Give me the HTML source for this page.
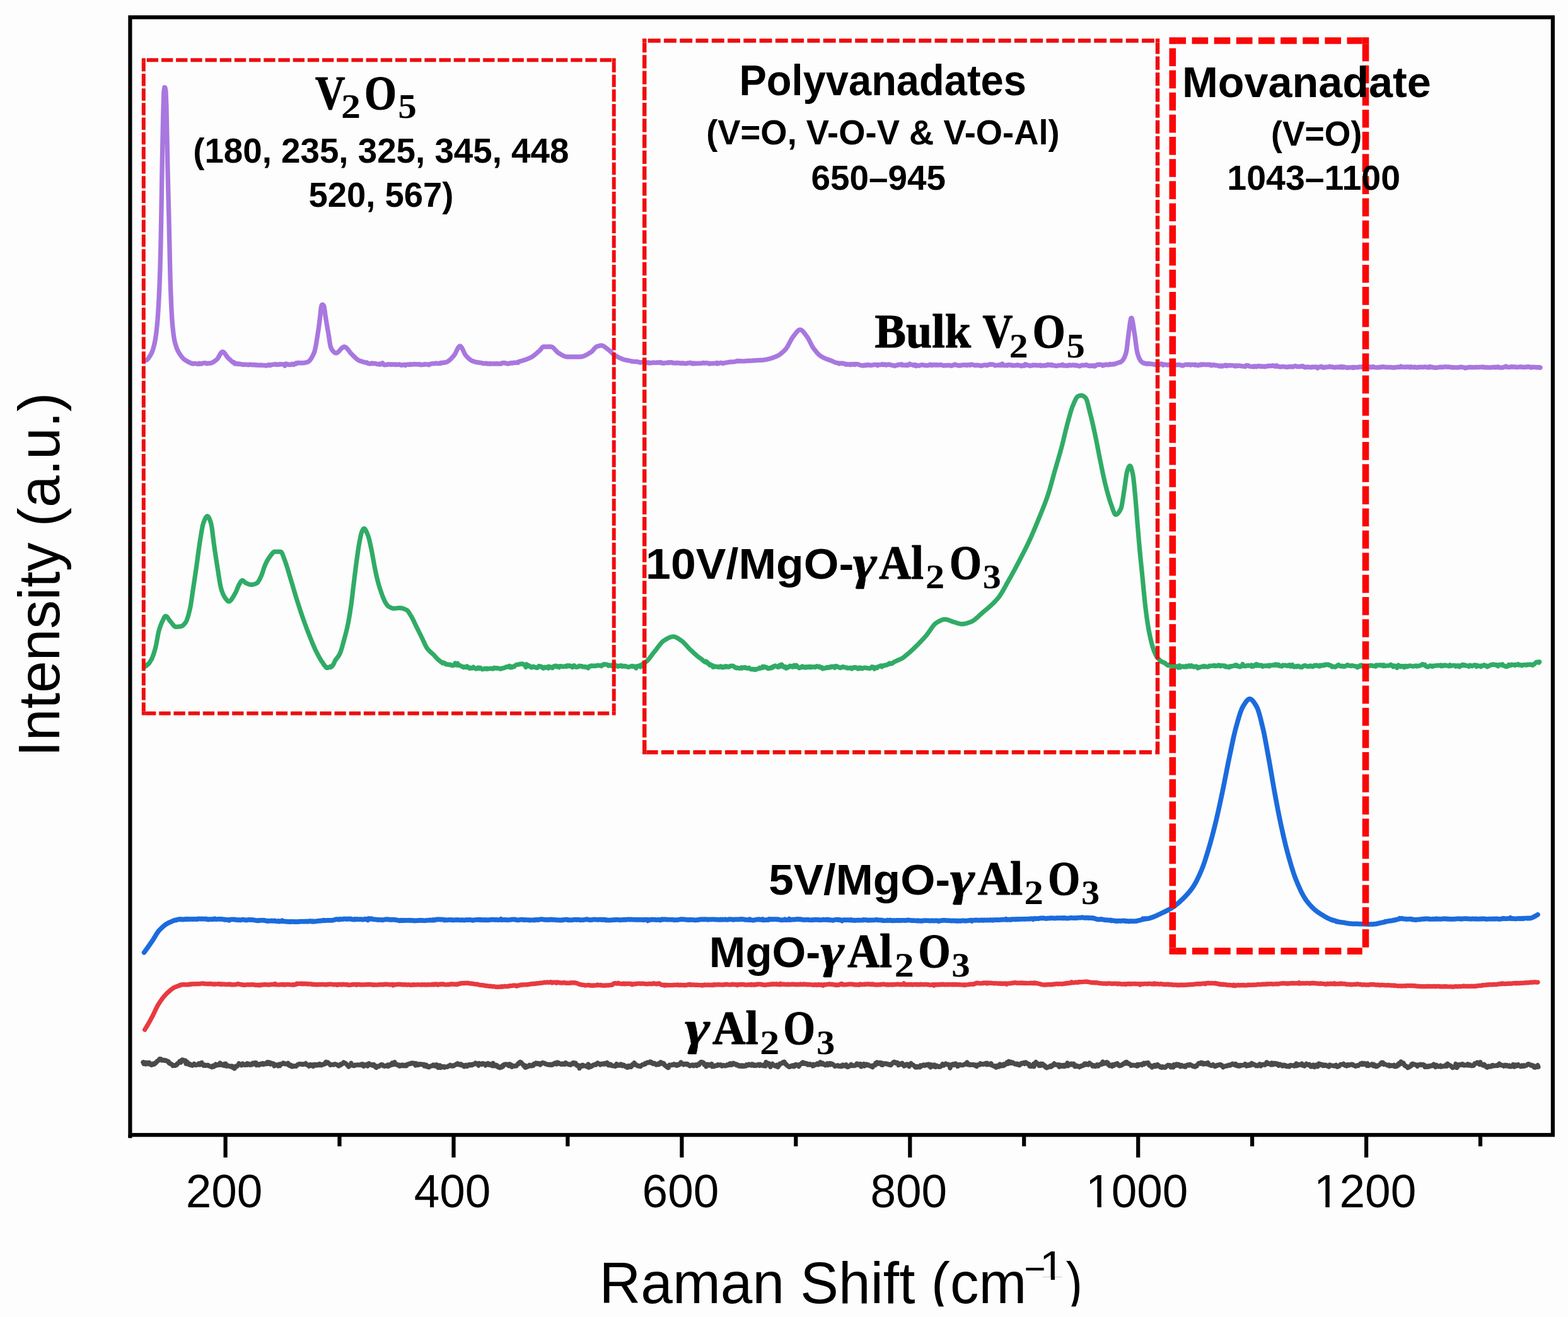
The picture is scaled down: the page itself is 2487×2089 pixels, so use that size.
<!DOCTYPE html>
<html lang="en"><head><meta charset="utf-8"><title>Raman spectra</title>
<style>
html,body{margin:0;padding:0;background:#fdfdfd;}
body{width:2487px;height:2089px;overflow:hidden;}
svg{display:block;position:absolute;left:0;top:0;}
text{fill:#000;white-space:pre;}
.a{font-family:"Liberation Sans",Arial,sans-serif;}
.b{font-family:"Liberation Sans",Arial,sans-serif;font-weight:bold;}
.c{font-family:"Liberation Serif","Times New Roman",serif;font-weight:bold;stroke:#000;stroke-width:1.2px;stroke-linejoin:round;}
.s{font-family:"Liberation Serif","Times New Roman",serif;font-weight:bold;}
.g{font-family:"Liberation Serif","Times New Roman",serif;font-weight:bold;font-style:italic;stroke:#000;stroke-width:0.5px;stroke-linejoin:round;}
.d{font-family:"DejaVu Serif","Liberation Serif",serif;font-weight:bold;}
.crv{fill:none;stroke-linejoin:round;stroke-linecap:round;}
.bx{fill:none;stroke-linecap:butt;stroke-linejoin:miter;}
</style></head><body>
<svg width="2487" height="2089" viewBox="0 0 2487 2089">
<rect x="0" y="0" width="2487" height="2089" fill="#fdfdfd"/>
<g id="curves">
<path class="crv" stroke="#a877df" stroke-width="7.3" d="M230.9,571.5 231.9,571.4 232.9,570.8 233.9,570.0 234.9,569.0 235.9,567.6 236.9,566.1 237.9,564.5 238.9,562.8 239.9,561.0 240.9,559.0 241.9,556.4 242.9,553.3 243.9,549.8 244.9,545.7 245.9,541.1 246.9,535.2 247.9,527.7 248.9,518.7 249.9,508.0 250.9,493.8 251.9,476.2 252.9,455.2 253.9,427.4 254.9,389.0 255.9,337.0 256.9,276.2 257.9,221.3 258.9,175.0 259.9,145.3 260.9,138.6 261.9,138.9 262.9,144.5 263.9,167.6 264.9,214.3 265.9,265.4 266.9,306.3 267.9,344.8 268.9,390.2 269.9,435.3 270.9,465.9 271.9,489.1 272.9,507.4 273.9,519.0 274.9,528.1 275.9,535.4 276.9,540.8 277.9,544.8 278.9,548.2 279.9,551.2 280.9,553.7 281.9,556.0 282.9,557.9 283.9,559.6 284.9,561.2 285.9,562.8 286.9,564.2 287.9,565.5 288.9,566.8 289.9,567.9 290.9,569.0 291.9,569.9 292.9,570.6 293.9,571.3 294.9,571.8 295.9,572.4 296.9,572.9 297.9,573.5 298.9,574.3 299.9,574.7 300.9,574.9 301.9,575.8 302.9,576.2 303.9,576.1 304.9,576.8 305.9,576.5 306.9,577.1 307.9,576.7 308.9,576.5 309.9,576.7 310.9,576.7 311.9,577.1 312.9,577.3 313.9,577.3 314.9,577.2 315.9,576.3 316.9,577.3 317.9,576.6 318.9,577.0 319.9,577.0 320.9,576.5 321.9,576.0 322.9,575.8 323.9,575.8 324.9,575.8 325.9,575.7 326.9,576.2 327.9,576.8 328.9,576.5 329.9,576.6 330.9,576.2 331.9,576.2 332.9,576.1 333.9,576.2 334.9,576.0 335.9,575.6 336.9,574.9 337.9,574.3 338.9,574.1 339.9,573.1 340.9,572.4 341.9,571.8 342.9,571.0 343.9,570.1 344.9,569.0 345.9,567.6 346.9,565.9 347.9,564.1 348.9,562.4 349.9,560.7 350.9,559.3 351.9,558.4 352.9,558.0 353.9,558.2 354.9,558.9 355.9,559.9 356.9,561.1 357.9,562.6 358.9,564.1 359.9,565.5 360.9,566.8 361.9,567.9 362.9,568.8 363.9,569.7 364.9,570.6 365.9,571.6 366.9,572.5 367.9,573.5 368.9,574.2 369.9,575.1 370.9,574.5 371.9,576.6 372.9,577.2 373.9,576.7 374.9,576.9 375.9,576.6 376.9,577.5 377.9,577.5 378.9,577.4 379.9,577.0 380.9,577.5 381.9,577.6 382.9,577.9 383.9,578.0 384.9,578.4 385.9,578.2 386.9,578.6 387.9,578.3 388.9,578.1 389.9,578.1 390.9,578.1 391.9,578.7 392.9,578.5 393.9,578.8 394.9,578.6 395.9,578.2 396.9,577.9 397.9,578.2 398.9,578.7 399.9,578.8 400.9,578.3 401.9,578.6 402.9,578.8 403.9,578.7 404.9,578.5 405.9,579.1 406.9,578.9 407.9,579.1 408.9,579.0 409.9,579.4 410.9,579.1 411.9,579.3 412.9,579.3 413.9,579.0 414.9,578.9 415.9,579.5 416.9,579.3 417.9,579.5 418.9,579.4 419.9,579.3 420.9,579.7 421.9,580.2 422.9,579.3 423.9,579.4 424.9,579.4 425.9,578.6 426.9,579.6 427.9,579.4 428.9,578.6 429.9,579.2 430.9,578.6 431.9,578.4 432.9,578.4 433.9,578.1 434.9,578.2 435.9,577.9 436.9,577.4 437.9,578.1 438.9,578.5 439.9,578.3 440.9,578.1 441.9,578.3 442.9,577.6 443.9,578.1 444.9,577.9 445.9,577.6 446.9,577.8 447.9,577.9 448.9,578.0 449.9,578.0 450.9,577.5 451.9,580.2 452.9,577.3 453.9,577.0 454.9,577.8 455.9,578.0 456.9,577.7 457.9,578.6 458.9,578.6 459.9,578.3 460.9,578.6 461.9,578.4 462.9,577.3 463.9,577.8 464.9,577.7 465.9,578.4 466.9,577.0 467.9,577.4 468.9,577.3 469.9,575.9 470.9,576.5 471.9,576.2 472.9,575.4 473.9,575.3 474.9,575.7 475.9,575.7 476.9,576.0 477.9,575.5 478.9,575.8 479.9,575.7 480.9,575.8 481.9,575.7 482.9,575.7 483.9,575.2 484.9,575.0 485.9,574.8 486.9,574.6 487.9,574.0 488.9,573.8 489.9,573.0 490.9,572.1 491.9,570.9 492.9,569.6 493.9,568.1 494.9,566.4 495.9,564.5 496.9,562.4 497.9,560.2 498.9,557.4 499.9,553.3 500.9,548.4 501.9,542.8 502.9,536.7 503.9,530.6 504.9,524.1 505.9,516.9 506.9,509.0 507.9,500.8 508.9,490.5 509.9,484.9 510.9,483.3 511.9,483.1 512.9,484.0 513.9,485.7 514.9,491.5 515.9,499.3 516.9,505.6 517.9,511.8 518.9,517.8 519.9,523.6 520.9,529.4 521.9,535.6 522.9,542.3 523.9,548.1 524.9,551.8 525.9,553.6 526.9,555.2 527.9,556.6 528.9,557.7 529.9,558.7 530.9,559.4 531.9,559.8 532.9,560.0 533.9,559.9 534.9,559.4 535.9,558.7 536.9,557.8 537.9,556.8 538.9,555.7 539.9,554.5 540.9,553.4 541.9,552.4 542.9,551.4 543.9,550.7 544.9,550.2 545.9,550.0 546.9,550.1 547.9,550.6 548.9,551.3 549.9,552.2 550.9,553.3 551.9,554.5 552.9,555.8 553.9,557.1 554.9,558.5 555.9,559.7 556.9,560.9 557.9,561.9 558.9,562.8 559.9,563.8 560.9,564.8 561.9,565.8 562.9,566.8 563.9,567.7 564.9,568.6 565.9,569.5 566.9,570.3 567.9,571.0 568.9,571.6 569.9,571.9 570.9,572.5 571.9,572.7 572.9,573.1 573.9,573.4 574.9,573.6 575.9,574.2 576.9,574.2 577.9,574.3 578.9,575.0 579.9,575.0 580.9,575.3 581.9,575.0 582.9,576.1 583.9,576.4 584.9,576.7 585.9,576.9 586.9,577.1 587.9,576.5 588.9,576.6 589.9,576.0 590.9,576.2 591.9,576.7 592.9,576.8 593.9,576.5 594.9,576.4 595.9,576.9 596.9,576.9 597.9,577.6 598.9,577.7 599.9,577.5 600.9,577.5 601.9,578.2 602.9,577.0 603.9,577.5 604.9,577.6 605.9,577.7 606.9,575.9 607.9,578.0 608.9,578.5 609.9,578.9 610.9,578.5 611.9,578.3 612.9,578.7 613.9,578.5 614.9,578.1 615.9,577.6 616.9,577.9 617.9,577.9 618.9,578.3 619.9,577.9 620.9,578.3 621.9,578.2 622.9,577.8 623.9,578.2 624.9,578.2 625.9,578.2 626.9,578.6 627.9,578.0 628.9,578.3 629.9,578.3 630.9,578.2 631.9,578.5 632.9,578.0 633.9,578.0 634.9,578.7 635.9,578.9 636.9,579.4 637.9,578.9 638.9,578.4 639.9,578.9 640.9,578.6 641.9,578.4 642.9,579.5 643.9,578.5 644.9,578.4 645.9,578.2 646.9,578.2 647.9,578.2 648.9,578.6 649.9,577.9 650.9,577.7 651.9,578.4 652.9,578.3 653.9,577.9 654.9,577.8 655.9,577.7 656.9,577.4 657.9,578.0 658.9,577.7 659.9,577.7 660.9,577.8 661.9,578.0 662.9,577.9 663.9,578.0 664.9,577.4 665.9,578.1 666.9,578.7 667.9,578.1 668.9,578.7 669.9,578.5 670.9,578.4 671.9,578.2 672.9,577.6 673.9,578.2 674.9,577.7 675.9,577.8 676.9,578.1 677.9,577.8 678.9,578.1 679.9,578.8 680.9,578.0 681.9,577.9 682.9,577.2 683.9,577.1 684.9,576.8 685.9,576.9 686.9,576.7 687.9,576.8 688.9,576.9 689.9,576.5 690.9,576.2 691.9,576.1 692.9,576.6 693.9,576.5 694.9,576.7 695.9,576.7 696.9,576.2 697.9,576.3 698.9,575.5 699.9,576.2 700.9,575.7 701.9,575.4 702.9,575.2 703.9,575.4 704.9,574.8 705.9,574.9 706.9,574.9 707.9,574.5 708.9,574.0 709.9,573.6 710.9,572.7 711.9,572.2 712.9,571.4 713.9,570.5 714.9,569.6 715.9,568.6 716.9,567.5 717.9,566.4 718.9,565.2 719.9,564.1 720.9,562.8 721.9,561.1 722.9,559.1 723.9,557.0 724.9,554.9 725.9,553.0 726.9,551.3 727.9,550.0 728.9,549.2 729.9,549.0 730.9,549.6 731.9,550.8 732.9,552.4 733.9,554.4 734.9,556.5 735.9,558.7 736.9,560.7 737.9,562.5 738.9,563.9 739.9,565.0 740.9,566.0 741.9,567.1 742.9,568.1 743.9,569.0 744.9,569.8 745.9,570.7 746.9,571.3 747.9,571.9 748.9,572.4 749.9,572.7 750.9,573.1 751.9,573.4 752.9,573.7 753.9,574.0 754.9,574.4 755.9,574.6 756.9,574.9 757.9,574.8 758.9,574.7 759.9,575.2 760.9,575.4 761.9,575.4 762.9,575.6 763.9,575.6 764.9,575.9 765.9,576.4 766.9,576.6 767.9,576.4 768.9,576.7 769.9,576.4 770.9,576.2 771.9,576.6 772.9,577.1 773.9,576.5 774.9,577.1 775.9,577.2 776.9,577.2 777.9,576.5 778.9,577.3 779.9,576.8 780.9,576.8 781.9,576.8 782.9,577.1 783.9,576.9 784.9,576.8 785.9,577.2 786.9,576.7 787.9,576.6 788.9,577.0 789.9,577.0 790.9,577.2 791.9,576.7 792.9,577.2 793.9,576.9 794.9,577.0 795.9,575.9 796.9,576.0 797.9,575.7 798.9,575.3 799.9,575.5 800.9,576.1 801.9,575.9 802.9,576.1 803.9,576.8 804.9,577.0 805.9,577.0 806.9,576.4 807.9,576.3 808.9,576.3 809.9,575.7 810.9,575.6 811.9,576.0 812.9,576.2 813.9,575.6 814.9,575.2 815.9,575.3 816.9,575.2 817.9,575.3 818.9,575.3 819.9,574.9 820.9,574.5 821.9,575.2 822.9,573.7 823.9,573.5 824.9,573.1 825.9,572.8 826.9,572.7 827.9,572.3 828.9,571.9 829.9,571.6 830.9,571.2 831.9,570.9 832.9,570.8 833.9,570.4 834.9,570.0 835.9,569.6 836.9,569.2 837.9,568.8 838.9,568.4 839.9,568.0 840.9,567.6 841.9,567.1 842.9,566.5 843.9,565.9 844.9,565.3 845.9,564.5 846.9,563.8 847.9,563.0 848.9,562.2 849.9,561.4 850.9,560.5 851.9,559.6 852.9,558.7 853.9,557.9 854.9,557.0 855.9,556.1 856.9,555.1 857.9,553.8 858.9,552.5 859.9,551.3 860.9,550.4 861.9,550.0 862.9,550.0 863.9,550.0 864.9,550.0 865.9,550.0 866.9,550.0 867.9,550.0 868.9,550.0 869.9,550.0 870.9,550.0 871.9,550.0 872.9,550.0 873.9,550.0 874.9,550.1 875.9,550.5 876.9,551.2 877.9,552.0 878.9,553.0 879.9,554.0 880.9,555.2 881.9,556.3 882.9,557.4 883.9,558.4 884.9,559.2 885.9,559.9 886.9,560.5 887.9,561.1 888.9,561.7 889.9,562.3 890.9,562.9 891.9,563.4 892.9,563.9 893.9,564.4 894.9,564.9 895.9,565.2 896.9,565.5 897.9,565.8 898.9,565.9 899.9,566.0 900.9,566.0 901.9,566.0 902.9,566.0 903.9,566.0 904.9,566.0 905.9,566.0 906.9,566.0 907.9,566.0 908.9,566.0 909.9,566.0 910.9,566.0 911.9,566.0 912.9,566.0 913.9,566.0 914.9,566.0 915.9,566.0 916.9,566.0 917.9,566.0 918.9,566.0 919.9,566.0 920.9,566.0 921.9,565.9 922.9,565.7 923.9,565.5 924.9,565.2 925.9,564.8 926.9,564.4 927.9,564.0 928.9,563.5 929.9,563.0 930.9,562.4 931.9,561.9 932.9,561.3 933.9,560.6 934.9,560.0 935.9,559.4 936.9,558.7 937.9,558.1 938.9,557.3 939.9,556.3 940.9,555.1 941.9,553.9 942.9,552.7 943.9,551.6 944.9,550.7 945.9,550.0 946.9,549.6 947.9,549.3 948.9,548.9 949.9,548.6 950.9,548.4 951.9,548.2 952.9,548.1 953.9,548.0 954.9,548.1 955.9,548.4 956.9,548.8 957.9,549.4 958.9,550.1 959.9,550.8 960.9,551.6 961.9,552.4 962.9,553.2 963.9,553.9 964.9,554.7 965.9,555.5 966.9,556.3 967.9,557.2 968.9,558.1 969.9,559.1 970.9,560.0 971.9,560.9 972.9,561.8 973.9,562.6 974.9,563.3 975.9,563.9 976.9,564.5 977.9,565.1 978.9,565.6 979.9,566.2 980.9,566.7 981.9,567.2 982.9,567.7 983.9,568.2 984.9,568.6 985.9,569.0 986.9,569.4 987.9,569.8 988.9,570.2 989.9,570.5 990.9,570.8 991.9,571.1 992.9,571.1 993.9,571.4 994.9,571.6 995.9,571.7 996.9,571.9 997.9,572.1 998.9,572.3 999.9,572.5 1000.9,572.8 1001.9,573.3 1002.9,573.2 1003.9,573.2 1004.9,573.5 1005.9,573.6 1006.9,573.7 1007.9,573.5 1008.9,573.8 1009.9,573.6 1010.9,573.6 1011.9,573.9 1012.9,574.3 1013.9,574.7 1014.9,574.9 1015.9,575.2 1016.9,574.9 1017.9,574.6 1018.9,574.6 1019.9,574.2 1020.9,573.5 1021.9,574.4 1022.9,574.4 1023.9,575.6 1024.9,574.9 1025.9,575.0 1026.9,575.2 1027.9,575.7 1028.9,575.0 1029.9,575.8 1030.9,576.1 1031.9,575.6 1032.9,575.5 1033.9,575.4 1034.9,575.6 1035.9,574.9 1036.9,575.2 1037.9,575.2 1038.9,575.4 1039.9,575.3 1040.9,575.4 1041.9,575.0 1042.9,575.0 1043.9,574.9 1044.9,575.0 1045.9,575.2 1046.9,575.3 1047.9,574.6 1048.9,575.9 1049.9,575.7 1050.9,575.6 1051.9,576.3 1052.9,575.8 1053.9,576.0 1054.9,575.7 1055.9,575.6 1056.9,575.5 1057.9,575.2 1058.9,575.3 1059.9,575.7 1060.9,574.6 1061.9,575.0 1062.9,575.0 1063.9,574.7 1064.9,574.7 1065.9,575.6 1066.9,575.2 1067.9,575.8 1068.9,575.6 1069.9,575.6 1070.9,575.9 1071.9,576.0 1072.9,576.1 1073.9,575.4 1074.9,575.5 1075.9,575.7 1076.9,576.0 1077.9,576.1 1078.9,575.8 1079.9,576.1 1080.9,576.4 1081.9,576.1 1082.9,575.8 1083.9,576.1 1084.9,576.4 1085.9,576.6 1086.9,576.7 1087.9,576.3 1088.9,576.7 1089.9,576.1 1090.9,575.8 1091.9,576.1 1092.9,575.6 1093.9,575.7 1094.9,575.3 1095.9,576.1 1096.9,576.4 1097.9,576.8 1098.9,576.1 1099.9,576.9 1100.9,576.5 1101.9,576.8 1102.9,576.1 1103.9,576.6 1104.9,576.4 1105.9,576.5 1106.9,576.3 1107.9,576.2 1108.9,576.4 1109.9,576.3 1110.9,576.2 1111.9,576.3 1112.9,576.2 1113.9,575.9 1114.9,575.5 1115.9,575.5 1116.9,576.1 1117.9,576.0 1118.9,575.9 1119.9,575.7 1120.9,575.9 1121.9,575.9 1122.9,576.0 1123.9,576.1 1124.9,577.1 1125.9,576.9 1126.9,576.7 1127.9,576.5 1128.9,576.4 1129.9,576.6 1130.9,576.5 1131.9,576.3 1132.9,576.3 1133.9,576.2 1134.9,576.1 1135.9,576.6 1136.9,575.6 1137.9,576.8 1138.9,576.0 1139.9,576.1 1140.9,576.3 1141.9,575.8 1142.9,575.5 1143.9,575.5 1144.9,575.8 1145.9,575.9 1146.9,576.5 1147.9,576.0 1148.9,575.8 1149.9,575.5 1150.9,575.2 1151.9,575.1 1152.9,575.1 1153.9,575.0 1154.9,574.7 1155.9,574.6 1156.9,574.4 1157.9,574.0 1158.9,574.0 1159.9,574.2 1160.9,574.0 1161.9,574.2 1162.9,573.9 1163.9,573.9 1164.9,573.8 1165.9,573.6 1166.9,573.2 1167.9,573.1 1168.9,573.0 1169.9,572.3 1170.9,572.9 1171.9,572.9 1172.9,572.7 1173.9,572.9 1174.9,572.7 1175.9,572.8 1176.9,572.8 1177.9,572.8 1178.9,572.9 1179.9,572.8 1180.9,572.9 1181.9,572.7 1182.9,572.6 1183.9,572.5 1184.9,572.3 1185.9,572.3 1186.9,572.2 1187.9,572.3 1188.9,572.2 1189.9,572.3 1190.9,572.3 1191.9,572.2 1192.9,572.1 1193.9,572.1 1194.9,572.0 1195.9,571.9 1196.9,571.7 1197.9,571.8 1198.9,571.9 1199.9,571.6 1200.9,571.5 1201.9,571.5 1202.9,571.3 1203.9,571.4 1204.9,571.3 1205.9,571.2 1206.9,571.3 1207.9,571.3 1208.9,571.1 1209.9,571.1 1210.9,571.0 1211.9,570.9 1212.9,570.7 1213.9,570.5 1214.9,570.4 1215.9,570.2 1216.9,569.9 1217.9,569.7 1218.9,569.5 1219.9,569.2 1220.9,569.0 1221.9,568.6 1222.9,568.4 1223.9,568.0 1224.9,567.7 1225.9,567.4 1226.9,567.0 1227.9,566.6 1228.9,566.3 1229.9,565.9 1230.9,565.5 1231.9,565.0 1232.9,564.6 1233.9,564.1 1234.9,563.5 1235.9,562.9 1236.9,562.2 1237.9,561.5 1238.9,560.7 1239.9,559.9 1240.9,559.0 1241.9,558.1 1242.9,557.2 1243.9,556.2 1244.9,555.2 1245.9,554.1 1246.9,552.9 1247.9,551.5 1248.9,549.9 1249.9,548.2 1250.9,546.3 1251.9,544.4 1252.9,542.5 1253.9,540.6 1254.9,538.8 1255.9,537.1 1256.9,535.5 1257.9,534.1 1258.9,532.8 1259.9,531.5 1260.9,530.2 1261.9,528.8 1262.9,527.5 1263.9,526.3 1264.9,525.3 1265.9,524.3 1266.9,523.6 1267.9,523.2 1268.9,523.0 1269.9,523.1 1270.9,523.5 1271.9,524.2 1272.9,525.0 1273.9,526.0 1274.9,527.2 1275.9,528.5 1276.9,529.8 1277.9,531.2 1278.9,532.5 1279.9,533.9 1280.9,535.3 1281.9,536.9 1282.9,538.7 1283.9,540.7 1284.9,542.7 1285.9,544.7 1286.9,546.7 1287.9,548.6 1288.9,550.3 1289.9,551.9 1290.9,553.2 1291.9,554.5 1292.9,555.8 1293.9,557.1 1294.9,558.3 1295.9,559.5 1296.9,560.6 1297.9,561.6 1298.9,562.6 1299.9,563.4 1300.9,564.2 1301.9,564.9 1302.9,565.5 1303.9,566.1 1304.9,566.7 1305.9,567.2 1306.9,567.7 1307.9,568.2 1308.9,568.6 1309.9,569.1 1310.9,569.4 1311.9,569.8 1312.9,570.2 1313.9,570.5 1314.9,570.9 1315.9,571.3 1316.9,571.7 1317.9,571.8 1318.9,572.3 1319.9,572.8 1320.9,573.2 1321.9,573.7 1322.9,574.1 1323.9,574.7 1324.9,574.8 1325.9,575.2 1326.9,575.5 1327.9,575.7 1328.9,575.7 1329.9,576.1 1330.9,577.0 1331.9,576.2 1332.9,576.3 1333.9,576.2 1334.9,576.3 1335.9,576.2 1336.9,576.1 1337.9,576.7 1338.9,576.9 1339.9,577.6 1340.9,577.9 1341.9,577.3 1342.9,578.3 1343.9,577.8 1344.9,577.8 1345.9,578.1 1346.9,577.9 1347.9,577.8 1348.9,578.6 1349.9,577.6 1350.9,577.8 1351.9,578.1 1352.9,577.5 1353.9,577.9 1354.9,578.1 1355.9,578.5 1356.9,577.4 1357.9,577.5 1358.9,577.7 1359.9,577.7 1360.9,577.7 1361.9,578.3 1362.9,578.6 1363.9,578.9 1364.9,579.3 1365.9,579.5 1366.9,579.6 1367.9,579.9 1368.9,579.7 1369.9,580.1 1370.9,579.1 1371.9,579.6 1372.9,579.5 1373.9,578.8 1374.9,579.3 1375.9,579.3 1376.9,578.5 1377.9,578.9 1378.9,578.9 1379.9,579.6 1380.9,579.4 1381.9,579.3 1382.9,579.1 1383.9,579.2 1384.9,578.8 1385.9,578.6 1386.9,578.5 1387.9,578.6 1388.9,578.3 1389.9,578.7 1390.9,578.5 1391.9,579.7 1392.9,578.4 1393.9,578.9 1394.9,578.7 1395.9,578.7 1396.9,578.6 1397.9,578.7 1398.9,577.7 1399.9,578.4 1400.9,577.9 1401.9,578.8 1402.9,577.9 1403.9,578.2 1404.9,578.1 1405.9,579.1 1406.9,578.2 1407.9,578.5 1408.9,578.2 1409.9,577.8 1410.9,578.2 1411.9,578.7 1412.9,578.7 1413.9,579.3 1414.9,579.2 1415.9,579.5 1416.9,579.5 1417.9,579.9 1418.9,580.5 1419.9,580.0 1420.9,579.8 1421.9,579.3 1422.9,579.0 1423.9,579.4 1424.9,578.4 1425.9,578.3 1426.9,578.4 1427.9,578.2 1428.9,578.9 1429.9,577.8 1430.9,578.9 1431.9,579.3 1432.9,578.9 1433.9,578.9 1434.9,579.2 1435.9,579.5 1436.9,578.8 1437.9,578.7 1438.9,579.6 1439.9,579.6 1440.9,578.8 1441.9,577.8 1442.9,577.0 1443.9,578.2 1444.9,578.7 1445.9,578.6 1446.9,578.7 1447.9,578.9 1448.9,579.5 1449.9,579.5 1450.9,578.4 1451.9,578.7 1452.9,580.6 1453.9,579.3 1454.9,579.3 1455.9,579.9 1456.9,580.1 1457.9,580.2 1458.9,579.6 1459.9,579.3 1460.9,579.0 1461.9,579.1 1462.9,578.7 1463.9,578.9 1464.9,579.0 1465.9,579.5 1466.9,579.4 1467.9,579.4 1468.9,579.7 1469.9,579.7 1470.9,579.8 1471.9,579.4 1472.9,579.4 1473.9,578.9 1474.9,578.3 1475.9,578.2 1476.9,578.8 1477.9,579.5 1478.9,578.9 1479.9,578.6 1480.9,578.5 1481.9,579.1 1482.9,579.2 1483.9,578.8 1484.9,578.5 1485.9,579.2 1486.9,578.7 1487.9,579.0 1488.9,579.0 1489.9,578.6 1490.9,578.8 1491.9,578.4 1492.9,578.9 1493.9,578.9 1494.9,579.7 1495.9,579.7 1496.9,580.0 1497.9,579.8 1498.9,579.4 1499.9,579.7 1500.9,579.5 1501.9,579.8 1502.9,579.7 1503.9,579.1 1504.9,579.3 1505.9,579.3 1506.9,579.3 1507.9,579.9 1508.9,580.3 1509.9,579.8 1510.9,579.7 1511.9,578.8 1512.9,579.0 1513.9,578.5 1514.9,577.9 1515.9,578.7 1516.9,579.1 1517.9,579.1 1518.9,579.5 1519.9,579.6 1520.9,580.1 1521.9,579.3 1522.9,579.4 1523.9,579.9 1524.9,579.1 1525.9,579.2 1526.9,579.0 1527.9,578.7 1528.9,579.0 1529.9,579.0 1530.9,578.6 1531.9,579.0 1532.9,579.4 1533.9,579.5 1534.9,578.7 1535.9,578.8 1536.9,578.6 1537.9,579.3 1538.9,579.1 1539.9,578.1 1540.9,578.3 1541.9,578.2 1542.9,578.7 1543.9,579.0 1544.9,579.0 1545.9,579.4 1546.9,579.6 1547.9,579.6 1548.9,579.3 1549.9,578.9 1550.9,579.4 1551.9,579.5 1552.9,579.4 1553.9,579.7 1554.9,579.9 1555.9,580.4 1556.9,580.0 1557.9,579.8 1558.9,579.8 1559.9,579.1 1560.9,579.2 1561.9,578.9 1562.9,578.9 1563.9,579.3 1564.9,579.7 1565.9,579.1 1566.9,579.3 1567.9,578.5 1568.9,578.3 1569.9,577.8 1570.9,577.9 1571.9,578.4 1572.9,577.9 1573.9,578.1 1574.9,578.2 1575.9,578.4 1576.9,578.7 1577.9,579.9 1578.9,579.5 1579.9,579.4 1580.9,579.4 1581.9,579.3 1582.9,579.1 1583.9,579.3 1584.9,579.0 1585.9,579.4 1586.9,578.2 1587.9,578.7 1588.9,579.4 1589.9,577.0 1590.9,578.5 1591.9,578.9 1592.9,579.5 1593.9,579.4 1594.9,579.5 1595.9,579.2 1596.9,579.0 1597.9,579.9 1598.9,578.8 1599.9,578.6 1600.9,578.6 1601.9,578.9 1602.9,579.1 1603.9,579.5 1604.9,579.6 1605.9,579.2 1606.9,579.9 1607.9,579.8 1608.9,579.9 1609.9,579.5 1610.9,579.7 1611.9,579.4 1612.9,579.3 1613.9,578.7 1614.9,579.2 1615.9,579.5 1616.9,579.5 1617.9,580.0 1618.9,580.1 1619.9,580.7 1620.9,579.7 1621.9,580.2 1622.9,580.2 1623.9,579.4 1624.9,579.9 1625.9,577.7 1626.9,578.4 1627.9,578.1 1628.9,579.1 1629.9,579.2 1630.9,579.7 1631.9,579.4 1632.9,579.8 1633.9,580.5 1634.9,580.0 1635.9,579.8 1636.9,579.7 1637.9,579.0 1638.9,579.5 1639.9,579.1 1640.9,579.2 1641.9,579.0 1642.9,579.5 1643.9,579.2 1644.9,579.6 1645.9,579.5 1646.9,579.4 1647.9,579.4 1648.9,579.7 1649.9,579.1 1650.9,580.4 1651.9,580.1 1652.9,580.0 1653.9,579.8 1654.9,579.6 1655.9,579.7 1656.9,580.0 1657.9,580.1 1658.9,579.3 1659.9,578.9 1660.9,579.3 1661.9,578.4 1662.9,579.2 1663.9,578.8 1664.9,578.5 1665.9,579.2 1666.9,579.5 1667.9,578.6 1668.9,579.5 1669.9,579.1 1670.9,579.9 1671.9,579.7 1672.9,579.6 1673.9,580.3 1674.9,580.4 1675.9,580.5 1676.9,580.2 1677.9,579.8 1678.9,579.5 1679.9,579.5 1680.9,579.7 1681.9,579.6 1682.9,579.7 1683.9,578.8 1684.9,578.2 1685.9,579.2 1686.9,580.0 1687.9,579.6 1688.9,579.5 1689.9,580.1 1690.9,579.8 1691.9,580.1 1692.9,579.5 1693.9,580.2 1694.9,579.6 1695.9,578.8 1696.9,579.1 1697.9,579.5 1698.9,579.5 1699.9,579.5 1700.9,579.0 1701.9,579.0 1702.9,579.2 1703.9,579.6 1704.9,579.2 1705.9,579.2 1706.9,579.9 1707.9,579.3 1708.9,579.9 1709.9,579.9 1710.9,580.4 1711.9,580.9 1712.9,580.7 1713.9,580.5 1714.9,579.6 1715.9,579.2 1716.9,579.2 1717.9,579.3 1718.9,579.2 1719.9,579.6 1720.9,579.1 1721.9,579.2 1722.9,578.5 1723.9,579.4 1724.9,579.6 1725.9,579.6 1726.9,580.5 1727.9,580.0 1728.9,580.5 1729.9,579.9 1730.9,580.6 1731.9,579.9 1732.9,580.4 1733.9,579.6 1734.9,579.9 1735.9,581.0 1736.9,580.9 1737.9,579.8 1738.9,579.3 1739.9,578.4 1740.9,578.9 1741.9,578.6 1742.9,578.0 1743.9,578.5 1744.9,578.2 1745.9,578.3 1746.9,578.8 1747.9,578.8 1748.9,579.8 1749.9,578.7 1750.9,579.3 1751.9,579.1 1752.9,578.8 1753.9,578.0 1754.9,578.6 1755.9,578.3 1756.9,578.6 1757.9,578.9 1758.9,578.4 1759.9,577.7 1760.9,577.5 1761.9,578.3 1762.9,577.8 1763.9,578.0 1764.9,577.9 1765.9,577.2 1766.9,577.9 1767.9,577.5 1768.9,577.2 1769.9,576.5 1770.9,576.4 1771.9,576.1 1772.9,575.7 1773.9,575.1 1774.9,575.0 1775.9,574.5 1776.9,574.7 1777.9,573.6 1778.9,573.4 1779.9,572.5 1780.9,571.1 1781.9,569.8 1782.9,567.9 1783.9,565.7 1784.9,563.2 1785.9,560.3 1786.9,555.5 1787.9,547.7 1788.9,538.7 1789.9,530.7 1790.9,523.4 1791.9,515.6 1792.9,508.8 1793.9,504.6 1794.9,504.4 1795.9,507.5 1796.9,512.6 1797.9,519.0 1798.9,525.7 1799.9,531.8 1800.9,539.1 1801.9,547.1 1802.9,554.4 1803.9,559.6 1804.9,562.9 1805.9,565.8 1806.9,568.3 1807.9,570.3 1808.9,572.1 1809.9,573.2 1810.9,574.0 1811.9,574.7 1812.9,575.8 1813.9,575.9 1814.9,575.8 1815.9,576.7 1816.9,576.5 1817.9,576.7 1818.9,577.3 1819.9,577.2 1820.9,576.9 1821.9,576.5 1822.9,577.2 1823.9,577.4 1824.9,577.3 1825.9,577.1 1826.9,577.3 1827.9,577.3 1828.9,577.8 1829.9,578.1 1830.9,578.3 1831.9,577.9 1832.9,578.3 1833.9,578.9 1834.9,578.9 1835.9,578.3 1836.9,579.0 1837.9,578.4 1838.9,578.4 1839.9,577.8 1840.9,577.7 1841.9,576.9 1842.9,577.3 1843.9,577.8 1844.9,579.3 1845.9,578.1 1846.9,578.2 1847.9,578.2 1848.9,578.2 1849.9,578.5 1850.9,578.9 1851.9,579.0 1852.9,579.1 1853.9,578.5 1854.9,578.1 1855.9,578.2 1856.9,578.0 1857.9,578.1 1858.9,578.9 1859.9,578.6 1860.9,578.7 1861.9,579.0 1862.9,578.9 1863.9,578.3 1864.9,578.8 1865.9,578.6 1866.9,578.6 1867.9,578.8 1868.9,578.3 1869.9,578.4 1870.9,578.7 1871.9,579.1 1872.9,579.0 1873.9,579.4 1874.9,579.9 1875.9,580.1 1876.9,579.7 1877.9,579.1 1878.9,578.8 1879.9,578.5 1880.9,578.5 1881.9,578.2 1882.9,578.1 1883.9,578.8 1884.9,578.3 1885.9,578.1 1886.9,578.6 1887.9,579.1 1888.9,578.5 1889.9,578.8 1890.9,578.3 1891.9,578.3 1892.9,578.3 1893.9,578.5 1894.9,579.1 1895.9,578.3 1896.9,579.2 1897.9,579.1 1898.9,579.1 1899.9,579.6 1900.9,579.6 1901.9,578.7 1902.9,578.6 1903.9,578.8 1904.9,578.0 1905.9,578.9 1906.9,578.0 1907.9,578.3 1908.9,578.0 1909.9,578.3 1910.9,578.1 1911.9,578.7 1912.9,578.3 1913.9,578.5 1914.9,578.1 1915.9,578.2 1916.9,578.7 1917.9,578.1 1918.9,578.1 1919.9,579.1 1920.9,579.8 1921.9,579.0 1922.9,579.3 1923.9,578.7 1924.9,579.1 1925.9,578.7 1926.9,579.5 1927.9,579.6 1928.9,579.3 1929.9,579.5 1930.9,579.6 1931.9,580.2 1932.9,580.6 1933.9,580.0 1934.9,580.8 1935.9,580.2 1936.9,580.9 1937.9,580.0 1938.9,581.0 1939.9,580.2 1940.9,580.0 1941.9,579.6 1942.9,580.0 1943.9,579.1 1944.9,579.8 1945.9,580.5 1946.9,579.7 1947.9,579.7 1948.9,579.8 1949.9,579.4 1950.9,579.6 1951.9,579.9 1952.9,579.6 1953.9,579.7 1954.9,579.6 1955.9,579.9 1956.9,579.9 1957.9,580.4 1958.9,580.9 1959.9,580.1 1960.9,579.6 1961.9,580.5 1962.9,580.6 1963.9,580.1 1964.9,579.8 1965.9,580.1 1966.9,580.6 1967.9,580.2 1968.9,580.5 1969.9,580.8 1970.9,581.0 1971.9,580.8 1972.9,580.9 1973.9,580.9 1974.9,581.5 1975.9,581.2 1976.9,579.5 1977.9,579.9 1978.9,580.0 1979.9,579.7 1980.9,580.4 1981.9,581.2 1982.9,581.2 1983.9,581.3 1984.9,581.5 1985.9,581.5 1986.9,581.1 1987.9,581.2 1988.9,581.8 1989.9,580.8 1990.9,580.9 1991.9,581.3 1992.9,581.7 1993.9,580.9 1994.9,580.4 1995.9,580.8 1996.9,580.4 1997.9,581.2 1998.9,581.0 1999.9,581.4 2000.9,581.0 2001.9,581.3 2002.9,581.1 2003.9,581.3 2004.9,581.1 2005.9,581.7 2006.9,581.0 2007.9,581.4 2008.9,580.8 2009.9,580.9 2010.9,580.6 2011.9,580.2 2012.9,580.5 2013.9,580.6 2014.9,580.4 2015.9,580.5 2016.9,580.2 2017.9,580.3 2018.9,579.8 2019.9,580.5 2020.9,580.4 2021.9,580.5 2022.9,581.3 2023.9,580.9 2024.9,579.8 2025.9,580.7 2026.9,581.1 2027.9,581.5 2028.9,581.5 2029.9,581.8 2030.9,582.0 2031.9,581.8 2032.9,581.7 2033.9,581.4 2034.9,581.4 2035.9,581.5 2036.9,581.7 2037.9,581.8 2038.9,581.9 2039.9,582.1 2040.9,582.3 2041.9,582.1 2042.9,582.0 2043.9,581.9 2044.9,581.6 2045.9,581.4 2046.9,581.8 2047.9,581.8 2048.9,581.5 2049.9,581.4 2050.9,582.0 2051.9,581.1 2052.9,581.1 2053.9,580.4 2054.9,580.8 2055.9,581.1 2056.9,581.6 2057.9,581.5 2058.9,581.5 2059.9,581.5 2060.9,581.4 2061.9,581.5 2062.9,581.1 2063.9,581.0 2064.9,581.2 2065.9,580.6 2066.9,581.7 2067.9,582.1 2068.9,581.7 2069.9,582.6 2070.9,582.8 2071.9,582.5 2072.9,582.0 2073.9,581.9 2074.9,582.3 2075.9,582.1 2076.9,582.6 2077.9,582.4 2078.9,582.7 2079.9,582.8 2080.9,581.9 2081.9,582.4 2082.9,582.1 2083.9,582.0 2084.9,582.2 2085.9,582.3 2086.9,581.9 2087.9,582.0 2088.9,582.6 2089.9,583.9 2090.9,582.4 2091.9,582.3 2092.9,582.0 2093.9,581.6 2094.9,582.1 2095.9,581.4 2096.9,582.5 2097.9,583.0 2098.9,582.6 2099.9,582.5 2100.9,583.1 2101.9,582.1 2102.9,582.2 2103.9,582.3 2104.9,582.1 2105.9,582.2 2106.9,581.8 2107.9,582.1 2108.9,581.2 2109.9,581.9 2110.9,581.7 2111.9,582.1 2112.9,582.3 2113.9,582.0 2114.9,582.5 2115.9,582.8 2116.9,582.7 2117.9,583.0 2118.9,582.2 2119.9,582.3 2120.9,582.4 2121.9,582.1 2122.9,582.5 2123.9,582.2 2124.9,582.6 2125.9,581.5 2126.9,582.5 2127.9,582.1 2128.9,581.7 2129.9,582.9 2130.9,581.9 2131.9,582.3 2132.9,582.2 2133.9,582.5 2134.9,583.0 2135.9,582.9 2136.9,583.3 2137.9,582.7 2138.9,583.2 2139.9,582.9 2140.9,582.8 2141.9,582.8 2142.9,582.9 2143.9,582.9 2144.9,582.5 2145.9,583.5 2146.9,582.4 2147.9,583.0 2148.9,582.5 2149.9,582.7 2150.9,582.5 2151.9,582.8 2152.9,582.9 2153.9,582.5 2154.9,582.5 2155.9,582.0 2156.9,582.2 2157.9,582.2 2158.9,581.9 2159.9,582.3 2160.9,581.7 2161.9,581.7 2162.9,581.9 2163.9,582.2 2164.9,582.3 2165.9,582.3 2166.9,582.3 2167.9,582.4 2168.9,582.1 2169.9,581.9 2170.9,581.9 2171.9,582.7 2172.9,581.8 2173.9,582.3 2174.9,582.7 2175.9,582.5 2176.9,582.2 2177.9,581.5 2178.9,582.5 2179.9,582.7 2180.9,582.7 2181.9,582.8 2182.9,582.8 2183.9,582.9 2184.9,583.0 2185.9,582.8 2186.9,582.4 2187.9,582.4 2188.9,582.8 2189.9,582.3 2190.9,582.0 2191.9,582.4 2192.9,581.6 2193.9,582.1 2194.9,581.8 2195.9,582.1 2196.9,582.3 2197.9,582.7 2198.9,582.3 2199.9,582.5 2200.9,582.3 2201.9,582.7 2202.9,582.5 2203.9,582.8 2204.9,582.5 2205.9,582.5 2206.9,582.9 2207.9,582.7 2208.9,583.0 2209.9,583.1 2210.9,583.0 2211.9,582.6 2212.9,582.9 2213.9,582.6 2214.9,582.7 2215.9,582.2 2216.9,582.4 2217.9,582.2 2218.9,582.3 2219.9,582.5 2220.9,582.2 2221.9,581.1 2222.9,582.0 2223.9,582.2 2224.9,582.1 2225.9,582.3 2226.9,582.3 2227.9,581.8 2228.9,582.2 2229.9,582.5 2230.9,582.0 2231.9,582.0 2232.9,581.9 2233.9,582.0 2234.9,582.4 2235.9,582.2 2236.9,582.8 2237.9,581.8 2238.9,582.4 2239.9,582.2 2240.9,582.3 2241.9,582.8 2242.9,582.7 2243.9,582.0 2244.9,582.7 2245.9,582.8 2246.9,582.7 2247.9,583.1 2248.9,582.5 2249.9,582.4 2250.9,582.2 2251.9,582.2 2252.9,582.6 2253.9,582.2 2254.9,582.2 2255.9,582.2 2256.9,582.5 2257.9,582.1 2258.9,582.2 2259.9,581.9 2260.9,581.8 2261.9,582.2 2262.9,582.5 2263.9,582.5 2264.9,582.1 2265.9,583.0 2266.9,582.3 2267.9,581.6 2268.9,582.5 2269.9,582.1 2270.9,582.1 2271.9,582.3 2272.9,582.8 2273.9,583.0 2274.9,583.0 2275.9,583.1 2276.9,583.4 2277.9,583.3 2278.9,582.8 2279.9,582.9 2280.9,582.8 2281.9,582.7 2282.9,582.3 2283.9,582.2 2284.9,582.3 2285.9,582.1 2286.9,582.5 2287.9,582.4 2288.9,582.4 2289.9,582.0 2290.9,582.0 2291.9,581.8 2292.9,581.7 2293.9,582.1 2294.9,581.9 2295.9,582.2 2296.9,581.8 2297.9,582.2 2298.9,581.9 2299.9,582.3 2300.9,582.5 2301.9,582.8 2302.9,582.7 2303.9,582.6 2304.9,582.8 2305.9,582.7 2306.9,582.8 2307.9,582.9 2308.9,582.8 2309.9,582.8 2310.9,583.0 2311.9,582.8 2312.9,582.9 2313.9,582.9 2314.9,582.7 2315.9,582.3 2316.9,582.0 2317.9,582.2 2318.9,582.3 2319.9,582.7 2320.9,582.6 2321.9,582.8 2322.9,583.0 2323.9,583.9 2324.9,583.2 2325.9,583.3 2326.9,583.2 2327.9,582.9 2328.9,582.5 2329.9,582.3 2330.9,582.6 2331.9,582.5 2332.9,582.6 2333.9,582.5 2334.9,582.6 2335.9,582.6 2336.9,582.7 2337.9,582.9 2338.9,582.7 2339.9,582.3 2340.9,582.5 2341.9,582.4 2342.9,582.5 2343.9,582.7 2344.9,582.5 2345.9,582.3 2346.9,582.5 2347.9,582.3 2348.9,582.2 2349.9,582.1 2350.9,582.1 2351.9,582.5 2352.9,581.9 2353.9,582.7 2354.9,582.9 2355.9,582.8 2356.9,582.8 2357.9,582.6 2358.9,582.6 2359.9,582.9 2360.9,582.8 2361.9,583.0 2362.9,583.0 2363.9,582.8 2364.9,582.8 2365.9,582.7 2366.9,582.7 2367.9,582.3 2368.9,582.5 2369.9,582.4 2370.9,582.1 2371.9,582.9 2372.9,582.3 2373.9,582.4 2374.9,582.7 2375.9,581.8 2376.9,582.8 2377.9,582.7 2378.9,582.9 2379.9,583.1 2380.9,583.2 2381.9,583.2 2382.9,583.0 2383.9,582.9 2384.9,582.6 2385.9,582.2 2386.9,581.5 2387.9,581.8 2388.9,581.0 2389.9,582.3 2390.9,582.2 2391.9,582.3 2392.9,582.5 2393.9,582.6 2394.9,582.1 2395.9,582.3 2396.9,581.9 2397.9,581.4 2398.9,581.8 2399.9,582.3 2400.9,582.1 2401.9,581.9 2402.9,582.1 2403.9,581.9 2404.9,582.4 2405.9,582.7 2406.9,582.7 2407.9,582.1 2408.9,582.2 2409.9,582.1 2410.9,581.9 2411.9,582.1 2412.9,581.7 2413.9,582.3 2414.9,582.2 2415.9,582.5 2416.9,582.2 2417.9,582.6 2418.9,582.3 2419.9,582.4 2420.9,582.0 2421.9,581.9 2422.9,582.1 2423.9,581.9 2424.9,581.6 2425.9,582.0 2426.9,582.5 2427.9,583.0 2428.9,583.0 2429.9,582.1 2430.9,582.1 2431.9,582.3 2432.9,582.4 2433.9,582.4 2434.9,582.5 2435.9,582.4 2436.9,582.8 2437.9,582.8 2438.9,582.5 2439.9,582.3 2440.9,583.1 2441.9,582.6 2442.9,583.0 2443.0,583.1"/>
<path class="crv" stroke="#30ab66" stroke-width="7.2" d="M230.9,1056.7 231.9,1056.2 232.9,1055.5 233.9,1053.9 234.9,1053.7 235.9,1052.8 236.9,1051.5 237.9,1049.7 238.9,1048.1 239.9,1046.6 240.9,1044.6 241.9,1042.3 242.9,1039.6 243.9,1036.6 244.9,1033.4 245.9,1030.0 246.9,1026.3 247.9,1021.5 248.9,1016.1 249.9,1010.6 250.9,1005.3 251.9,1000.9 252.9,997.4 253.9,994.4 254.9,991.7 255.9,989.2 256.9,986.9 257.9,984.8 258.9,982.8 259.9,980.6 260.9,978.7 261.9,977.4 262.9,977.1 263.9,977.6 264.9,978.4 265.9,979.6 266.9,981.0 267.9,982.5 268.9,984.0 269.9,985.3 270.9,986.4 271.9,987.6 272.9,988.9 273.9,990.2 274.9,991.5 275.9,992.6 276.9,993.5 277.9,994.1 278.9,994.3 279.9,994.3 280.9,994.2 281.9,994.2 282.9,994.1 283.9,994.0 284.9,993.8 285.9,993.7 286.9,993.5 287.9,993.3 288.9,992.8 289.9,992.2 290.9,991.4 291.9,990.3 292.9,989.2 293.9,987.9 294.9,986.5 295.9,984.5 296.9,981.9 297.9,978.9 298.9,975.5 299.9,971.7 300.9,967.7 301.9,963.1 302.9,957.3 303.9,950.8 304.9,943.8 305.9,936.9 306.9,930.4 307.9,923.8 308.9,917.1 309.9,910.3 310.9,903.5 311.9,896.5 312.9,889.2 313.9,881.6 314.9,874.2 315.9,867.0 316.9,860.2 317.9,854.0 318.9,847.8 319.9,841.8 320.9,836.4 321.9,832.0 322.9,828.9 323.9,826.3 324.9,823.9 325.9,821.7 326.9,820.1 327.9,819.0 328.9,818.6 329.9,819.1 330.9,820.3 331.9,822.3 332.9,824.7 333.9,827.6 334.9,830.8 335.9,836.1 336.9,843.3 337.9,851.5 338.9,859.8 339.9,867.1 340.9,873.9 341.9,880.6 342.9,887.3 343.9,893.7 344.9,900.0 345.9,906.3 346.9,912.9 347.9,919.3 348.9,925.2 349.9,930.3 350.9,934.3 351.9,937.4 352.9,940.1 353.9,942.6 354.9,944.7 355.9,946.5 356.9,948.0 357.9,949.4 358.9,950.8 359.9,952.0 360.9,953.1 361.9,953.7 362.9,954.0 363.9,953.8 364.9,953.2 365.9,952.3 366.9,951.2 367.9,949.8 368.9,948.2 369.9,946.6 370.9,944.9 371.9,943.1 372.9,941.4 373.9,939.6 374.9,937.4 375.9,934.9 376.9,932.4 377.9,929.9 378.9,927.7 379.9,925.9 380.9,924.3 381.9,922.7 382.9,921.4 383.9,920.7 384.9,920.7 385.9,921.2 386.9,922.1 387.9,923.0 388.9,924.0 389.9,924.7 390.9,925.2 391.9,925.6 392.9,926.0 393.9,926.4 394.9,926.7 395.9,927.0 396.9,927.2 397.9,927.4 398.9,927.4 399.9,927.4 400.9,927.2 401.9,927.0 402.9,926.8 403.9,926.4 404.9,926.1 405.9,925.6 406.9,925.2 407.9,924.6 408.9,923.6 409.9,922.2 410.9,920.6 411.9,918.7 412.9,916.6 413.9,914.5 414.9,912.3 415.9,909.6 416.9,906.5 417.9,903.3 418.9,900.3 419.9,897.5 420.9,895.3 421.9,893.2 422.9,891.2 423.9,889.3 424.9,887.6 425.9,885.9 426.9,884.4 427.9,883.0 428.9,881.7 429.9,880.3 430.9,879.0 431.9,877.7 432.9,876.6 433.9,875.8 434.9,875.2 435.9,875.1 436.9,875.1 437.9,875.1 438.9,875.1 439.9,875.1 440.9,875.1 441.9,875.1 442.9,875.1 443.9,875.1 444.9,875.1 445.9,875.4 446.9,876.7 447.9,878.7 448.9,881.1 449.9,883.9 450.9,886.7 451.9,889.4 452.9,892.1 453.9,895.0 454.9,898.1 455.9,901.3 456.9,904.6 457.9,908.0 458.9,911.4 459.9,914.8 460.9,918.1 461.9,921.4 462.9,924.7 463.9,928.1 464.9,931.5 465.9,934.9 466.9,938.2 467.9,941.6 468.9,944.9 469.9,948.2 470.9,951.4 471.9,954.6 472.9,957.7 473.9,960.8 474.9,963.9 475.9,967.0 476.9,970.0 477.9,973.0 478.9,976.0 479.9,978.9 480.9,981.7 481.9,984.6 482.9,987.3 483.9,990.1 484.9,992.8 485.9,995.5 486.9,998.2 487.9,1000.8 488.9,1003.4 489.9,1005.9 490.9,1008.5 491.9,1010.9 492.9,1013.4 493.9,1015.9 494.9,1018.4 495.9,1020.8 496.9,1023.2 497.9,1025.6 498.9,1027.8 499.9,1030.0 500.9,1032.1 501.9,1034.1 502.9,1036.0 503.9,1037.9 504.9,1039.8 505.9,1041.7 506.9,1043.5 507.9,1045.2 508.9,1046.9 509.9,1048.6 510.9,1049.9 511.9,1050.9 512.9,1053.1 513.9,1054.8 514.9,1055.3 515.9,1057.0 516.9,1058.5 517.9,1059.3 518.9,1059.3 519.9,1059.3 520.9,1058.4 521.9,1058.5 522.9,1058.5 523.9,1057.4 524.9,1058.2 525.9,1057.2 526.9,1056.6 527.9,1054.9 528.9,1053.7 529.9,1051.4 530.9,1049.3 531.9,1047.1 532.9,1045.9 533.9,1044.7 534.9,1043.3 535.9,1042.0 536.9,1040.6 537.9,1039.0 538.9,1037.1 539.9,1034.8 540.9,1031.9 541.9,1028.7 542.9,1025.2 543.9,1021.5 544.9,1017.8 545.9,1014.2 546.9,1010.6 547.9,1006.9 548.9,1003.0 549.9,999.0 550.9,994.6 551.9,989.9 552.9,984.8 553.9,979.2 554.9,973.2 555.9,966.8 556.9,960.0 557.9,952.5 558.9,944.3 559.9,935.7 560.9,927.3 561.9,919.2 562.9,911.0 563.9,902.9 564.9,895.1 565.9,887.7 566.9,880.4 567.9,873.4 568.9,866.9 569.9,861.2 570.9,855.9 571.9,850.9 572.9,846.7 573.9,843.6 574.9,841.4 575.9,839.6 576.9,838.5 577.9,838.4 578.9,839.2 579.9,840.7 580.9,842.7 581.9,845.0 582.9,847.4 583.9,849.9 584.9,853.2 585.9,857.0 586.9,861.4 587.9,865.9 588.9,870.5 589.9,875.6 590.9,881.1 591.9,886.8 592.9,892.4 593.9,897.6 594.9,902.7 595.9,907.6 596.9,912.4 597.9,916.7 598.9,920.6 599.9,924.4 600.9,927.9 601.9,931.2 602.9,934.4 603.9,937.4 604.9,940.3 605.9,943.1 606.9,945.9 607.9,948.5 608.9,950.9 609.9,953.0 610.9,954.9 611.9,956.6 612.9,958.2 613.9,959.6 614.9,960.8 615.9,961.6 616.9,962.3 617.9,962.9 618.9,963.4 619.9,963.9 620.9,964.3 621.9,964.7 622.9,964.9 623.9,965.1 624.9,965.1 625.9,965.1 626.9,965.0 627.9,964.9 628.9,964.8 629.9,964.6 630.9,964.5 631.9,964.4 632.9,964.3 633.9,964.3 634.9,964.3 635.9,964.4 636.9,964.6 637.9,964.8 638.9,965.1 639.9,965.4 640.9,965.8 641.9,966.2 642.9,966.6 643.9,967.1 644.9,967.6 645.9,968.2 646.9,969.2 647.9,970.5 648.9,972.0 649.9,973.6 650.9,975.3 651.9,976.9 652.9,978.6 653.9,980.4 654.9,982.4 655.9,984.4 656.9,986.5 657.9,988.7 658.9,990.8 659.9,992.9 660.9,994.9 661.9,996.9 662.9,998.9 663.9,1000.9 664.9,1003.0 665.9,1005.0 666.9,1007.0 667.9,1009.0 668.9,1011.0 669.9,1013.0 670.9,1015.2 671.9,1017.4 672.9,1019.6 673.9,1021.8 674.9,1023.8 675.9,1025.7 676.9,1027.4 677.9,1028.9 678.9,1030.1 679.9,1031.3 680.9,1032.3 681.9,1033.3 682.9,1034.2 683.9,1035.1 684.9,1036.0 685.9,1036.9 686.9,1037.8 687.9,1038.8 688.9,1039.8 689.9,1040.9 690.9,1042.1 691.9,1043.2 692.9,1044.3 693.9,1045.3 694.9,1046.2 695.9,1047.1 696.9,1047.7 697.9,1048.7 698.9,1049.5 699.9,1050.2 700.9,1050.4 701.9,1051.7 702.9,1051.0 703.9,1051.4 704.9,1051.6 705.9,1053.0 706.9,1053.0 707.9,1054.0 708.9,1053.6 709.9,1054.1 710.9,1053.8 711.9,1054.3 712.9,1054.0 713.9,1054.1 714.9,1055.0 715.9,1054.8 716.9,1055.2 717.9,1055.9 718.9,1055.5 719.9,1055.0 720.9,1054.2 721.9,1051.9 722.9,1054.7 723.9,1055.1 724.9,1054.7 725.9,1052.3 726.9,1055.3 727.9,1055.4 728.9,1055.3 729.9,1055.6 730.9,1056.1 731.9,1056.6 732.9,1057.5 733.9,1057.8 734.9,1057.6 735.9,1058.6 736.9,1057.9 737.9,1057.8 738.9,1057.6 739.9,1058.5 740.9,1056.8 741.9,1058.1 742.9,1058.5 743.9,1058.9 744.9,1060.2 745.9,1059.2 746.9,1059.9 747.9,1059.3 748.9,1059.8 749.9,1059.4 750.9,1058.1 751.9,1059.3 752.9,1059.6 753.9,1060.3 754.9,1060.9 755.9,1060.7 756.9,1060.3 757.9,1059.1 758.9,1060.1 759.9,1060.5 760.9,1059.2 761.9,1059.3 762.9,1060.3 763.9,1060.5 764.9,1061.7 765.9,1061.3 766.9,1061.2 767.9,1061.2 768.9,1060.3 769.9,1060.8 770.9,1061.0 771.9,1060.3 772.9,1061.2 773.9,1060.5 774.9,1060.8 775.9,1060.5 776.9,1060.3 777.9,1060.4 778.9,1060.2 779.9,1060.7 780.9,1060.5 781.9,1061.0 782.9,1060.3 783.9,1059.2 784.9,1059.9 785.9,1059.7 786.9,1059.5 787.9,1059.9 788.9,1060.1 789.9,1059.8 790.9,1060.1 791.9,1060.5 792.9,1060.5 793.9,1061.1 794.9,1060.9 795.9,1060.3 796.9,1059.8 797.9,1059.9 798.9,1059.9 799.9,1059.4 800.9,1058.6 801.9,1058.6 802.9,1057.8 803.9,1057.6 804.9,1057.9 805.9,1057.3 806.9,1057.9 807.9,1056.2 808.9,1057.7 809.9,1058.9 810.9,1058.5 811.9,1057.3 812.9,1058.2 813.9,1057.5 814.9,1057.7 815.9,1057.1 816.9,1055.7 817.9,1055.1 818.9,1054.6 819.9,1054.2 820.9,1054.0 821.9,1054.0 822.9,1054.2 823.9,1053.4 824.9,1053.5 825.9,1053.2 826.9,1052.9 827.9,1053.4 828.9,1053.0 829.9,1053.8 830.9,1054.1 831.9,1055.0 832.9,1054.8 833.9,1058.4 834.9,1053.6 835.9,1055.0 836.9,1056.0 837.9,1055.3 838.9,1056.7 839.9,1056.2 840.9,1057.3 841.9,1058.0 842.9,1058.9 843.9,1058.3 844.9,1057.6 845.9,1057.2 846.9,1057.6 847.9,1058.3 848.9,1058.4 849.9,1058.5 850.9,1059.2 851.9,1059.3 852.9,1058.9 853.9,1057.8 854.9,1056.5 855.9,1056.8 856.9,1057.4 857.9,1057.5 858.9,1057.3 859.9,1059.0 860.9,1058.6 861.9,1060.1 862.9,1059.1 863.9,1058.3 864.9,1059.0 865.9,1058.4 866.9,1058.8 867.9,1058.4 868.9,1057.6 869.9,1059.9 870.9,1057.2 871.9,1058.4 872.9,1058.1 873.9,1058.1 874.9,1058.1 875.9,1059.6 876.9,1059.1 877.9,1057.2 878.9,1057.6 879.9,1056.5 880.9,1056.0 881.9,1056.2 882.9,1056.6 883.9,1058.0 884.9,1057.9 885.9,1057.1 886.9,1058.5 887.9,1056.6 888.9,1056.7 889.9,1057.0 890.9,1056.8 891.9,1057.3 892.9,1057.5 893.9,1057.4 894.9,1057.1 895.9,1056.9 896.9,1057.2 897.9,1056.4 898.9,1057.1 899.9,1055.7 900.9,1056.4 901.9,1056.0 902.9,1055.7 903.9,1056.8 904.9,1056.6 905.9,1056.5 906.9,1056.8 907.9,1058.5 908.9,1056.2 909.9,1057.1 910.9,1055.9 911.9,1056.7 912.9,1057.7 913.9,1058.2 914.9,1057.9 915.9,1057.6 916.9,1057.9 917.9,1057.4 918.9,1056.1 919.9,1056.4 920.9,1056.6 921.9,1056.8 922.9,1056.6 923.9,1057.9 924.9,1057.6 925.9,1057.6 926.9,1058.1 927.9,1057.3 928.9,1057.7 929.9,1058.2 930.9,1058.1 931.9,1058.2 932.9,1059.7 933.9,1057.5 934.9,1057.7 935.9,1056.4 936.9,1056.7 937.9,1055.9 938.9,1056.3 939.9,1055.9 940.9,1056.5 941.9,1056.3 942.9,1055.9 943.9,1056.5 944.9,1056.4 945.9,1056.1 946.9,1055.5 947.9,1055.1 948.9,1055.6 949.9,1055.5 950.9,1055.6 951.9,1055.9 952.9,1055.4 953.9,1056.4 954.9,1055.1 955.9,1054.9 956.9,1054.8 957.9,1053.4 958.9,1054.0 959.9,1054.0 960.9,1053.8 961.9,1054.0 962.9,1054.5 963.9,1054.4 964.9,1056.0 965.9,1055.5 966.9,1055.1 967.9,1055.0 968.9,1055.7 969.9,1056.4 970.9,1055.7 971.9,1056.3 972.9,1055.2 973.9,1051.9 974.9,1055.5 975.9,1056.3 976.9,1055.7 977.9,1056.1 978.9,1056.5 979.9,1057.3 980.9,1056.1 981.9,1056.7 982.9,1056.2 983.9,1055.8 984.9,1055.7 985.9,1056.7 986.9,1057.1 987.9,1056.1 988.9,1056.4 989.9,1057.1 990.9,1056.4 991.9,1056.8 992.9,1056.7 993.9,1057.4 994.9,1057.7 995.9,1057.9 996.9,1058.1 997.9,1057.7 998.9,1057.4 999.9,1057.0 1000.9,1057.1 1001.9,1056.4 1002.9,1056.4 1003.9,1057.3 1004.9,1057.4 1005.9,1056.9 1006.9,1057.0 1007.9,1057.6 1008.9,1059.9 1009.9,1056.9 1010.9,1057.0 1011.9,1056.5 1012.9,1056.6 1013.9,1055.8 1014.9,1056.5 1015.9,1057.7 1016.9,1054.8 1017.9,1054.6 1018.9,1053.7 1019.9,1052.3 1020.9,1052.7 1021.9,1051.2 1022.9,1050.8 1023.9,1050.3 1024.9,1049.0 1025.9,1048.8 1026.9,1047.7 1027.9,1046.8 1028.9,1045.5 1029.9,1044.4 1030.9,1043.1 1031.9,1041.7 1032.9,1040.3 1033.9,1038.9 1034.9,1037.6 1035.9,1036.3 1036.9,1035.0 1037.9,1033.8 1038.9,1032.6 1039.9,1031.4 1040.9,1030.1 1041.9,1028.8 1042.9,1027.4 1043.9,1026.1 1044.9,1024.7 1045.9,1023.4 1046.9,1022.2 1047.9,1020.9 1048.9,1019.8 1049.9,1018.7 1050.9,1017.8 1051.9,1016.9 1052.9,1016.2 1053.9,1015.6 1054.9,1015.0 1055.9,1014.3 1056.9,1013.8 1057.9,1013.2 1058.9,1012.6 1059.9,1012.1 1060.9,1011.6 1061.9,1011.2 1062.9,1010.8 1063.9,1010.5 1064.9,1010.2 1065.9,1010.0 1066.9,1009.9 1067.9,1009.8 1068.9,1009.9 1069.9,1010.0 1070.9,1010.3 1071.9,1010.7 1072.9,1011.2 1073.9,1011.7 1074.9,1012.3 1075.9,1012.9 1076.9,1013.6 1077.9,1014.3 1078.9,1015.0 1079.9,1015.7 1080.9,1016.3 1081.9,1017.1 1082.9,1017.9 1083.9,1018.9 1084.9,1019.8 1085.9,1020.9 1086.9,1021.9 1087.9,1023.0 1088.9,1024.1 1089.9,1025.2 1090.9,1026.4 1091.9,1027.5 1092.9,1028.5 1093.9,1029.5 1094.9,1030.5 1095.9,1031.5 1096.9,1032.4 1097.9,1033.3 1098.9,1034.2 1099.9,1035.2 1100.9,1036.1 1101.9,1037.0 1102.9,1037.9 1103.9,1038.8 1104.9,1039.7 1105.9,1040.5 1106.9,1041.4 1107.9,1042.1 1108.9,1042.9 1109.9,1043.5 1110.9,1044.3 1111.9,1044.9 1112.9,1045.7 1113.9,1046.5 1114.9,1047.6 1115.9,1048.5 1116.9,1048.5 1117.9,1050.1 1118.9,1049.9 1119.9,1049.1 1120.9,1051.1 1121.9,1051.7 1122.9,1051.3 1123.9,1053.3 1124.9,1054.3 1125.9,1055.1 1126.9,1054.0 1127.9,1054.8 1128.9,1055.2 1129.9,1055.3 1130.9,1058.1 1131.9,1056.3 1132.9,1057.8 1133.9,1057.8 1134.9,1057.0 1135.9,1057.2 1136.9,1057.4 1137.9,1057.7 1138.9,1058.2 1139.9,1057.7 1140.9,1058.2 1141.9,1057.3 1142.9,1056.7 1143.9,1058.0 1144.9,1058.4 1145.9,1058.8 1146.9,1057.5 1147.9,1058.0 1148.9,1058.4 1149.9,1057.2 1150.9,1056.6 1151.9,1056.5 1152.9,1057.9 1153.9,1057.3 1154.9,1057.9 1155.9,1058.1 1156.9,1057.7 1157.9,1056.3 1158.9,1056.7 1159.9,1056.3 1160.9,1056.1 1161.9,1056.5 1162.9,1056.3 1163.9,1057.2 1164.9,1057.8 1165.9,1059.0 1166.9,1058.9 1167.9,1059.7 1168.9,1059.2 1169.9,1059.0 1170.9,1059.8 1171.9,1060.0 1172.9,1060.2 1173.9,1060.0 1174.9,1059.9 1175.9,1058.9 1176.9,1060.0 1177.9,1059.0 1178.9,1059.0 1179.9,1058.6 1180.9,1059.3 1181.9,1058.5 1182.9,1059.3 1183.9,1059.8 1184.9,1060.1 1185.9,1059.9 1186.9,1059.6 1187.9,1059.1 1188.9,1060.6 1189.9,1061.1 1190.9,1061.4 1191.9,1061.6 1192.9,1061.4 1193.9,1061.2 1194.9,1061.9 1195.9,1062.2 1196.9,1061.4 1197.9,1062.3 1198.9,1061.9 1199.9,1061.8 1200.9,1061.0 1201.9,1060.9 1202.9,1060.6 1203.9,1060.4 1204.9,1059.3 1205.9,1060.2 1206.9,1059.8 1207.9,1059.0 1208.9,1059.4 1209.9,1057.2 1210.9,1058.7 1211.9,1058.7 1212.9,1057.5 1213.9,1058.1 1214.9,1058.3 1215.9,1059.1 1216.9,1058.9 1217.9,1060.3 1218.9,1060.2 1219.9,1060.4 1220.9,1059.7 1221.9,1059.6 1222.9,1059.9 1223.9,1058.3 1224.9,1058.1 1225.9,1058.7 1226.9,1056.9 1227.9,1056.3 1228.9,1056.4 1229.9,1056.0 1230.9,1056.9 1231.9,1057.4 1232.9,1057.1 1233.9,1058.3 1234.9,1056.9 1235.9,1055.6 1236.9,1057.5 1237.9,1055.3 1238.9,1054.3 1239.9,1054.1 1240.9,1055.7 1241.9,1056.2 1242.9,1058.2 1243.9,1058.1 1244.9,1058.9 1245.9,1057.5 1246.9,1060.0 1247.9,1059.7 1248.9,1059.1 1249.9,1058.8 1250.9,1057.6 1251.9,1057.8 1252.9,1056.2 1253.9,1056.6 1254.9,1056.5 1255.9,1056.5 1256.9,1058.0 1257.9,1056.3 1258.9,1057.6 1259.9,1055.2 1260.9,1056.5 1261.9,1057.2 1262.9,1055.2 1263.9,1055.8 1264.9,1057.8 1265.9,1058.4 1266.9,1059.0 1267.9,1059.7 1268.9,1059.1 1269.9,1058.9 1270.9,1058.6 1271.9,1057.0 1272.9,1056.9 1273.9,1057.6 1274.9,1058.5 1275.9,1058.0 1276.9,1058.7 1277.9,1059.0 1278.9,1057.7 1279.9,1057.6 1280.9,1058.4 1281.9,1057.6 1282.9,1057.9 1283.9,1057.2 1284.9,1058.7 1285.9,1058.7 1286.9,1057.6 1287.9,1057.5 1288.9,1057.9 1289.9,1058.1 1290.9,1057.8 1291.9,1057.8 1292.9,1058.4 1293.9,1057.3 1294.9,1057.1 1295.9,1056.7 1296.9,1057.6 1297.9,1057.3 1298.9,1058.1 1299.9,1057.1 1300.9,1057.8 1301.9,1058.4 1302.9,1059.5 1303.9,1058.9 1304.9,1060.7 1305.9,1060.2 1306.9,1060.1 1307.9,1059.9 1308.9,1059.8 1309.9,1059.7 1310.9,1058.7 1311.9,1058.3 1312.9,1059.2 1313.9,1058.4 1314.9,1058.4 1315.9,1059.0 1316.9,1057.8 1317.9,1057.3 1318.9,1058.1 1319.9,1057.1 1320.9,1057.4 1321.9,1057.2 1322.9,1057.2 1323.9,1059.2 1324.9,1057.0 1325.9,1056.3 1326.9,1056.7 1327.9,1057.2 1328.9,1057.5 1329.9,1058.4 1330.9,1058.7 1331.9,1059.1 1332.9,1059.5 1333.9,1058.7 1334.9,1058.7 1335.9,1058.0 1336.9,1057.5 1337.9,1057.7 1338.9,1058.1 1339.9,1058.6 1340.9,1059.0 1341.9,1059.0 1342.9,1058.8 1343.9,1059.9 1344.9,1059.8 1345.9,1059.6 1346.9,1059.8 1347.9,1059.3 1348.9,1059.2 1349.9,1059.3 1350.9,1060.7 1351.9,1060.0 1352.9,1059.7 1353.9,1058.5 1354.9,1058.5 1355.9,1059.0 1356.9,1058.4 1357.9,1059.2 1358.9,1059.9 1359.9,1060.2 1360.9,1060.8 1361.9,1059.2 1362.9,1059.9 1363.9,1059.1 1364.9,1060.3 1365.9,1059.4 1366.9,1059.7 1367.9,1060.5 1368.9,1059.7 1369.9,1059.7 1370.9,1059.1 1371.9,1059.2 1372.9,1059.1 1373.9,1059.6 1374.9,1059.6 1375.9,1059.7 1376.9,1060.0 1377.9,1060.2 1378.9,1060.0 1379.9,1060.3 1380.9,1059.6 1381.9,1058.8 1382.9,1057.8 1383.9,1058.4 1384.9,1057.9 1385.9,1058.8 1386.9,1060.9 1387.9,1058.9 1388.9,1058.8 1389.9,1058.7 1390.9,1059.5 1391.9,1058.0 1392.9,1057.5 1393.9,1057.1 1394.9,1056.8 1395.9,1056.9 1396.9,1055.9 1397.9,1055.9 1398.9,1057.7 1399.9,1056.1 1400.9,1055.8 1401.9,1055.7 1402.9,1055.8 1403.9,1054.8 1404.9,1055.2 1405.9,1054.9 1406.9,1054.8 1407.9,1054.1 1408.9,1053.3 1409.9,1052.7 1410.9,1052.0 1411.9,1053.1 1412.9,1052.8 1413.9,1052.4 1414.9,1052.5 1415.9,1051.4 1416.9,1051.0 1417.9,1050.1 1418.9,1049.7 1419.9,1049.1 1420.9,1048.6 1421.9,1048.4 1422.9,1047.8 1423.9,1047.3 1424.9,1047.0 1425.9,1046.7 1426.9,1046.1 1427.9,1045.7 1428.9,1045.2 1429.9,1044.8 1430.9,1044.1 1431.9,1043.6 1432.9,1042.8 1433.9,1042.1 1434.9,1041.3 1435.9,1040.4 1436.9,1039.6 1437.9,1038.8 1438.9,1038.0 1439.9,1037.1 1440.9,1036.3 1441.9,1035.5 1442.9,1034.6 1443.9,1033.7 1444.9,1032.8 1445.9,1031.9 1446.9,1031.0 1447.9,1030.0 1448.9,1029.1 1449.9,1028.1 1450.9,1027.1 1451.9,1026.1 1452.9,1025.2 1453.9,1024.2 1454.9,1023.2 1455.9,1022.2 1456.9,1021.2 1457.9,1020.1 1458.9,1019.1 1459.9,1018.1 1460.9,1017.0 1461.9,1016.0 1462.9,1014.9 1463.9,1013.8 1464.9,1012.8 1465.9,1011.7 1466.9,1010.6 1467.9,1009.4 1468.9,1008.3 1469.9,1007.1 1470.9,1005.8 1471.9,1004.5 1472.9,1003.1 1473.9,1001.6 1474.9,1000.2 1475.9,998.7 1476.9,997.2 1477.9,995.8 1478.9,994.4 1479.9,993.1 1480.9,991.9 1481.9,990.7 1482.9,989.7 1483.9,988.8 1484.9,988.1 1485.9,987.5 1486.9,986.9 1487.9,986.3 1488.9,985.7 1489.9,985.2 1490.9,984.7 1491.9,984.2 1492.9,983.7 1493.9,983.3 1494.9,983.0 1495.9,982.8 1496.9,982.6 1497.9,982.4 1498.9,982.4 1499.9,982.5 1500.9,982.6 1501.9,982.8 1502.9,983.1 1503.9,983.4 1504.9,983.7 1505.9,984.1 1506.9,984.5 1507.9,984.9 1508.9,985.3 1509.9,985.7 1510.9,986.0 1511.9,986.4 1512.9,986.6 1513.9,986.9 1514.9,987.2 1515.9,987.6 1516.9,987.9 1517.9,988.2 1518.9,988.5 1519.9,988.8 1520.9,989.1 1521.9,989.3 1522.9,989.5 1523.9,989.7 1524.9,989.8 1525.9,989.8 1526.9,989.8 1527.9,989.7 1528.9,989.6 1529.9,989.4 1530.9,989.2 1531.9,989.0 1532.9,988.7 1533.9,988.4 1534.9,988.1 1535.9,987.8 1536.9,987.5 1537.9,987.1 1538.9,986.8 1539.9,986.4 1540.9,986.0 1541.9,985.5 1542.9,984.9 1543.9,984.3 1544.9,983.6 1545.9,982.9 1546.9,982.1 1547.9,981.2 1548.9,980.4 1549.9,979.5 1550.9,978.6 1551.9,977.7 1552.9,976.8 1553.9,975.8 1554.9,974.9 1555.9,974.0 1556.9,973.1 1557.9,972.2 1558.9,971.3 1559.9,970.5 1560.9,969.6 1561.9,968.8 1562.9,968.0 1563.9,967.1 1564.9,966.3 1565.9,965.5 1566.9,964.6 1567.9,963.8 1568.9,962.9 1569.9,962.0 1570.9,961.1 1571.9,960.2 1572.9,959.3 1573.9,958.4 1574.9,957.4 1575.9,956.4 1576.9,955.4 1577.9,954.4 1578.9,953.3 1579.9,952.2 1580.9,951.1 1581.9,950.0 1582.9,948.8 1583.9,947.5 1584.9,946.2 1585.9,944.8 1586.9,943.3 1587.9,941.7 1588.9,940.1 1589.9,938.4 1590.9,936.7 1591.9,934.9 1592.9,933.1 1593.9,931.3 1594.9,929.5 1595.9,927.7 1596.9,925.8 1597.9,924.0 1598.9,922.3 1599.9,920.5 1600.9,918.7 1601.9,917.0 1602.9,915.2 1603.9,913.4 1604.9,911.6 1605.9,909.7 1606.9,907.9 1607.9,906.1 1608.9,904.2 1609.9,902.4 1610.9,900.5 1611.9,898.6 1612.9,896.7 1613.9,894.8 1614.9,892.9 1615.9,891.0 1616.9,889.1 1617.9,887.2 1618.9,885.3 1619.9,883.4 1620.9,881.4 1621.9,879.5 1622.9,877.5 1623.9,875.6 1624.9,873.6 1625.9,871.6 1626.9,869.6 1627.9,867.6 1628.9,865.5 1629.9,863.5 1630.9,861.4 1631.9,859.2 1632.9,857.1 1633.9,854.9 1634.9,852.7 1635.9,850.5 1636.9,848.2 1637.9,845.9 1638.9,843.6 1639.9,841.3 1640.9,838.9 1641.9,836.5 1642.9,834.1 1643.9,831.7 1644.9,829.3 1645.9,826.9 1646.9,824.4 1647.9,822.0 1648.9,819.5 1649.9,817.1 1650.9,814.6 1651.9,812.2 1652.9,809.7 1653.9,807.2 1654.9,804.7 1655.9,802.2 1656.9,799.6 1657.9,797.0 1658.9,794.3 1659.9,791.5 1660.9,788.6 1661.9,785.7 1662.9,782.6 1663.9,779.4 1664.9,776.1 1665.9,772.6 1666.9,769.1 1667.9,765.5 1668.9,761.8 1669.9,758.1 1670.9,754.5 1671.9,750.9 1672.9,747.3 1673.9,743.9 1674.9,740.4 1675.9,737.0 1676.9,733.6 1677.9,730.2 1678.9,726.7 1679.9,723.3 1680.9,719.8 1681.9,716.2 1682.9,712.6 1683.9,708.9 1684.9,705.1 1685.9,701.1 1686.9,697.0 1687.9,692.8 1688.9,688.7 1689.9,684.5 1690.9,680.4 1691.9,676.5 1692.9,672.6 1693.9,669.0 1694.9,665.3 1695.9,661.6 1696.9,658.0 1697.9,654.5 1698.9,651.1 1699.9,648.0 1700.9,645.2 1701.9,642.8 1702.9,640.4 1703.9,638.0 1704.9,635.8 1705.9,633.7 1706.9,631.8 1707.9,630.3 1708.9,629.2 1709.9,628.6 1710.9,628.1 1711.9,627.8 1712.9,627.5 1713.9,627.3 1714.9,627.2 1715.9,627.3 1716.9,627.5 1717.9,628.0 1718.9,628.6 1719.9,629.3 1720.9,630.2 1721.9,631.2 1722.9,632.7 1723.9,635.3 1724.9,638.6 1725.9,642.5 1726.9,646.7 1727.9,650.8 1728.9,654.8 1729.9,658.7 1730.9,662.7 1731.9,666.9 1732.9,671.2 1733.9,675.6 1734.9,680.1 1735.9,684.7 1736.9,689.3 1737.9,694.1 1738.9,699.0 1739.9,704.1 1740.9,709.2 1741.9,714.4 1742.9,719.6 1743.9,724.7 1744.9,729.6 1745.9,734.5 1746.9,739.4 1747.9,744.3 1748.9,749.2 1749.9,753.9 1750.9,758.5 1751.9,763.0 1752.9,767.2 1753.9,771.2 1754.9,775.1 1755.9,778.9 1756.9,782.6 1757.9,786.1 1758.9,789.6 1759.9,792.9 1760.9,796.0 1761.9,798.9 1762.9,801.7 1763.9,804.5 1764.9,807.5 1765.9,810.3 1766.9,812.9 1767.9,814.9 1768.9,816.1 1769.9,816.4 1770.9,816.1 1771.9,815.5 1772.9,814.6 1773.9,813.5 1774.9,812.1 1775.9,810.4 1776.9,808.7 1777.9,806.7 1778.9,803.3 1779.9,798.2 1780.9,792.0 1781.9,785.3 1782.9,778.7 1783.9,772.4 1784.9,765.0 1785.9,757.7 1786.9,751.3 1787.9,747.0 1788.9,744.2 1789.9,741.7 1790.9,739.8 1791.9,738.9 1792.9,739.2 1793.9,741.2 1794.9,744.4 1795.9,748.4 1796.9,752.9 1797.9,759.5 1798.9,768.8 1799.9,779.5 1800.9,790.5 1801.9,802.1 1802.9,814.9 1803.9,827.7 1804.9,839.8 1805.9,851.8 1806.9,863.4 1807.9,874.3 1808.9,884.6 1809.9,894.5 1810.9,904.2 1811.9,914.0 1812.9,924.3 1813.9,934.8 1814.9,945.2 1815.9,955.1 1816.9,964.1 1817.9,972.1 1818.9,979.5 1819.9,986.4 1820.9,992.8 1821.9,998.6 1822.9,1003.8 1823.9,1008.6 1824.9,1013.2 1825.9,1017.5 1826.9,1021.5 1827.9,1025.1 1828.9,1028.3 1829.9,1031.1 1830.9,1033.7 1831.9,1036.1 1832.9,1038.3 1833.9,1040.2 1834.9,1042.0 1835.9,1043.4 1836.9,1044.6 1837.9,1045.5 1838.9,1046.6 1839.9,1047.6 1840.9,1048.4 1841.9,1049.4 1842.9,1049.5 1843.9,1050.2 1844.9,1050.4 1845.9,1051.1 1846.9,1051.2 1847.9,1052.4 1848.9,1052.4 1849.9,1054.0 1850.9,1054.4 1851.9,1055.0 1852.9,1055.8 1853.9,1055.3 1854.9,1054.4 1855.9,1055.7 1856.9,1054.9 1857.9,1057.0 1858.9,1057.1 1859.9,1058.8 1860.9,1057.0 1861.9,1056.7 1862.9,1057.5 1863.9,1056.3 1864.9,1057.4 1865.9,1057.3 1866.9,1056.9 1867.9,1057.3 1868.9,1059.0 1869.9,1058.1 1870.9,1055.6 1871.9,1058.8 1872.9,1057.6 1873.9,1057.9 1874.9,1057.4 1875.9,1056.9 1876.9,1057.2 1877.9,1058.0 1878.9,1057.9 1879.9,1057.3 1880.9,1056.5 1881.9,1057.8 1882.9,1057.8 1883.9,1056.8 1884.9,1056.0 1885.9,1055.7 1886.9,1056.3 1887.9,1057.2 1888.9,1056.0 1889.9,1055.6 1890.9,1057.1 1891.9,1056.9 1892.9,1057.3 1893.9,1058.0 1894.9,1057.6 1895.9,1057.0 1896.9,1056.8 1897.9,1057.8 1898.9,1057.6 1899.9,1059.8 1900.9,1058.3 1901.9,1058.9 1902.9,1058.1 1903.9,1058.1 1904.9,1057.5 1905.9,1057.5 1906.9,1057.7 1907.9,1056.9 1908.9,1056.5 1909.9,1057.6 1910.9,1056.8 1911.9,1057.0 1912.9,1057.3 1913.9,1057.6 1914.9,1057.9 1915.9,1057.7 1916.9,1057.4 1917.9,1056.3 1918.9,1056.2 1919.9,1056.3 1920.9,1056.3 1921.9,1056.2 1922.9,1056.1 1923.9,1055.9 1924.9,1055.8 1925.9,1055.5 1926.9,1056.7 1927.9,1056.5 1928.9,1055.8 1929.9,1056.3 1930.9,1056.2 1931.9,1056.0 1932.9,1055.0 1933.9,1055.3 1934.9,1055.7 1935.9,1056.8 1936.9,1055.7 1937.9,1055.9 1938.9,1055.5 1939.9,1055.9 1940.9,1056.5 1941.9,1055.9 1942.9,1056.0 1943.9,1057.7 1944.9,1057.2 1945.9,1057.2 1946.9,1057.9 1947.9,1057.9 1948.9,1058.6 1949.9,1057.4 1950.9,1057.8 1951.9,1056.7 1952.9,1056.6 1953.9,1057.1 1954.9,1056.6 1955.9,1056.1 1956.9,1056.1 1957.9,1055.5 1958.9,1056.0 1959.9,1054.9 1960.9,1056.2 1961.9,1055.4 1962.9,1056.5 1963.9,1056.2 1964.9,1057.0 1965.9,1057.7 1966.9,1057.6 1967.9,1057.5 1968.9,1056.5 1969.9,1056.2 1970.9,1053.5 1971.9,1056.1 1972.9,1055.9 1973.9,1056.7 1974.9,1056.4 1975.9,1056.6 1976.9,1056.0 1977.9,1055.9 1978.9,1055.4 1979.9,1055.8 1980.9,1055.6 1981.9,1056.1 1982.9,1055.9 1983.9,1056.1 1984.9,1055.1 1985.9,1057.4 1986.9,1056.2 1987.9,1057.0 1988.9,1056.9 1989.9,1055.0 1990.9,1055.3 1991.9,1055.5 1992.9,1053.5 1993.9,1056.0 1994.9,1054.5 1995.9,1055.1 1996.9,1055.8 1997.9,1055.0 1998.9,1055.8 1999.9,1055.2 2000.9,1055.0 2001.9,1055.7 2002.9,1057.3 2003.9,1056.3 2004.9,1056.5 2005.9,1056.3 2006.9,1055.9 2007.9,1056.2 2008.9,1056.4 2009.9,1055.6 2010.9,1055.7 2011.9,1055.4 2012.9,1056.8 2013.9,1055.1 2014.9,1055.9 2015.9,1055.6 2016.9,1055.4 2017.9,1054.8 2018.9,1054.9 2019.9,1055.4 2020.9,1054.8 2021.9,1055.0 2022.9,1053.7 2023.9,1055.3 2024.9,1055.2 2025.9,1054.2 2026.9,1054.2 2027.9,1054.4 2028.9,1056.2 2029.9,1055.8 2030.9,1056.0 2031.9,1056.6 2032.9,1057.1 2033.9,1056.4 2034.9,1054.9 2035.9,1055.4 2036.9,1055.3 2037.9,1055.5 2038.9,1055.2 2039.9,1055.8 2040.9,1055.7 2041.9,1056.3 2042.9,1056.0 2043.9,1055.1 2044.9,1054.6 2045.9,1054.8 2046.9,1057.1 2047.9,1055.0 2048.9,1055.2 2049.9,1054.6 2050.9,1056.8 2051.9,1057.4 2052.9,1057.8 2053.9,1057.2 2054.9,1057.1 2055.9,1056.6 2056.9,1057.7 2057.9,1056.6 2058.9,1056.2 2059.9,1056.5 2060.9,1057.1 2061.9,1057.9 2062.9,1058.1 2063.9,1058.4 2064.9,1058.4 2065.9,1057.5 2066.9,1056.4 2067.9,1056.4 2068.9,1055.8 2069.9,1055.5 2070.9,1055.7 2071.9,1056.5 2072.9,1057.0 2073.9,1057.2 2074.9,1057.3 2075.9,1056.5 2076.9,1056.3 2077.9,1057.0 2078.9,1055.9 2079.9,1056.4 2080.9,1056.9 2081.9,1057.5 2082.9,1057.0 2083.9,1056.6 2084.9,1055.3 2085.9,1056.3 2086.9,1055.5 2087.9,1055.2 2088.9,1055.3 2089.9,1055.6 2090.9,1056.7 2091.9,1056.8 2092.9,1057.0 2093.9,1055.4 2094.9,1056.1 2095.9,1055.3 2096.9,1055.9 2097.9,1055.0 2098.9,1055.5 2099.9,1055.6 2100.9,1054.8 2101.9,1053.8 2102.9,1054.2 2103.9,1054.7 2104.9,1054.4 2105.9,1054.0 2106.9,1054.8 2107.9,1054.5 2108.9,1055.6 2109.9,1055.4 2110.9,1055.5 2111.9,1056.4 2112.9,1057.7 2113.9,1056.9 2114.9,1057.6 2115.9,1057.9 2116.9,1057.4 2117.9,1058.1 2118.9,1057.4 2119.9,1057.1 2120.9,1055.7 2121.9,1055.3 2122.9,1054.6 2123.9,1055.8 2124.9,1056.0 2125.9,1056.6 2126.9,1057.1 2127.9,1056.2 2128.9,1056.2 2129.9,1056.6 2130.9,1057.3 2131.9,1056.6 2132.9,1057.2 2133.9,1056.5 2134.9,1055.9 2135.9,1055.9 2136.9,1054.9 2137.9,1054.7 2138.9,1055.7 2139.9,1055.8 2140.9,1056.0 2141.9,1056.2 2142.9,1056.3 2143.9,1055.7 2144.9,1056.0 2145.9,1055.8 2146.9,1056.3 2147.9,1056.5 2148.9,1056.6 2149.9,1056.5 2150.9,1057.1 2151.9,1057.0 2152.9,1058.6 2153.9,1057.2 2154.9,1057.4 2155.9,1057.4 2156.9,1055.6 2157.9,1055.3 2158.9,1055.1 2159.9,1055.1 2160.9,1055.8 2161.9,1057.3 2162.9,1059.1 2163.9,1059.4 2164.9,1059.0 2165.9,1058.7 2166.9,1057.5 2167.9,1058.3 2168.9,1057.9 2169.9,1056.9 2170.9,1056.9 2171.9,1056.2 2172.9,1055.7 2173.9,1055.4 2174.9,1055.5 2175.9,1055.5 2176.9,1056.2 2177.9,1056.2 2178.9,1056.3 2179.9,1056.3 2180.9,1056.2 2181.9,1057.1 2182.9,1054.9 2183.9,1055.9 2184.9,1055.3 2185.9,1055.2 2186.9,1054.9 2187.9,1055.2 2188.9,1054.9 2189.9,1054.9 2190.9,1055.5 2191.9,1054.9 2192.9,1056.1 2193.9,1056.5 2194.9,1054.8 2195.9,1055.8 2196.9,1056.5 2197.9,1056.3 2198.9,1056.1 2199.9,1056.0 2200.9,1055.9 2201.9,1055.8 2202.9,1056.0 2203.9,1055.1 2204.9,1055.4 2205.9,1054.3 2206.9,1055.2 2207.9,1055.2 2208.9,1056.8 2209.9,1057.6 2210.9,1056.8 2211.9,1056.0 2212.9,1056.4 2213.9,1056.5 2214.9,1056.5 2215.9,1059.3 2216.9,1056.7 2217.9,1055.1 2218.9,1056.9 2219.9,1056.3 2220.9,1056.4 2221.9,1057.5 2222.9,1056.9 2223.9,1056.4 2224.9,1056.5 2225.9,1056.8 2226.9,1058.6 2227.9,1057.1 2228.9,1056.4 2229.9,1056.4 2230.9,1057.5 2231.9,1056.7 2232.9,1057.4 2233.9,1056.5 2234.9,1056.2 2235.9,1055.9 2236.9,1056.2 2237.9,1056.1 2238.9,1056.4 2239.9,1057.0 2240.9,1056.8 2241.9,1057.0 2242.9,1056.6 2243.9,1056.2 2244.9,1056.2 2245.9,1056.1 2246.9,1056.9 2247.9,1056.1 2248.9,1056.4 2249.9,1056.0 2250.9,1056.3 2251.9,1055.7 2252.9,1055.4 2253.9,1055.1 2254.9,1055.0 2255.9,1053.6 2256.9,1054.8 2257.9,1054.0 2258.9,1054.4 2259.9,1054.1 2260.9,1056.1 2261.9,1056.9 2262.9,1057.6 2263.9,1057.4 2264.9,1057.9 2265.9,1057.1 2266.9,1056.8 2267.9,1055.9 2268.9,1056.0 2269.9,1056.1 2270.9,1056.9 2271.9,1057.3 2272.9,1056.2 2273.9,1056.4 2274.9,1056.2 2275.9,1055.9 2276.9,1055.6 2277.9,1056.0 2278.9,1055.5 2279.9,1055.7 2280.9,1055.6 2281.9,1055.4 2282.9,1055.4 2283.9,1055.7 2284.9,1055.1 2285.9,1056.6 2286.9,1055.2 2287.9,1056.2 2288.9,1056.3 2289.9,1055.6 2290.9,1055.0 2291.9,1055.8 2292.9,1055.1 2293.9,1055.8 2294.9,1056.0 2295.9,1055.9 2296.9,1056.1 2297.9,1056.7 2298.9,1056.7 2299.9,1054.8 2300.9,1056.1 2301.9,1056.2 2302.9,1056.0 2303.9,1055.8 2304.9,1055.4 2305.9,1055.5 2306.9,1055.5 2307.9,1055.6 2308.9,1057.1 2309.9,1056.4 2310.9,1056.7 2311.9,1055.8 2312.9,1056.4 2313.9,1056.0 2314.9,1057.6 2315.9,1055.7 2316.9,1055.5 2317.9,1056.0 2318.9,1055.9 2319.9,1054.3 2320.9,1055.2 2321.9,1055.5 2322.9,1054.7 2323.9,1055.8 2324.9,1055.6 2325.9,1055.6 2326.9,1056.2 2327.9,1056.4 2328.9,1056.0 2329.9,1057.2 2330.9,1055.6 2331.9,1055.2 2332.9,1056.0 2333.9,1055.8 2334.9,1056.6 2335.9,1055.8 2336.9,1055.7 2337.9,1055.1 2338.9,1054.9 2339.9,1054.8 2340.9,1055.0 2341.9,1057.5 2342.9,1055.5 2343.9,1055.8 2344.9,1056.1 2345.9,1056.5 2346.9,1056.3 2347.9,1056.3 2348.9,1057.5 2349.9,1056.0 2350.9,1055.8 2351.9,1055.7 2352.9,1055.8 2353.9,1054.8 2354.9,1055.8 2355.9,1055.9 2356.9,1055.6 2357.9,1056.6 2358.9,1057.6 2359.9,1056.7 2360.9,1056.9 2361.9,1056.1 2362.9,1055.4 2363.9,1054.8 2364.9,1054.6 2365.9,1054.9 2366.9,1054.4 2367.9,1053.7 2368.9,1054.5 2369.9,1054.3 2370.9,1054.2 2371.9,1054.9 2372.9,1054.5 2373.9,1054.4 2374.9,1055.8 2375.9,1056.6 2376.9,1055.4 2377.9,1054.3 2378.9,1054.7 2379.9,1054.9 2380.9,1054.5 2381.9,1054.0 2382.9,1053.7 2383.9,1055.7 2384.9,1055.6 2385.9,1056.2 2386.9,1056.9 2387.9,1056.6 2388.9,1057.4 2389.9,1056.8 2390.9,1057.1 2391.9,1056.6 2392.9,1054.5 2393.9,1055.7 2394.9,1055.3 2395.9,1055.5 2396.9,1054.3 2397.9,1055.1 2398.9,1054.4 2399.9,1054.4 2400.9,1054.5 2401.9,1054.9 2402.9,1055.5 2403.9,1054.3 2404.9,1054.8 2405.9,1054.3 2406.9,1054.2 2407.9,1053.5 2408.9,1054.9 2409.9,1054.9 2410.9,1054.9 2411.9,1054.6 2412.9,1054.8 2413.9,1055.7 2414.9,1055.0 2415.9,1054.7 2416.9,1054.7 2417.9,1054.3 2418.9,1054.5 2419.9,1054.9 2420.9,1054.9 2421.9,1055.0 2422.9,1053.9 2423.9,1054.2 2424.9,1054.1 2425.9,1054.3 2426.9,1054.2 2427.9,1053.9 2428.9,1054.0 2429.9,1054.7 2430.9,1055.2 2431.9,1053.8 2432.9,1053.9 2433.9,1053.1 2434.9,1051.8 2435.9,1051.2 2436.9,1050.4 2437.9,1050.2 2438.9,1050.3 2439.9,1050.1 2440.9,1051.2 2441.7,1049.8"/>
<path class="crv" stroke="#1b6bdd" stroke-width="7.6" d="M228.6,1510.8 229.6,1509.4 230.6,1508.0 231.6,1506.6 232.6,1505.2 233.6,1503.8 234.6,1502.4 235.6,1501.0 236.6,1499.6 237.6,1498.1 238.6,1496.7 239.6,1495.2 240.6,1493.8 241.6,1492.3 242.6,1490.8 243.6,1489.2 244.6,1487.5 245.6,1485.9 246.6,1484.2 247.6,1482.6 248.6,1481.0 249.6,1479.5 250.6,1478.1 251.6,1476.8 252.6,1475.6 253.6,1474.6 254.6,1473.6 255.6,1472.6 256.6,1471.6 257.6,1470.7 258.6,1469.8 259.6,1469.0 260.6,1468.1 261.6,1467.3 262.6,1466.5 263.6,1465.9 264.6,1465.3 265.6,1464.9 266.6,1464.2 267.6,1463.7 268.6,1463.1 269.6,1462.8 270.6,1462.4 271.6,1462.0 272.6,1461.4 273.6,1461.0 274.6,1460.4 275.6,1460.5 276.6,1459.8 277.6,1459.3 278.6,1459.8 279.6,1459.3 280.6,1459.0 281.6,1458.7 282.6,1458.2 283.6,1458.4 284.6,1457.9 285.6,1458.5 286.6,1458.2 287.6,1457.8 288.6,1458.4 289.6,1458.7 290.6,1458.3 291.6,1458.5 292.6,1458.2 293.6,1458.1 294.6,1457.7 295.6,1458.4 296.6,1458.0 297.6,1458.2 298.6,1457.9 299.6,1457.9 300.6,1458.2 301.6,1458.0 302.6,1458.0 303.6,1457.8 304.6,1458.1 305.6,1458.2 306.6,1457.9 307.6,1457.9 308.6,1457.7 309.6,1458.2 310.6,1457.9 311.6,1457.9 312.6,1458.2 313.6,1457.8 314.6,1457.4 315.6,1457.4 316.6,1457.5 317.6,1457.8 318.6,1457.5 319.6,1457.4 320.6,1457.6 321.6,1457.7 322.6,1457.3 323.6,1457.8 324.6,1457.8 325.6,1457.7 326.6,1457.3 327.6,1458.0 328.6,1458.3 329.6,1458.1 330.6,1458.7 331.6,1458.2 332.6,1458.0 333.6,1458.2 334.6,1458.1 335.6,1458.1 336.6,1457.8 337.6,1458.1 338.6,1457.7 339.6,1457.9 340.6,1457.2 341.6,1457.9 342.6,1458.2 343.6,1458.0 344.6,1458.0 345.6,1457.9 346.6,1457.9 347.6,1457.9 348.6,1457.9 349.6,1458.0 350.6,1457.9 351.6,1457.9 352.6,1457.9 353.6,1458.4 354.6,1458.4 355.6,1458.4 356.6,1459.0 357.6,1458.5 358.6,1459.0 359.6,1459.0 360.6,1458.9 361.6,1459.4 362.6,1458.9 363.6,1459.9 364.6,1459.2 365.6,1458.6 366.6,1458.4 367.6,1458.4 368.6,1458.4 369.6,1458.5 370.6,1458.5 371.6,1458.2 372.6,1458.6 373.6,1459.1 374.6,1458.6 375.6,1458.9 376.6,1459.2 377.6,1459.4 378.6,1459.1 379.6,1459.1 380.6,1459.1 381.6,1459.5 382.6,1459.3 383.6,1458.7 384.6,1458.6 385.6,1458.8 386.6,1458.7 387.6,1459.1 388.6,1459.1 389.6,1459.5 390.6,1459.3 391.6,1459.2 392.6,1459.4 393.6,1458.9 394.6,1458.8 395.6,1459.0 396.6,1459.1 397.6,1458.7 398.6,1458.8 399.6,1459.1 400.6,1459.0 401.6,1459.2 402.6,1459.3 403.6,1459.5 404.6,1459.8 405.6,1459.7 406.6,1460.2 407.6,1460.3 408.6,1460.4 409.6,1459.8 410.6,1459.8 411.6,1460.3 412.6,1459.9 413.6,1459.8 414.6,1459.8 415.6,1459.6 416.6,1459.9 417.6,1459.8 418.6,1459.9 419.6,1460.2 420.6,1460.0 421.6,1460.6 422.6,1460.5 423.6,1461.2 424.6,1460.5 425.6,1461.0 426.6,1461.0 427.6,1460.8 428.6,1460.8 429.6,1460.6 430.6,1460.3 431.6,1460.7 432.6,1460.9 433.6,1460.6 434.6,1460.5 435.6,1460.4 436.6,1461.1 437.6,1461.1 438.6,1461.3 439.6,1461.2 440.6,1461.3 441.6,1460.9 442.6,1461.7 443.6,1461.3 444.6,1461.5 445.6,1461.3 446.6,1461.3 447.6,1460.3 448.6,1461.5 449.6,1461.5 450.6,1461.4 451.6,1461.7 452.6,1461.5 453.6,1461.7 454.6,1461.7 455.6,1462.0 456.6,1461.9 457.6,1462.0 458.6,1462.2 459.6,1461.6 460.6,1462.3 461.6,1462.0 462.6,1462.0 463.6,1461.7 464.6,1462.0 465.6,1461.7 466.6,1462.1 467.6,1462.0 468.6,1462.3 469.6,1461.9 470.6,1462.1 471.6,1462.0 472.6,1462.2 473.6,1461.8 474.6,1461.9 475.6,1461.5 476.6,1461.6 477.6,1461.7 478.6,1461.7 479.6,1461.5 480.6,1461.7 481.6,1461.8 482.6,1461.5 483.6,1461.6 484.6,1461.4 485.6,1461.8 486.6,1461.8 487.6,1461.5 488.6,1461.4 489.6,1461.7 490.6,1461.1 491.6,1461.2 492.6,1461.0 493.6,1461.1 494.6,1461.7 495.6,1461.2 496.6,1461.9 497.6,1461.5 498.6,1461.5 499.6,1461.7 500.6,1461.4 501.6,1461.4 502.6,1461.0 503.6,1460.9 504.6,1460.8 505.6,1460.9 506.6,1460.7 507.6,1460.4 508.6,1460.8 509.6,1460.5 510.6,1460.4 511.6,1460.2 512.6,1459.7 513.6,1460.3 514.6,1459.8 515.6,1459.9 516.6,1460.1 517.6,1460.1 518.6,1459.9 519.6,1459.8 520.6,1459.8 521.6,1459.9 522.6,1459.9 523.6,1459.7 524.6,1459.9 525.6,1459.9 526.6,1459.9 527.6,1459.6 528.6,1459.6 529.6,1459.1 530.6,1459.0 531.6,1458.6 532.6,1458.2 533.6,1458.0 534.6,1458.1 535.6,1458.2 536.6,1458.3 537.6,1458.8 538.6,1457.9 539.6,1457.9 540.6,1458.3 541.6,1458.1 542.6,1457.9 543.6,1458.1 544.6,1457.7 545.6,1457.4 546.6,1457.8 547.6,1457.5 548.6,1457.5 549.6,1457.9 550.6,1458.0 551.6,1457.4 552.6,1457.6 553.6,1457.6 554.6,1457.9 555.6,1457.4 556.6,1457.5 557.6,1457.8 558.6,1458.4 559.6,1458.2 560.6,1458.3 561.6,1458.7 562.6,1457.9 563.6,1457.9 564.6,1458.4 565.6,1458.3 566.6,1457.9 567.6,1458.3 568.6,1458.2 569.6,1458.2 570.6,1458.0 571.6,1458.1 572.6,1458.0 573.6,1458.2 574.6,1458.8 575.6,1458.5 576.6,1458.4 577.6,1457.9 578.6,1458.3 579.6,1457.7 580.6,1458.2 581.6,1458.2 582.6,1457.9 583.6,1459.4 584.6,1456.9 585.6,1457.8 586.6,1457.3 587.6,1457.8 588.6,1457.1 589.6,1457.3 590.6,1457.9 591.6,1458.0 592.6,1458.2 593.6,1458.4 594.6,1458.4 595.6,1458.3 596.6,1458.6 597.6,1458.6 598.6,1458.7 599.6,1459.1 600.6,1458.6 601.6,1458.9 602.6,1459.1 603.6,1459.0 604.6,1458.9 605.6,1459.1 606.6,1459.4 607.6,1459.0 608.6,1459.0 609.6,1458.5 610.6,1458.5 611.6,1458.2 612.6,1458.5 613.6,1458.0 614.6,1458.3 615.6,1458.7 616.6,1458.2 617.6,1458.7 618.6,1459.0 619.6,1458.9 620.6,1458.6 621.6,1459.1 622.6,1458.5 623.6,1458.7 624.6,1458.8 625.6,1458.9 626.6,1459.2 627.6,1459.0 628.6,1459.2 629.6,1459.4 630.6,1459.5 631.6,1459.9 632.6,1460.0 633.6,1460.4 634.6,1460.0 635.6,1459.5 636.6,1460.2 637.6,1459.8 638.6,1460.0 639.6,1460.2 640.6,1459.5 641.6,1460.1 642.6,1459.9 643.6,1459.7 644.6,1459.9 645.6,1459.8 646.6,1460.0 647.6,1459.8 648.6,1460.0 649.6,1459.6 650.6,1460.1 651.6,1459.8 652.6,1459.8 653.6,1459.9 654.6,1460.1 655.6,1460.5 656.6,1460.4 657.6,1460.1 658.6,1460.4 659.6,1460.4 660.6,1460.2 661.6,1460.3 662.6,1460.1 663.6,1460.2 664.6,1459.8 665.6,1460.0 666.6,1459.9 667.6,1459.8 668.6,1459.8 669.6,1460.2 670.6,1459.9 671.6,1460.1 672.6,1460.3 673.6,1460.3 674.6,1460.3 675.6,1460.0 676.6,1459.8 677.6,1459.8 678.6,1459.8 679.6,1459.7 680.6,1459.5 681.6,1459.7 682.6,1459.4 683.6,1459.7 684.6,1459.6 685.6,1459.3 686.6,1459.6 687.6,1458.8 688.6,1459.6 689.6,1459.2 690.6,1459.0 691.6,1458.4 692.6,1459.0 693.6,1458.3 694.6,1458.3 695.6,1458.5 696.6,1458.3 697.6,1458.2 698.6,1458.6 699.6,1458.3 700.6,1458.7 701.6,1458.6 702.6,1458.9 703.6,1458.5 704.6,1459.6 705.6,1459.0 706.6,1459.4 707.6,1459.0 708.6,1459.5 709.6,1459.3 710.6,1459.2 711.6,1458.9 712.6,1459.1 713.6,1459.1 714.6,1458.9 715.6,1458.9 716.6,1459.1 717.6,1459.6 718.6,1459.3 719.6,1459.4 720.6,1459.2 721.6,1459.1 722.6,1459.1 723.6,1458.9 724.6,1459.3 725.6,1459.1 726.6,1459.2 727.6,1459.0 728.6,1459.4 729.6,1459.2 730.6,1459.2 731.6,1459.5 732.6,1459.1 733.6,1459.3 734.6,1459.4 735.6,1459.6 736.6,1459.2 737.6,1459.4 738.6,1459.4 739.6,1459.1 740.6,1458.9 741.6,1459.3 742.6,1459.3 743.6,1459.2 744.6,1458.8 745.6,1459.0 746.6,1459.1 747.6,1459.2 748.6,1459.3 749.6,1459.9 750.6,1459.3 751.6,1459.5 752.6,1459.2 753.6,1459.1 754.6,1459.0 755.6,1459.0 756.6,1458.9 757.6,1459.0 758.6,1458.9 759.6,1458.6 760.6,1459.2 761.6,1458.6 762.6,1459.0 763.6,1459.4 764.6,1458.9 765.6,1459.3 766.6,1459.4 767.6,1459.2 768.6,1458.8 769.6,1459.5 770.6,1459.2 771.6,1459.0 772.6,1459.4 773.6,1459.0 774.6,1459.4 775.6,1459.0 776.6,1459.2 777.6,1458.8 778.6,1458.9 779.6,1458.7 780.6,1458.6 781.6,1458.8 782.6,1458.8 783.6,1458.9 784.6,1459.2 785.6,1458.9 786.6,1458.6 787.6,1458.9 788.6,1459.0 789.6,1459.1 790.6,1459.1 791.6,1459.1 792.6,1458.8 793.6,1459.0 794.6,1457.9 795.6,1459.2 796.6,1459.0 797.6,1459.1 798.6,1458.9 799.6,1459.0 800.6,1458.8 801.6,1459.1 802.6,1458.7 803.6,1459.1 804.6,1459.1 805.6,1459.4 806.6,1459.0 807.6,1459.0 808.6,1459.0 809.6,1458.9 810.6,1458.8 811.6,1458.5 812.6,1458.4 813.6,1458.5 814.6,1458.5 815.6,1458.4 816.6,1458.4 817.6,1458.7 818.6,1459.1 819.6,1459.0 820.6,1459.3 821.6,1459.4 822.6,1459.4 823.6,1459.1 824.6,1459.0 825.6,1458.6 826.6,1458.7 827.6,1458.8 828.6,1458.5 829.6,1459.0 830.6,1459.1 831.6,1458.9 832.6,1459.3 833.6,1458.9 834.6,1459.0 835.6,1459.1 836.6,1459.2 837.6,1459.2 838.6,1459.1 839.6,1459.7 840.6,1459.4 841.6,1459.4 842.6,1459.5 843.6,1459.4 844.6,1459.3 845.6,1459.3 846.6,1459.1 847.6,1459.7 848.6,1459.1 849.6,1458.9 850.6,1459.0 851.6,1458.7 852.6,1459.3 853.6,1458.8 854.6,1458.9 855.6,1458.8 856.6,1458.4 857.6,1458.3 858.6,1458.0 859.6,1458.2 860.6,1458.2 861.6,1458.5 862.6,1458.5 863.6,1459.0 864.6,1459.0 865.6,1458.9 866.6,1458.6 867.6,1459.1 868.6,1459.1 869.6,1458.8 870.6,1458.6 871.6,1458.9 872.6,1459.0 873.6,1458.4 874.6,1458.9 875.6,1458.4 876.6,1458.9 877.6,1459.2 878.6,1458.9 879.6,1459.0 880.6,1458.9 881.6,1459.0 882.6,1459.5 883.6,1459.4 884.6,1459.1 885.6,1459.2 886.6,1459.3 887.6,1459.8 888.6,1459.4 889.6,1459.6 890.6,1459.2 891.6,1459.0 892.6,1459.5 893.6,1459.1 894.6,1458.9 895.6,1458.8 896.6,1458.7 897.6,1458.6 898.6,1458.4 899.6,1459.0 900.6,1458.9 901.6,1459.6 902.6,1459.0 903.6,1459.3 904.6,1459.3 905.6,1459.5 906.6,1459.4 907.6,1459.3 908.6,1459.0 909.6,1458.9 910.6,1458.9 911.6,1458.8 912.6,1458.7 913.6,1458.5 914.6,1459.1 915.6,1458.9 916.6,1458.5 917.6,1458.8 918.6,1458.8 919.6,1459.2 920.6,1459.4 921.6,1459.0 922.6,1459.3 923.6,1459.0 924.6,1459.2 925.6,1459.2 926.6,1458.8 927.6,1458.8 928.6,1458.5 929.6,1458.4 930.6,1458.3 931.6,1458.1 932.6,1458.8 933.6,1458.9 934.6,1459.1 935.6,1459.2 936.6,1459.0 937.6,1459.1 938.6,1459.3 939.6,1458.9 940.6,1458.5 941.6,1458.5 942.6,1458.4 943.6,1458.7 944.6,1458.8 945.6,1458.5 946.6,1458.8 947.6,1458.9 948.6,1458.9 949.6,1458.7 950.6,1458.7 951.6,1458.4 952.6,1458.7 953.6,1458.8 954.6,1459.1 955.6,1458.6 956.6,1458.3 957.6,1458.8 958.6,1459.2 959.6,1458.6 960.6,1459.0 961.6,1459.7 962.6,1459.5 963.6,1459.2 964.6,1459.5 965.6,1459.7 966.6,1459.6 967.6,1459.4 968.6,1459.2 969.6,1459.4 970.6,1459.2 971.6,1459.3 972.6,1459.2 973.6,1458.9 974.6,1459.3 975.6,1458.8 976.6,1459.0 977.6,1458.7 978.6,1458.8 979.6,1458.9 980.6,1458.8 981.6,1459.0 982.6,1459.3 983.6,1459.4 984.6,1459.2 985.6,1458.9 986.6,1459.1 987.6,1458.9 988.6,1459.1 989.6,1458.5 990.6,1459.0 991.6,1458.6 992.6,1458.9 993.6,1458.5 994.6,1458.8 995.6,1458.5 996.6,1458.2 997.6,1458.4 998.6,1458.6 999.6,1458.7 1000.6,1458.3 1001.6,1458.5 1002.6,1458.6 1003.6,1458.7 1004.6,1458.8 1005.6,1458.6 1006.6,1458.5 1007.6,1458.9 1008.6,1458.7 1009.6,1459.0 1010.6,1458.7 1011.6,1458.9 1012.6,1458.6 1013.6,1458.9 1014.6,1458.9 1015.6,1459.0 1016.6,1458.8 1017.6,1458.9 1018.6,1459.2 1019.6,1458.8 1020.6,1458.9 1021.6,1459.3 1022.6,1458.6 1023.6,1458.7 1024.6,1458.6 1025.6,1458.9 1026.6,1458.8 1027.6,1460.4 1028.6,1459.0 1029.6,1459.4 1030.6,1459.3 1031.6,1458.6 1032.6,1459.0 1033.6,1458.9 1034.6,1458.3 1035.6,1458.7 1036.6,1458.8 1037.6,1458.9 1038.6,1459.0 1039.6,1458.6 1040.6,1459.1 1041.6,1459.1 1042.6,1459.0 1043.6,1458.8 1044.6,1458.8 1045.6,1458.7 1046.6,1459.6 1047.6,1458.8 1048.6,1459.1 1049.6,1458.2 1050.6,1458.9 1051.6,1458.4 1052.6,1458.4 1053.6,1458.2 1054.6,1458.5 1055.6,1458.4 1056.6,1458.5 1057.6,1458.8 1058.6,1458.6 1059.6,1458.7 1060.6,1458.7 1061.6,1458.8 1062.6,1458.7 1063.6,1458.8 1064.6,1458.8 1065.6,1458.8 1066.6,1458.9 1067.6,1458.9 1068.6,1459.1 1069.6,1459.4 1070.6,1459.1 1071.6,1459.3 1072.6,1459.1 1073.6,1459.2 1074.6,1459.3 1075.6,1459.1 1076.6,1458.5 1077.6,1458.6 1078.6,1458.4 1079.6,1458.5 1080.6,1458.0 1081.6,1458.1 1082.6,1458.3 1083.6,1458.2 1084.6,1458.4 1085.6,1458.2 1086.6,1458.6 1087.6,1458.5 1088.6,1458.7 1089.6,1459.0 1090.6,1459.0 1091.6,1459.1 1092.6,1459.1 1093.6,1458.6 1094.6,1459.1 1095.6,1458.7 1096.6,1458.9 1097.6,1459.0 1098.6,1459.0 1099.6,1459.2 1100.6,1459.0 1101.6,1459.5 1102.6,1459.3 1103.6,1459.4 1104.6,1459.3 1105.6,1459.0 1106.6,1459.0 1107.6,1459.3 1108.6,1458.5 1109.6,1458.7 1110.6,1458.4 1111.6,1458.3 1112.6,1458.4 1113.6,1458.1 1114.6,1458.4 1115.6,1458.4 1116.6,1458.3 1117.6,1458.5 1118.6,1458.2 1119.6,1458.1 1120.6,1458.4 1121.6,1458.5 1122.6,1459.0 1123.6,1458.4 1124.6,1458.5 1125.6,1458.4 1126.6,1458.6 1127.6,1458.3 1128.6,1458.4 1129.6,1458.3 1130.6,1458.2 1131.6,1458.2 1132.6,1458.3 1133.6,1458.2 1134.6,1458.6 1135.6,1458.5 1136.6,1458.6 1137.6,1458.6 1138.6,1458.7 1139.6,1458.7 1140.6,1458.9 1141.6,1458.9 1142.6,1458.4 1143.6,1458.7 1144.6,1458.9 1145.6,1458.4 1146.6,1458.5 1147.6,1458.6 1148.6,1458.8 1149.6,1458.8 1150.6,1458.2 1151.6,1458.8 1152.6,1458.8 1153.6,1459.0 1154.6,1458.7 1155.6,1458.5 1156.6,1458.1 1157.6,1458.1 1158.6,1458.2 1159.6,1458.2 1160.6,1458.4 1161.6,1458.4 1162.6,1459.0 1163.6,1458.6 1164.6,1458.7 1165.6,1458.3 1166.6,1458.3 1167.6,1458.5 1168.6,1458.4 1169.6,1458.5 1170.6,1458.4 1171.6,1458.2 1172.6,1458.2 1173.6,1458.4 1174.6,1457.7 1175.6,1457.9 1176.6,1458.0 1177.6,1458.2 1178.6,1458.2 1179.6,1458.1 1180.6,1458.7 1181.6,1458.7 1182.6,1459.0 1183.6,1458.9 1184.6,1459.1 1185.6,1459.0 1186.6,1459.0 1187.6,1458.4 1188.6,1459.2 1189.6,1458.2 1190.6,1459.0 1191.6,1459.3 1192.6,1459.4 1193.6,1459.6 1194.6,1459.6 1195.6,1459.2 1196.6,1459.4 1197.6,1459.1 1198.6,1458.7 1199.6,1458.9 1200.6,1458.4 1201.6,1458.3 1202.6,1458.6 1203.6,1458.7 1204.6,1458.2 1205.6,1458.8 1206.6,1458.8 1207.6,1458.6 1208.6,1459.2 1209.6,1458.0 1210.6,1459.2 1211.6,1458.8 1212.6,1459.4 1213.6,1459.2 1214.6,1459.3 1215.6,1458.8 1216.6,1459.2 1217.6,1459.1 1218.6,1459.1 1219.6,1458.0 1220.6,1458.6 1221.6,1458.5 1222.6,1457.8 1223.6,1458.2 1224.6,1458.3 1225.6,1458.5 1226.6,1458.1 1227.6,1458.3 1228.6,1458.1 1229.6,1458.2 1230.6,1458.1 1231.6,1458.4 1232.6,1458.5 1233.6,1458.1 1234.6,1458.7 1235.6,1458.5 1236.6,1458.7 1237.6,1459.2 1238.6,1459.2 1239.6,1459.4 1240.6,1459.4 1241.6,1459.3 1242.6,1459.0 1243.6,1458.8 1244.6,1458.1 1245.6,1459.1 1246.6,1459.0 1247.6,1459.0 1248.6,1459.2 1249.6,1459.1 1250.6,1458.8 1251.6,1457.5 1252.6,1459.1 1253.6,1459.3 1254.6,1458.7 1255.6,1458.6 1256.6,1458.8 1257.6,1458.5 1258.6,1458.5 1259.6,1458.6 1260.6,1458.2 1261.6,1458.5 1262.6,1458.0 1263.6,1458.2 1264.6,1458.0 1265.6,1458.3 1266.6,1457.9 1267.6,1458.0 1268.6,1458.4 1269.6,1458.3 1270.6,1458.1 1271.6,1458.8 1272.6,1458.8 1273.6,1458.8 1274.6,1459.2 1275.6,1459.1 1276.6,1459.0 1277.6,1458.9 1278.6,1458.7 1279.6,1458.9 1280.6,1458.8 1281.6,1458.8 1282.6,1459.0 1283.6,1459.3 1284.6,1459.3 1285.6,1459.4 1286.6,1459.1 1287.6,1459.1 1288.6,1459.4 1289.6,1458.9 1290.6,1459.2 1291.6,1459.0 1292.6,1458.7 1293.6,1458.6 1294.6,1459.0 1295.6,1458.8 1296.6,1458.9 1297.6,1458.7 1298.6,1459.4 1299.6,1459.1 1300.6,1459.0 1301.6,1459.2 1302.6,1459.1 1303.6,1459.0 1304.6,1459.1 1305.6,1458.9 1306.6,1458.4 1307.6,1459.0 1308.6,1459.0 1309.6,1458.9 1310.6,1459.2 1311.6,1458.7 1312.6,1458.4 1313.6,1459.4 1314.6,1459.2 1315.6,1458.9 1316.6,1459.3 1317.6,1459.5 1318.6,1459.2 1319.6,1459.5 1320.6,1459.9 1321.6,1459.7 1322.6,1459.3 1323.6,1459.2 1324.6,1458.8 1325.6,1458.9 1326.6,1458.6 1327.6,1458.6 1328.6,1458.5 1329.6,1459.3 1330.6,1459.0 1331.6,1458.8 1332.6,1459.0 1333.6,1459.5 1334.6,1459.5 1335.6,1460.6 1336.6,1459.2 1337.6,1459.4 1338.6,1459.2 1339.6,1459.0 1340.6,1459.0 1341.6,1459.4 1342.6,1459.2 1343.6,1459.1 1344.6,1459.3 1345.6,1459.5 1346.6,1459.4 1347.6,1459.3 1348.6,1459.7 1349.6,1458.8 1350.6,1459.5 1351.6,1459.3 1352.6,1459.9 1353.6,1459.7 1354.6,1459.5 1355.6,1459.6 1356.6,1460.1 1357.6,1459.8 1358.6,1459.7 1359.6,1459.8 1360.6,1459.4 1361.6,1459.6 1362.6,1459.5 1363.6,1459.6 1364.6,1459.6 1365.6,1459.6 1366.6,1459.5 1367.6,1459.4 1368.6,1459.6 1369.6,1458.9 1370.6,1459.0 1371.6,1459.2 1372.6,1459.1 1373.6,1459.3 1374.6,1459.5 1375.6,1459.4 1376.6,1459.7 1377.6,1459.9 1378.6,1459.5 1379.6,1459.2 1380.6,1459.7 1381.6,1459.4 1382.6,1459.6 1383.6,1459.4 1384.6,1459.4 1385.6,1459.5 1386.6,1459.5 1387.6,1459.2 1388.6,1459.1 1389.6,1458.8 1390.6,1458.9 1391.6,1459.3 1392.6,1459.5 1393.6,1459.4 1394.6,1459.5 1395.6,1459.4 1396.6,1459.4 1397.6,1459.5 1398.6,1460.0 1399.6,1459.6 1400.6,1460.3 1401.6,1460.0 1402.6,1460.3 1403.6,1460.3 1404.6,1460.3 1405.6,1460.3 1406.6,1459.8 1407.6,1459.6 1408.6,1460.1 1409.6,1459.7 1410.6,1460.0 1411.6,1459.4 1412.6,1460.0 1413.6,1460.2 1414.6,1460.0 1415.6,1460.4 1416.6,1459.8 1417.6,1460.2 1418.6,1460.3 1419.6,1460.0 1420.6,1460.0 1421.6,1460.3 1422.6,1460.0 1423.6,1459.7 1424.6,1459.8 1425.6,1460.3 1426.6,1459.9 1427.6,1460.3 1428.6,1460.2 1429.6,1459.9 1430.6,1460.0 1431.6,1459.8 1432.6,1459.9 1433.6,1459.9 1434.6,1460.1 1435.6,1459.7 1436.6,1459.9 1437.6,1459.9 1438.6,1459.9 1439.6,1459.3 1440.6,1459.3 1441.6,1459.5 1442.6,1459.7 1443.6,1459.8 1444.6,1459.9 1445.6,1460.3 1446.6,1460.1 1447.6,1460.2 1448.6,1460.0 1449.6,1460.2 1450.6,1460.2 1451.6,1460.3 1452.6,1460.2 1453.6,1460.4 1454.6,1460.7 1455.6,1460.3 1456.6,1460.1 1457.6,1460.7 1458.6,1460.7 1459.6,1460.6 1460.6,1460.5 1461.6,1461.1 1462.6,1460.5 1463.6,1460.3 1464.6,1460.3 1465.6,1460.4 1466.6,1460.1 1467.6,1460.1 1468.6,1460.2 1469.6,1460.1 1470.6,1460.2 1471.6,1460.3 1472.6,1460.2 1473.6,1460.4 1474.6,1460.3 1475.6,1460.7 1476.6,1460.4 1477.6,1460.5 1478.6,1460.2 1479.6,1460.4 1480.6,1460.2 1481.6,1460.6 1482.6,1460.3 1483.6,1460.5 1484.6,1460.1 1485.6,1460.3 1486.6,1460.6 1487.6,1460.4 1488.6,1461.3 1489.6,1460.6 1490.6,1460.6 1491.6,1460.5 1492.6,1460.2 1493.6,1460.2 1494.6,1459.8 1495.6,1459.8 1496.6,1460.0 1497.6,1459.8 1498.6,1459.9 1499.6,1459.9 1500.6,1460.1 1501.6,1460.3 1502.6,1460.2 1503.6,1460.0 1504.6,1460.3 1505.6,1460.3 1506.6,1460.4 1507.6,1460.3 1508.6,1460.6 1509.6,1460.2 1510.6,1460.3 1511.6,1460.6 1512.6,1460.4 1513.6,1460.6 1514.6,1460.6 1515.6,1460.2 1516.6,1460.7 1517.6,1460.9 1518.6,1460.7 1519.6,1460.5 1520.6,1460.9 1521.6,1460.6 1522.6,1460.8 1523.6,1460.9 1524.6,1460.6 1525.6,1460.4 1526.6,1460.2 1527.6,1460.5 1528.6,1460.3 1529.6,1460.3 1530.6,1460.6 1531.6,1460.5 1532.6,1460.6 1533.6,1460.3 1534.6,1460.4 1535.6,1460.3 1536.6,1460.2 1537.6,1459.8 1538.6,1459.9 1539.6,1459.8 1540.6,1459.6 1541.6,1460.9 1542.6,1459.9 1543.6,1459.8 1544.6,1459.7 1545.6,1459.6 1546.6,1459.2 1547.6,1459.6 1548.6,1459.6 1549.6,1459.2 1550.6,1459.7 1551.6,1459.6 1552.6,1460.0 1553.6,1459.7 1554.6,1459.5 1555.6,1459.7 1556.6,1459.4 1557.6,1459.7 1558.6,1459.6 1559.6,1460.0 1560.6,1459.2 1561.6,1459.4 1562.6,1459.5 1563.6,1459.6 1564.6,1459.7 1565.6,1459.4 1566.6,1459.4 1567.6,1459.6 1568.6,1459.6 1569.6,1459.2 1570.6,1459.0 1571.6,1459.4 1572.6,1459.5 1573.6,1459.3 1574.6,1459.8 1575.6,1459.0 1576.6,1459.1 1577.6,1459.1 1578.6,1459.0 1579.6,1459.1 1580.6,1459.3 1581.6,1459.1 1582.6,1459.1 1583.6,1459.1 1584.6,1459.0 1585.6,1459.1 1586.6,1458.9 1587.6,1458.7 1588.6,1459.0 1589.6,1458.7 1590.6,1458.5 1591.6,1458.8 1592.6,1458.5 1593.6,1458.7 1594.6,1458.8 1595.6,1457.7 1596.6,1458.9 1597.6,1459.0 1598.6,1458.5 1599.6,1458.7 1600.6,1458.6 1601.6,1459.0 1602.6,1458.3 1603.6,1458.9 1604.6,1458.3 1605.6,1458.1 1606.6,1458.1 1607.6,1458.2 1608.6,1458.3 1609.6,1458.1 1610.6,1458.5 1611.6,1457.9 1612.6,1458.2 1613.6,1458.2 1614.6,1457.8 1615.6,1458.1 1616.6,1458.0 1617.6,1457.9 1618.6,1458.2 1619.6,1457.9 1620.6,1457.7 1621.6,1457.7 1622.6,1457.7 1623.6,1457.9 1624.6,1457.9 1625.6,1457.6 1626.6,1457.9 1627.6,1457.7 1628.6,1457.7 1629.6,1457.7 1630.6,1457.6 1631.6,1457.8 1632.6,1457.8 1633.6,1457.6 1634.6,1457.1 1635.6,1457.3 1636.6,1457.4 1637.6,1457.2 1638.6,1458.3 1639.6,1457.2 1640.6,1456.9 1641.6,1456.7 1642.6,1457.1 1643.6,1457.0 1644.6,1457.1 1645.6,1457.0 1646.6,1457.0 1647.6,1457.1 1648.6,1456.6 1649.6,1456.6 1650.6,1456.3 1651.6,1456.4 1652.6,1456.4 1653.6,1456.4 1654.6,1456.4 1655.6,1456.2 1656.6,1456.7 1657.6,1456.8 1658.6,1456.9 1659.6,1457.1 1660.6,1456.8 1661.6,1456.5 1662.6,1456.5 1663.6,1456.5 1664.6,1456.6 1665.6,1456.1 1666.6,1456.4 1667.6,1456.3 1668.6,1456.1 1669.6,1456.4 1670.6,1456.3 1671.6,1456.5 1672.6,1456.5 1673.6,1456.6 1674.6,1456.3 1675.6,1456.4 1676.6,1456.0 1677.6,1456.2 1678.6,1456.1 1679.6,1456.4 1680.6,1456.3 1681.6,1456.1 1682.6,1456.1 1683.6,1456.2 1684.6,1456.1 1685.6,1456.6 1686.6,1455.8 1687.6,1456.3 1688.6,1455.9 1689.6,1456.5 1690.6,1456.3 1691.6,1456.7 1692.6,1456.4 1693.6,1456.6 1694.6,1456.4 1695.6,1456.5 1696.6,1456.3 1697.6,1455.7 1698.6,1456.0 1699.6,1455.8 1700.6,1456.1 1701.6,1456.0 1702.6,1456.0 1703.6,1456.1 1704.6,1456.0 1705.6,1456.0 1706.6,1456.3 1707.6,1456.0 1708.6,1455.9 1709.6,1455.7 1710.6,1455.7 1711.6,1455.8 1712.6,1455.7 1713.6,1455.6 1714.6,1455.7 1715.6,1455.4 1716.6,1455.1 1717.6,1455.5 1718.6,1455.6 1719.6,1455.7 1720.6,1455.9 1721.6,1455.9 1722.6,1456.0 1723.6,1455.6 1724.6,1455.8 1725.6,1456.0 1726.6,1456.1 1727.6,1455.7 1728.6,1456.0 1729.6,1456.1 1730.6,1456.3 1731.6,1456.3 1732.6,1455.9 1733.6,1456.1 1734.6,1456.8 1735.6,1456.5 1736.6,1457.0 1737.6,1457.4 1738.6,1457.8 1739.6,1458.0 1740.6,1458.2 1741.6,1458.4 1742.6,1458.2 1743.6,1458.3 1744.6,1458.5 1745.6,1458.0 1746.6,1457.9 1747.6,1458.1 1748.6,1458.7 1749.6,1458.8 1750.6,1458.7 1751.6,1459.0 1752.6,1459.2 1753.6,1459.4 1754.6,1459.0 1755.6,1459.3 1756.6,1459.4 1757.6,1459.5 1758.6,1459.6 1759.6,1459.6 1760.6,1459.8 1761.6,1459.4 1762.6,1460.5 1763.6,1460.2 1764.6,1460.2 1765.6,1460.0 1766.6,1460.3 1767.6,1460.7 1768.6,1460.9 1769.6,1460.7 1770.6,1460.6 1771.6,1461.1 1772.6,1460.8 1773.6,1461.0 1774.6,1460.6 1775.6,1460.8 1776.6,1460.9 1777.6,1460.7 1778.6,1460.9 1779.6,1460.5 1780.6,1460.4 1781.6,1460.5 1782.6,1460.7 1783.6,1460.5 1784.6,1460.5 1785.6,1461.4 1786.6,1460.9 1787.6,1460.9 1788.6,1461.1 1789.6,1461.6 1790.6,1461.2 1791.6,1461.1 1792.6,1461.0 1793.6,1461.1 1794.6,1461.1 1795.6,1461.3 1796.6,1461.3 1797.6,1461.1 1798.6,1461.2 1799.6,1461.2 1800.6,1461.2 1801.6,1460.9 1802.6,1461.1 1803.6,1460.6 1804.6,1460.5 1805.6,1460.1 1806.6,1459.8 1807.6,1459.8 1808.6,1459.6 1809.6,1459.3 1810.6,1458.9 1811.6,1458.6 1812.6,1457.3 1813.6,1458.1 1814.6,1458.0 1815.6,1457.9 1816.6,1456.9 1817.6,1457.5 1818.6,1457.4 1819.6,1457.3 1820.6,1457.0 1821.6,1456.9 1822.6,1456.5 1823.6,1456.4 1824.6,1456.2 1825.6,1455.6 1826.6,1455.4 1827.6,1455.2 1828.6,1454.6 1829.6,1454.4 1830.6,1453.8 1831.6,1453.5 1832.6,1453.1 1833.6,1452.6 1834.6,1452.3 1835.6,1451.7 1836.6,1451.1 1837.6,1450.8 1838.6,1450.3 1839.6,1449.8 1840.6,1449.3 1841.6,1448.8 1842.6,1448.4 1843.6,1447.9 1844.6,1447.4 1845.6,1447.0 1846.6,1446.5 1847.6,1446.0 1848.6,1445.5 1849.6,1445.0 1850.6,1444.5 1851.6,1444.0 1852.6,1443.5 1853.6,1443.0 1854.6,1442.4 1855.6,1441.9 1856.6,1441.3 1857.6,1440.7 1858.6,1440.1 1859.6,1439.4 1860.6,1438.8 1861.6,1438.1 1862.6,1437.4 1863.6,1436.6 1864.6,1435.9 1865.6,1435.1 1866.6,1434.3 1867.6,1433.5 1868.6,1432.6 1869.6,1431.7 1870.6,1430.9 1871.6,1430.0 1872.6,1429.0 1873.6,1428.1 1874.6,1427.1 1875.6,1426.2 1876.6,1425.2 1877.6,1424.2 1878.6,1423.2 1879.6,1422.2 1880.6,1421.2 1881.6,1420.1 1882.6,1419.0 1883.6,1417.9 1884.6,1416.8 1885.6,1415.6 1886.6,1414.4 1887.6,1413.2 1888.6,1411.9 1889.6,1410.6 1890.6,1409.2 1891.6,1407.8 1892.6,1406.3 1893.6,1404.7 1894.6,1403.1 1895.6,1401.4 1896.6,1399.6 1897.6,1397.7 1898.6,1395.8 1899.6,1393.8 1900.6,1391.7 1901.6,1389.5 1902.6,1387.3 1903.6,1385.1 1904.6,1382.7 1905.6,1380.4 1906.6,1377.9 1907.6,1375.3 1908.6,1372.6 1909.6,1369.8 1910.6,1366.9 1911.6,1363.8 1912.6,1360.7 1913.6,1357.5 1914.6,1354.3 1915.6,1351.0 1916.6,1347.7 1917.6,1344.3 1918.6,1340.9 1919.6,1337.4 1920.6,1333.8 1921.6,1330.1 1922.6,1326.4 1923.6,1322.6 1924.6,1318.7 1925.6,1314.8 1926.6,1310.8 1927.6,1306.7 1928.6,1302.6 1929.6,1298.4 1930.6,1294.1 1931.6,1289.7 1932.6,1285.2 1933.6,1280.7 1934.6,1276.1 1935.6,1271.5 1936.6,1266.8 1937.6,1262.1 1938.6,1257.4 1939.6,1252.6 1940.6,1247.7 1941.6,1242.7 1942.6,1237.6 1943.6,1232.5 1944.6,1227.4 1945.6,1222.3 1946.6,1217.2 1947.6,1212.2 1948.6,1207.3 1949.6,1202.5 1950.6,1197.7 1951.6,1192.9 1952.6,1188.1 1953.6,1183.3 1954.6,1178.6 1955.6,1173.9 1956.6,1169.4 1957.6,1165.0 1958.6,1160.8 1959.6,1156.9 1960.6,1153.1 1961.6,1149.5 1962.6,1145.9 1963.6,1142.4 1964.6,1138.9 1965.6,1135.6 1966.6,1132.4 1967.6,1129.5 1968.6,1126.8 1969.6,1124.3 1970.6,1122.2 1971.6,1120.5 1972.6,1118.8 1973.6,1117.2 1974.6,1115.6 1975.6,1114.1 1976.6,1112.7 1977.6,1111.5 1978.6,1110.5 1979.6,1109.6 1980.6,1109.0 1981.6,1108.7 1982.6,1108.6 1983.6,1108.9 1984.6,1109.4 1985.6,1110.2 1986.6,1111.2 1987.6,1112.3 1988.6,1113.6 1989.6,1115.1 1990.6,1116.6 1991.6,1118.3 1992.6,1120.0 1993.6,1121.7 1994.6,1124.0 1995.6,1126.7 1996.6,1129.7 1997.6,1133.2 1998.6,1136.9 1999.6,1140.8 2000.6,1144.8 2001.6,1149.0 2002.6,1153.1 2003.6,1157.3 2004.6,1161.9 2005.6,1166.8 2006.6,1171.9 2007.6,1177.2 2008.6,1182.7 2009.6,1188.2 2010.6,1193.7 2011.6,1199.2 2012.6,1204.7 2013.6,1210.3 2014.6,1216.0 2015.6,1221.8 2016.6,1227.6 2017.6,1233.5 2018.6,1239.4 2019.6,1245.1 2020.6,1250.8 2021.6,1256.4 2022.6,1261.8 2023.6,1267.2 2024.6,1272.5 2025.6,1277.8 2026.6,1283.1 2027.6,1288.2 2028.6,1293.3 2029.6,1298.2 2030.6,1303.1 2031.6,1307.8 2032.6,1312.4 2033.6,1316.9 2034.6,1321.4 2035.6,1325.9 2036.6,1330.2 2037.6,1334.4 2038.6,1338.6 2039.6,1342.6 2040.6,1346.5 2041.6,1350.3 2042.6,1354.0 2043.6,1357.7 2044.6,1361.3 2045.6,1364.8 2046.6,1368.3 2047.6,1371.7 2048.6,1375.0 2049.6,1378.2 2050.6,1381.4 2051.6,1384.4 2052.6,1387.4 2053.6,1390.2 2054.6,1392.9 2055.6,1395.5 2056.6,1397.9 2057.6,1400.3 2058.6,1402.7 2059.6,1405.0 2060.6,1407.3 2061.6,1409.5 2062.6,1411.7 2063.6,1413.8 2064.6,1415.8 2065.6,1417.7 2066.6,1419.6 2067.6,1421.4 2068.6,1423.1 2069.6,1424.7 2070.6,1426.3 2071.6,1427.7 2072.6,1429.1 2073.6,1430.4 2074.6,1431.6 2075.6,1432.9 2076.6,1434.1 2077.6,1435.2 2078.6,1436.3 2079.6,1437.4 2080.6,1438.5 2081.6,1439.5 2082.6,1440.5 2083.6,1441.4 2084.6,1442.3 2085.6,1443.2 2086.6,1444.0 2087.6,1444.8 2088.6,1445.6 2089.6,1446.3 2090.6,1447.1 2091.6,1447.7 2092.6,1448.4 2093.6,1449.1 2094.6,1449.7 2095.6,1450.3 2096.6,1450.9 2097.6,1451.5 2098.6,1452.0 2099.6,1452.8 2100.6,1453.3 2101.6,1454.0 2102.6,1454.7 2103.6,1455.0 2104.6,1455.8 2105.6,1456.1 2106.6,1456.7 2107.6,1456.9 2108.6,1457.5 2109.6,1457.9 2110.6,1458.5 2111.6,1459.0 2112.6,1459.0 2113.6,1459.2 2114.6,1460.1 2115.6,1459.9 2116.6,1460.2 2117.6,1460.5 2118.6,1460.9 2119.6,1461.9 2120.6,1461.3 2121.6,1461.7 2122.6,1462.2 2123.6,1462.4 2124.6,1462.4 2125.6,1462.6 2126.6,1462.7 2127.6,1463.0 2128.6,1463.0 2129.6,1463.2 2130.6,1463.3 2131.6,1463.4 2132.6,1463.7 2133.6,1463.8 2134.6,1464.0 2135.6,1464.2 2136.6,1464.4 2137.6,1464.5 2138.6,1464.5 2139.6,1464.9 2140.6,1465.0 2141.6,1465.1 2142.6,1465.1 2143.6,1465.1 2144.6,1465.2 2145.6,1465.4 2146.6,1465.4 2147.6,1465.3 2148.6,1465.4 2149.6,1465.4 2150.6,1465.4 2151.6,1465.3 2152.6,1465.5 2153.6,1465.4 2154.6,1465.5 2155.6,1465.6 2156.6,1465.6 2157.6,1465.6 2158.6,1465.6 2159.6,1465.7 2160.6,1465.7 2161.6,1465.8 2162.6,1465.8 2163.6,1465.8 2164.6,1465.9 2165.6,1465.9 2166.6,1465.9 2167.6,1466.1 2168.6,1466.0 2169.6,1466.0 2170.6,1466.1 2171.6,1466.1 2172.6,1466.0 2173.6,1466.0 2174.6,1466.0 2175.6,1465.9 2176.6,1466.1 2177.6,1466.1 2178.6,1465.9 2179.6,1465.8 2180.6,1465.6 2181.6,1465.6 2182.6,1465.4 2183.6,1465.5 2184.6,1465.0 2185.6,1464.7 2186.6,1464.5 2187.6,1464.2 2188.6,1464.0 2189.6,1463.9 2190.6,1463.6 2191.6,1463.5 2192.6,1463.2 2193.6,1463.0 2194.6,1462.6 2195.6,1462.7 2196.6,1461.9 2197.6,1462.2 2198.6,1461.6 2199.6,1461.4 2200.6,1461.2 2201.6,1461.3 2202.6,1460.9 2203.6,1461.0 2204.6,1460.5 2205.6,1460.6 2206.6,1460.6 2207.6,1460.4 2208.6,1459.8 2209.6,1460.0 2210.6,1459.4 2211.6,1459.7 2212.6,1459.1 2213.6,1459.3 2214.6,1458.8 2215.6,1458.6 2216.6,1458.2 2217.6,1458.0 2218.6,1457.9 2219.6,1456.8 2220.6,1457.5 2221.6,1457.0 2222.6,1457.0 2223.6,1456.6 2224.6,1457.2 2225.6,1457.4 2226.6,1457.5 2227.6,1457.6 2228.6,1457.6 2229.6,1457.8 2230.6,1458.1 2231.6,1457.8 2232.6,1457.9 2233.6,1457.9 2234.6,1457.7 2235.6,1457.7 2236.6,1457.7 2237.6,1457.5 2238.6,1458.4 2239.6,1458.0 2240.6,1458.6 2241.6,1458.7 2242.6,1458.3 2243.6,1458.9 2244.6,1459.1 2245.6,1459.1 2246.6,1458.5 2247.6,1458.9 2248.6,1458.6 2249.6,1458.4 2250.6,1458.4 2251.6,1458.3 2252.6,1458.5 2253.6,1458.1 2254.6,1458.2 2255.6,1457.7 2256.6,1457.6 2257.6,1457.7 2258.6,1458.0 2259.6,1457.4 2260.6,1457.3 2261.6,1457.3 2262.6,1457.7 2263.6,1457.2 2264.6,1457.5 2265.6,1457.4 2266.6,1458.0 2267.6,1457.9 2268.6,1457.9 2269.6,1458.0 2270.6,1458.0 2271.6,1457.9 2272.6,1457.5 2273.6,1457.9 2274.6,1457.8 2275.6,1457.9 2276.6,1457.6 2277.6,1457.9 2278.6,1457.2 2279.6,1457.7 2280.6,1457.7 2281.6,1457.9 2282.6,1457.7 2283.6,1457.5 2284.6,1457.7 2285.6,1458.0 2286.6,1457.7 2287.6,1457.5 2288.6,1457.4 2289.6,1457.4 2290.6,1457.4 2291.6,1457.1 2292.6,1457.3 2293.6,1457.7 2294.6,1457.8 2295.6,1457.2 2296.6,1457.6 2297.6,1458.0 2298.6,1457.7 2299.6,1457.6 2300.6,1457.9 2301.6,1457.9 2302.6,1458.1 2303.6,1457.7 2304.6,1457.8 2305.6,1457.7 2306.6,1458.0 2307.6,1457.8 2308.6,1457.7 2309.6,1457.4 2310.6,1457.5 2311.6,1457.4 2312.6,1457.2 2313.6,1457.5 2314.6,1457.3 2315.6,1457.3 2316.6,1457.3 2317.6,1457.9 2318.6,1457.5 2319.6,1457.2 2320.6,1457.4 2321.6,1457.4 2322.6,1457.3 2323.6,1457.0 2324.6,1457.2 2325.6,1457.0 2326.6,1457.3 2327.6,1457.5 2328.6,1457.5 2329.6,1457.4 2330.6,1457.5 2331.6,1457.6 2332.6,1457.8 2333.6,1457.6 2334.6,1457.6 2335.6,1457.2 2336.6,1457.5 2337.6,1457.5 2338.6,1457.5 2339.6,1457.8 2340.6,1457.4 2341.6,1457.4 2342.6,1457.9 2343.6,1457.6 2344.6,1457.8 2345.6,1457.8 2346.6,1457.8 2347.6,1457.3 2348.6,1457.7 2349.6,1457.7 2350.6,1457.3 2351.6,1457.2 2352.6,1457.5 2353.6,1457.4 2354.6,1457.4 2355.6,1457.7 2356.6,1458.0 2357.6,1457.7 2358.6,1457.9 2359.6,1457.9 2360.6,1457.6 2361.6,1457.8 2362.6,1457.7 2363.6,1457.8 2364.6,1457.8 2365.6,1457.4 2366.6,1457.8 2367.6,1457.8 2368.6,1457.8 2369.6,1457.4 2370.6,1457.7 2371.6,1457.6 2372.6,1457.3 2373.6,1457.3 2374.6,1457.5 2375.6,1457.6 2376.6,1458.0 2377.6,1457.9 2378.6,1458.0 2379.6,1457.8 2380.6,1457.7 2381.6,1457.5 2382.6,1457.1 2383.6,1456.6 2384.6,1457.1 2385.6,1456.7 2386.6,1457.1 2387.6,1457.1 2388.6,1457.0 2389.6,1457.2 2390.6,1457.3 2391.6,1457.1 2392.6,1456.7 2393.6,1457.0 2394.6,1456.9 2395.6,1455.9 2396.6,1457.1 2397.6,1457.0 2398.6,1457.3 2399.6,1457.1 2400.6,1457.1 2401.6,1457.3 2402.6,1457.3 2403.6,1457.5 2404.6,1457.4 2405.6,1457.3 2406.6,1457.3 2407.6,1456.8 2408.6,1456.9 2409.6,1457.2 2410.6,1456.9 2411.6,1457.2 2412.6,1457.2 2413.6,1456.6 2414.6,1456.9 2415.6,1457.3 2416.6,1456.6 2417.6,1456.7 2418.6,1456.5 2419.6,1456.5 2420.6,1456.5 2421.6,1456.5 2422.6,1456.7 2423.6,1456.4 2424.6,1456.7 2425.6,1456.4 2426.6,1456.6 2427.6,1456.4 2428.6,1456.0 2429.6,1455.8 2430.6,1455.4 2431.6,1454.9 2432.6,1454.6 2433.6,1453.8 2434.6,1453.4 2435.6,1452.8 2436.6,1452.1 2437.6,1451.6 2438.6,1451.1 2439.0,1450.8"/>
<path class="crv" stroke="#e83a3f" stroke-width="7.2" d="M229.6,1633.3 230.6,1631.7 231.6,1630.1 232.6,1628.4 233.6,1626.7 234.6,1625.0 235.6,1623.3 236.6,1621.5 237.6,1619.7 238.6,1617.9 239.6,1616.1 240.6,1614.3 241.6,1612.4 242.6,1610.4 243.6,1608.3 244.6,1606.2 245.6,1604.0 246.6,1601.9 247.6,1599.8 248.6,1597.8 249.6,1595.9 250.6,1594.2 251.6,1592.5 252.6,1591.0 253.6,1589.4 254.6,1587.9 255.6,1586.5 256.6,1585.1 257.6,1583.7 258.6,1582.4 259.6,1581.2 260.6,1580.0 261.6,1578.9 262.6,1577.8 263.6,1576.8 264.6,1575.8 265.6,1574.8 266.6,1573.9 267.6,1573.0 268.6,1572.1 269.6,1571.2 270.6,1570.3 271.6,1569.5 272.6,1568.8 273.6,1568.2 274.6,1567.3 275.6,1566.7 276.6,1566.2 277.6,1565.7 278.6,1565.5 279.6,1564.9 280.6,1564.7 281.6,1564.2 282.6,1563.9 283.6,1563.6 284.6,1563.4 285.6,1562.4 286.6,1562.2 287.6,1561.9 288.6,1562.1 289.6,1561.6 290.6,1561.8 291.6,1561.6 292.6,1561.5 293.6,1561.9 294.6,1561.6 295.6,1562.0 296.6,1562.0 297.6,1562.0 298.6,1561.4 299.6,1561.8 300.6,1561.5 301.6,1560.8 302.6,1561.5 303.6,1561.3 304.6,1560.7 305.6,1560.9 306.6,1560.6 307.6,1560.8 308.6,1560.9 309.6,1561.0 310.6,1560.7 311.6,1560.8 312.6,1560.5 313.6,1560.7 314.6,1560.7 315.6,1560.5 316.6,1560.7 317.6,1560.5 318.6,1560.3 319.6,1560.1 320.6,1560.0 321.6,1559.8 322.6,1560.0 323.6,1560.5 324.6,1560.5 325.6,1560.4 326.6,1560.6 327.6,1560.6 328.6,1560.7 329.6,1560.7 330.6,1560.8 331.6,1560.5 332.6,1560.3 333.6,1560.3 334.6,1560.9 335.6,1560.6 336.6,1560.8 337.6,1560.8 338.6,1561.2 339.6,1560.9 340.6,1561.3 341.6,1560.8 342.6,1561.0 343.6,1561.0 344.6,1561.0 345.6,1560.6 346.6,1560.8 347.6,1561.0 348.6,1560.7 349.6,1561.3 350.6,1561.2 351.6,1561.3 352.6,1560.8 353.6,1561.2 354.6,1561.2 355.6,1561.3 356.6,1561.1 357.6,1561.4 358.6,1561.7 359.6,1561.3 360.6,1561.3 361.6,1561.3 362.6,1561.0 363.6,1561.3 364.6,1561.7 365.6,1561.2 366.6,1561.5 367.6,1561.9 368.6,1561.9 369.6,1561.9 370.6,1561.8 371.6,1561.8 372.6,1561.7 373.6,1561.7 374.6,1561.3 375.6,1561.3 376.6,1560.6 377.6,1560.7 378.6,1560.9 379.6,1561.2 380.6,1561.3 381.6,1561.7 382.6,1561.7 383.6,1562.0 384.6,1561.7 385.6,1562.2 386.6,1562.5 387.6,1562.5 388.6,1562.2 389.6,1562.2 390.6,1562.0 391.6,1561.9 392.6,1561.8 393.6,1562.0 394.6,1561.8 395.6,1562.0 396.6,1562.1 397.6,1561.6 398.6,1561.9 399.6,1561.8 400.6,1561.6 401.6,1561.8 402.6,1561.9 403.6,1562.4 404.6,1562.2 405.6,1562.2 406.6,1562.4 407.6,1562.4 408.6,1562.6 409.6,1562.6 410.6,1562.2 411.6,1562.3 412.6,1562.9 413.6,1562.3 414.6,1562.0 415.6,1562.1 416.6,1561.7 417.6,1561.9 418.6,1562.0 419.6,1561.6 420.6,1561.7 421.6,1561.8 422.6,1561.8 423.6,1561.8 424.6,1561.9 425.6,1562.1 426.6,1561.9 427.6,1562.0 428.6,1561.9 429.6,1561.5 430.6,1561.5 431.6,1561.3 432.6,1561.4 433.6,1561.2 434.6,1561.3 435.6,1561.8 436.6,1560.6 437.6,1561.4 438.6,1561.8 439.6,1562.0 440.6,1562.0 441.6,1562.0 442.6,1562.0 443.6,1561.8 444.6,1561.8 445.6,1561.6 446.6,1561.8 447.6,1561.4 448.6,1561.5 449.6,1561.7 450.6,1562.2 451.6,1561.5 452.6,1561.6 453.6,1561.9 454.6,1561.5 455.6,1561.5 456.6,1561.4 457.6,1561.5 458.6,1561.6 459.6,1562.0 460.6,1562.0 461.6,1562.0 462.6,1562.0 463.6,1562.2 464.6,1561.6 465.6,1562.0 466.6,1562.2 467.6,1561.5 468.6,1561.5 469.6,1561.4 470.6,1560.2 471.6,1560.6 472.6,1560.7 473.6,1560.3 474.6,1560.4 475.6,1560.0 476.6,1560.1 477.6,1560.5 478.6,1560.8 479.6,1560.1 480.6,1560.3 481.6,1560.8 482.6,1560.7 483.6,1560.1 484.6,1560.6 485.6,1560.6 486.6,1560.9 487.6,1560.3 488.6,1560.7 489.6,1561.0 490.6,1561.0 491.6,1560.7 492.6,1560.9 493.6,1560.8 494.6,1561.4 495.6,1561.2 496.6,1561.7 497.6,1561.7 498.6,1561.4 499.6,1561.6 500.6,1561.8 501.6,1561.7 502.6,1561.9 503.6,1561.8 504.6,1561.7 505.6,1561.7 506.6,1561.4 507.6,1561.5 508.6,1561.7 509.6,1561.6 510.6,1561.4 511.6,1561.3 512.6,1561.5 513.6,1561.6 514.6,1562.0 515.6,1561.6 516.6,1561.7 517.6,1561.9 518.6,1561.7 519.6,1561.6 520.6,1561.2 521.6,1561.4 522.6,1561.2 523.6,1561.0 524.6,1561.0 525.6,1561.1 526.6,1561.4 527.6,1561.7 528.6,1561.5 529.6,1561.9 530.6,1561.7 531.6,1561.5 532.6,1561.8 533.6,1562.0 534.6,1562.4 535.6,1561.5 536.6,1562.0 537.6,1561.4 538.6,1561.4 539.6,1561.5 540.6,1561.9 541.6,1561.7 542.6,1561.8 543.6,1561.1 544.6,1561.5 545.6,1561.5 546.6,1561.7 547.6,1561.5 548.6,1561.9 549.6,1561.7 550.6,1561.7 551.6,1561.8 552.6,1562.5 553.6,1562.4 554.6,1562.1 555.6,1562.4 556.6,1562.0 557.6,1561.9 558.6,1561.5 559.6,1561.6 560.6,1561.7 561.6,1561.6 562.6,1561.4 563.6,1561.7 564.6,1561.7 565.6,1562.3 566.6,1561.6 567.6,1561.3 568.6,1561.7 569.6,1561.5 570.6,1561.7 571.6,1561.8 572.6,1561.8 573.6,1562.1 574.6,1561.8 575.6,1561.9 576.6,1562.0 577.6,1561.9 578.6,1561.9 579.6,1561.8 580.6,1561.6 581.6,1561.8 582.6,1561.6 583.6,1561.8 584.6,1561.3 585.6,1561.6 586.6,1561.6 587.6,1561.7 588.6,1561.7 589.6,1561.5 590.6,1562.2 591.6,1562.0 592.6,1562.3 593.6,1561.8 594.6,1562.1 595.6,1562.0 596.6,1562.0 597.6,1562.2 598.6,1562.1 599.6,1562.0 600.6,1562.0 601.6,1561.5 602.6,1561.7 603.6,1561.6 604.6,1562.0 605.6,1561.7 606.6,1561.7 607.6,1562.0 608.6,1561.4 609.6,1561.7 610.6,1561.3 611.6,1561.0 612.6,1561.4 613.6,1561.5 614.6,1561.4 615.6,1561.5 616.6,1561.7 617.6,1561.8 618.6,1561.7 619.6,1561.9 620.6,1561.6 621.6,1561.5 622.6,1561.4 623.6,1562.9 624.6,1561.9 625.6,1561.9 626.6,1561.7 627.6,1562.0 628.6,1561.5 629.6,1561.4 630.6,1561.4 631.6,1561.4 632.6,1561.4 633.6,1561.2 634.6,1561.3 635.6,1561.5 636.6,1561.5 637.6,1561.9 638.6,1561.5 639.6,1561.7 640.6,1562.0 641.6,1561.7 642.6,1562.0 643.6,1561.9 644.6,1561.9 645.6,1562.2 646.6,1561.8 647.6,1561.9 648.6,1561.8 649.6,1562.1 650.6,1562.4 651.6,1562.2 652.6,1562.4 653.6,1562.1 654.6,1561.8 655.6,1562.1 656.6,1561.9 657.6,1562.2 658.6,1561.8 659.6,1561.9 660.6,1561.9 661.6,1562.0 662.6,1562.0 663.6,1561.7 664.6,1562.0 665.6,1562.0 666.6,1562.0 667.6,1561.8 668.6,1562.2 669.6,1561.7 670.6,1561.9 671.6,1561.9 672.6,1561.7 673.6,1561.8 674.6,1562.2 675.6,1562.2 676.6,1562.1 677.6,1561.7 678.6,1561.9 679.6,1561.9 680.6,1561.9 681.6,1562.0 682.6,1561.8 683.6,1561.9 684.6,1562.0 685.6,1561.2 686.6,1561.9 687.6,1561.6 688.6,1561.9 689.6,1561.0 690.6,1561.7 691.6,1561.7 692.6,1560.9 693.6,1561.6 694.6,1562.2 695.6,1561.3 696.6,1561.6 697.6,1561.1 698.6,1561.5 699.6,1560.9 700.6,1561.2 701.6,1561.3 702.6,1560.9 703.6,1561.1 704.6,1561.5 705.6,1561.7 706.6,1561.9 707.6,1561.8 708.6,1562.0 709.6,1561.5 710.6,1561.6 711.6,1561.9 712.6,1561.3 713.6,1561.3 714.6,1560.9 715.6,1561.1 716.6,1560.9 717.6,1561.0 718.6,1561.3 719.6,1561.1 720.6,1561.2 721.6,1561.2 722.6,1561.5 723.6,1561.1 724.6,1561.2 725.6,1561.6 726.6,1560.7 727.6,1560.6 728.6,1560.2 729.6,1560.5 730.6,1560.0 731.6,1559.5 732.6,1559.4 733.6,1559.7 734.6,1559.5 735.6,1559.4 736.6,1559.6 737.6,1559.4 738.6,1559.5 739.6,1559.5 740.6,1559.2 741.6,1559.2 742.6,1559.4 743.6,1559.9 744.6,1559.7 745.6,1559.9 746.6,1560.1 747.6,1560.0 748.6,1560.0 749.6,1560.5 750.6,1560.5 751.6,1560.7 752.6,1560.8 753.6,1561.1 754.6,1561.0 755.6,1561.1 756.6,1561.0 757.6,1561.4 758.6,1561.6 759.6,1562.1 760.6,1562.2 761.6,1562.4 762.6,1562.5 763.6,1562.6 764.6,1562.6 765.6,1562.7 766.6,1562.8 767.6,1563.1 768.6,1563.2 769.6,1563.6 770.6,1563.8 771.6,1563.6 772.6,1563.6 773.6,1564.0 774.6,1564.1 775.6,1564.2 776.6,1564.4 777.6,1564.2 778.6,1564.2 779.6,1564.5 780.6,1564.7 781.6,1564.9 782.6,1564.6 783.6,1564.8 784.6,1564.9 785.6,1565.2 786.6,1565.3 787.6,1565.3 788.6,1565.5 789.6,1565.4 790.6,1565.4 791.6,1565.5 792.6,1565.2 793.6,1565.2 794.6,1565.1 795.6,1564.7 796.6,1565.3 797.6,1565.0 798.6,1564.7 799.6,1564.4 800.6,1564.4 801.6,1564.6 802.6,1564.6 803.6,1564.5 804.6,1564.6 805.6,1564.6 806.6,1564.4 807.6,1563.7 808.6,1564.1 809.6,1563.8 810.6,1563.6 811.6,1563.6 812.6,1563.5 813.6,1563.2 814.6,1562.9 815.6,1563.1 816.6,1563.4 817.6,1563.0 818.6,1563.5 819.6,1564.2 820.6,1563.3 821.6,1563.1 822.6,1563.2 823.6,1562.9 824.6,1562.8 825.6,1562.2 826.6,1562.5 827.6,1561.9 828.6,1562.0 829.6,1562.1 830.6,1561.9 831.6,1562.0 832.6,1561.9 833.6,1561.9 834.6,1561.7 835.6,1562.0 836.6,1562.0 837.6,1561.5 838.6,1561.3 839.6,1561.3 840.6,1560.9 841.6,1560.8 842.6,1560.8 843.6,1560.6 844.6,1560.8 845.6,1560.6 846.6,1560.3 847.6,1560.2 848.6,1560.4 849.6,1560.5 850.6,1559.9 851.6,1559.7 852.6,1559.9 853.6,1559.6 854.6,1559.6 855.6,1559.6 856.6,1559.2 857.6,1559.3 858.6,1559.1 859.6,1559.2 860.6,1559.0 861.6,1558.6 862.6,1558.6 863.6,1558.1 864.6,1558.4 865.6,1558.4 866.6,1558.3 867.6,1558.0 868.6,1558.2 869.6,1558.0 870.6,1558.4 871.6,1558.1 872.6,1558.1 873.6,1557.7 874.6,1558.3 875.6,1559.0 876.6,1558.3 877.6,1558.1 878.6,1558.4 879.6,1558.1 880.6,1558.3 881.6,1558.2 882.6,1559.2 883.6,1558.2 884.6,1558.1 885.6,1558.2 886.6,1558.5 887.6,1558.9 888.6,1558.7 889.6,1558.9 890.6,1559.2 891.6,1558.9 892.6,1559.0 893.6,1559.0 894.6,1558.4 895.6,1559.0 896.6,1559.1 897.6,1559.2 898.6,1559.0 899.6,1559.5 900.6,1559.3 901.6,1559.3 902.6,1559.3 903.6,1559.1 904.6,1559.4 905.6,1558.7 906.6,1559.0 907.6,1558.7 908.6,1558.8 909.6,1559.0 910.6,1558.6 911.6,1558.7 912.6,1559.2 913.6,1559.1 914.6,1559.4 915.6,1559.7 916.6,1560.3 917.6,1560.8 918.6,1561.1 919.6,1561.4 920.6,1561.6 921.6,1561.5 922.6,1562.1 923.6,1562.0 924.6,1562.1 925.6,1562.4 926.6,1562.5 927.6,1562.8 928.6,1563.2 929.6,1563.0 930.6,1562.7 931.6,1562.5 932.6,1562.5 933.6,1562.4 934.6,1562.6 935.6,1563.2 936.6,1562.9 937.6,1563.0 938.6,1563.3 939.6,1563.2 940.6,1563.3 941.6,1562.9 942.6,1562.9 943.6,1563.2 944.6,1562.8 945.6,1562.9 946.6,1562.5 947.6,1561.9 948.6,1562.6 949.6,1562.5 950.6,1562.7 951.6,1562.6 952.6,1562.4 953.6,1563.1 954.6,1562.7 955.6,1563.2 956.6,1563.2 957.6,1563.2 958.6,1563.2 959.6,1563.3 960.6,1562.9 961.6,1562.8 962.6,1563.0 963.6,1562.9 964.6,1562.9 965.6,1562.8 966.6,1562.6 967.6,1562.5 968.6,1562.4 969.6,1562.5 970.6,1562.4 971.6,1561.9 972.6,1560.5 973.6,1559.9 974.6,1559.6 975.6,1559.6 976.6,1559.5 977.6,1560.2 978.6,1560.2 979.6,1560.0 980.6,1559.3 981.6,1560.1 982.6,1560.0 983.6,1560.2 984.6,1560.5 985.6,1560.7 986.6,1560.6 987.6,1560.7 988.6,1560.3 989.6,1559.9 990.6,1560.8 991.6,1560.5 992.6,1560.4 993.6,1560.7 994.6,1560.1 995.6,1560.1 996.6,1560.1 997.6,1560.6 998.6,1560.5 999.6,1560.1 1000.6,1560.8 1001.6,1560.7 1002.6,1561.8 1003.6,1560.7 1004.6,1561.2 1005.6,1560.9 1006.6,1561.0 1007.6,1560.4 1008.6,1560.6 1009.6,1560.4 1010.6,1560.3 1011.6,1560.1 1012.6,1560.1 1013.6,1560.0 1014.6,1560.1 1015.6,1560.3 1016.6,1560.4 1017.6,1560.1 1018.6,1560.2 1019.6,1560.3 1020.6,1560.1 1021.6,1560.4 1022.6,1560.5 1023.6,1560.6 1024.6,1560.7 1025.6,1560.8 1026.6,1560.8 1027.6,1560.7 1028.6,1560.7 1029.6,1560.4 1030.6,1560.3 1031.6,1560.6 1032.6,1560.5 1033.6,1560.8 1034.6,1560.3 1035.6,1560.2 1036.6,1559.6 1037.6,1560.3 1038.6,1560.2 1039.6,1560.6 1040.6,1560.6 1041.6,1560.3 1042.6,1560.9 1043.6,1560.2 1044.6,1560.1 1045.6,1559.9 1046.6,1560.7 1047.6,1561.3 1048.6,1562.0 1049.6,1562.1 1050.6,1562.3 1051.6,1562.4 1052.6,1562.2 1053.6,1563.1 1054.6,1562.3 1055.6,1563.0 1056.6,1562.6 1057.6,1562.3 1058.6,1562.7 1059.6,1562.5 1060.6,1562.6 1061.6,1562.6 1062.6,1562.6 1063.6,1562.6 1064.6,1562.5 1065.6,1562.6 1066.6,1562.7 1067.6,1562.5 1068.6,1562.4 1069.6,1562.4 1070.6,1562.5 1071.6,1562.3 1072.6,1562.3 1073.6,1562.1 1074.6,1562.3 1075.6,1562.1 1076.6,1562.6 1077.6,1562.4 1078.6,1562.4 1079.6,1562.6 1080.6,1562.4 1081.6,1562.4 1082.6,1562.5 1083.6,1562.6 1084.6,1562.8 1085.6,1562.4 1086.6,1562.6 1087.6,1562.8 1088.6,1562.6 1089.6,1562.1 1090.6,1562.2 1091.6,1561.6 1092.6,1562.0 1093.6,1561.5 1094.6,1562.1 1095.6,1561.7 1096.6,1562.4 1097.6,1562.1 1098.6,1562.0 1099.6,1562.2 1100.6,1562.2 1101.6,1562.1 1102.6,1562.3 1103.6,1562.4 1104.6,1562.2 1105.6,1562.5 1106.6,1562.4 1107.6,1562.5 1108.6,1562.5 1109.6,1562.5 1110.6,1562.5 1111.6,1562.6 1112.6,1562.5 1113.6,1563.2 1114.6,1562.7 1115.6,1562.7 1116.6,1562.2 1117.6,1561.9 1118.6,1562.5 1119.6,1562.4 1120.6,1562.5 1121.6,1562.4 1122.6,1562.3 1123.6,1562.2 1124.6,1562.1 1125.6,1562.6 1126.6,1562.6 1127.6,1562.5 1128.6,1562.2 1129.6,1562.2 1130.6,1562.7 1131.6,1562.1 1132.6,1561.5 1133.6,1562.0 1134.6,1562.2 1135.6,1561.8 1136.6,1561.9 1137.6,1562.0 1138.6,1561.7 1139.6,1562.0 1140.6,1561.7 1141.6,1561.8 1142.6,1562.0 1143.6,1562.0 1144.6,1562.1 1145.6,1561.9 1146.6,1562.2 1147.6,1561.8 1148.6,1562.0 1149.6,1561.7 1150.6,1561.4 1151.6,1561.6 1152.6,1561.4 1153.6,1561.5 1154.6,1561.6 1155.6,1561.9 1156.6,1562.0 1157.6,1562.0 1158.6,1561.9 1159.6,1561.7 1160.6,1561.8 1161.6,1561.7 1162.6,1561.1 1163.6,1561.6 1164.6,1561.6 1165.6,1562.0 1166.6,1561.6 1167.6,1561.9 1168.6,1562.2 1169.6,1562.7 1170.6,1561.7 1171.6,1561.8 1172.6,1561.6 1173.6,1561.7 1174.6,1561.8 1175.6,1561.4 1176.6,1561.6 1177.6,1561.7 1178.6,1561.4 1179.6,1561.7 1180.6,1561.7 1181.6,1562.2 1182.6,1562.0 1183.6,1562.1 1184.6,1562.0 1185.6,1562.1 1186.6,1561.9 1187.6,1561.9 1188.6,1561.6 1189.6,1561.9 1190.6,1562.1 1191.6,1561.4 1192.6,1562.1 1193.6,1561.8 1194.6,1561.8 1195.6,1561.7 1196.6,1562.3 1197.6,1561.6 1198.6,1561.7 1199.6,1562.0 1200.6,1561.3 1201.6,1561.0 1202.6,1561.3 1203.6,1561.1 1204.6,1561.1 1205.6,1561.1 1206.6,1561.1 1207.6,1561.8 1208.6,1562.0 1209.6,1561.7 1210.6,1562.1 1211.6,1562.1 1212.6,1562.5 1213.6,1562.1 1214.6,1562.5 1215.6,1562.1 1216.6,1561.8 1217.6,1561.7 1218.6,1561.5 1219.6,1561.9 1220.6,1561.4 1221.6,1561.2 1222.6,1561.3 1223.6,1561.5 1224.6,1560.9 1225.6,1560.7 1226.6,1561.3 1227.6,1561.1 1228.6,1560.9 1229.6,1561.0 1230.6,1561.3 1231.6,1560.6 1232.6,1561.4 1233.6,1561.2 1234.6,1561.4 1235.6,1561.2 1236.6,1561.8 1237.6,1560.4 1238.6,1561.5 1239.6,1560.8 1240.6,1561.3 1241.6,1561.5 1242.6,1561.1 1243.6,1561.0 1244.6,1561.4 1245.6,1561.6 1246.6,1561.7 1247.6,1561.3 1248.6,1561.5 1249.6,1561.2 1250.6,1561.8 1251.6,1561.3 1252.6,1561.7 1253.6,1561.3 1254.6,1561.3 1255.6,1561.6 1256.6,1561.1 1257.6,1561.5 1258.6,1561.2 1259.6,1561.2 1260.6,1561.4 1261.6,1561.9 1262.6,1561.7 1263.6,1561.6 1264.6,1561.3 1265.6,1561.8 1266.6,1561.7 1267.6,1561.6 1268.6,1561.7 1269.6,1560.9 1270.6,1561.5 1271.6,1561.7 1272.6,1561.7 1273.6,1561.5 1274.6,1560.8 1275.6,1561.5 1276.6,1561.5 1277.6,1561.3 1278.6,1561.6 1279.6,1561.4 1280.6,1561.5 1281.6,1561.9 1282.6,1561.7 1283.6,1561.7 1284.6,1561.5 1285.6,1561.7 1286.6,1562.0 1287.6,1562.0 1288.6,1561.9 1289.6,1562.5 1290.6,1562.1 1291.6,1562.2 1292.6,1562.1 1293.6,1561.7 1294.6,1562.5 1295.6,1562.2 1296.6,1561.9 1297.6,1562.1 1298.6,1561.5 1299.6,1562.1 1300.6,1561.9 1301.6,1562.4 1302.6,1561.8 1303.6,1561.8 1304.6,1561.9 1305.6,1563.2 1306.6,1561.8 1307.6,1561.8 1308.6,1561.6 1309.6,1562.0 1310.6,1561.7 1311.6,1561.5 1312.6,1561.4 1313.6,1561.1 1314.6,1561.1 1315.6,1560.9 1316.6,1561.3 1317.6,1561.3 1318.6,1561.4 1319.6,1561.2 1320.6,1561.5 1321.6,1561.6 1322.6,1562.1 1323.6,1561.8 1324.6,1561.9 1325.6,1562.6 1326.6,1562.5 1327.6,1562.0 1328.6,1562.5 1329.6,1562.4 1330.6,1562.2 1331.6,1561.4 1332.6,1561.6 1333.6,1560.8 1334.6,1560.3 1335.6,1560.7 1336.6,1561.8 1337.6,1561.5 1338.6,1561.8 1339.6,1561.9 1340.6,1561.9 1341.6,1561.8 1342.6,1561.6 1343.6,1561.6 1344.6,1561.5 1345.6,1561.0 1346.6,1561.1 1347.6,1561.2 1348.6,1561.2 1349.6,1561.2 1350.6,1561.1 1351.6,1561.2 1352.6,1561.1 1353.6,1561.7 1354.6,1561.9 1355.6,1561.8 1356.6,1561.6 1357.6,1562.2 1358.6,1562.0 1359.6,1561.8 1360.6,1561.7 1361.6,1562.1 1362.6,1562.3 1363.6,1561.9 1364.6,1561.0 1365.6,1561.7 1366.6,1561.5 1367.6,1561.5 1368.6,1561.6 1369.6,1561.3 1370.6,1561.5 1371.6,1561.0 1372.6,1561.6 1373.6,1561.2 1374.6,1561.0 1375.6,1560.9 1376.6,1560.9 1377.6,1561.3 1378.6,1560.8 1379.6,1561.3 1380.6,1561.4 1381.6,1561.2 1382.6,1561.7 1383.6,1561.0 1384.6,1561.6 1385.6,1561.2 1386.6,1561.7 1387.6,1561.9 1388.6,1561.8 1389.6,1561.9 1390.6,1562.2 1391.6,1561.9 1392.6,1561.7 1393.6,1562.0 1394.6,1561.9 1395.6,1561.7 1396.6,1561.8 1397.6,1561.4 1398.6,1561.3 1399.6,1561.3 1400.6,1561.2 1401.6,1561.2 1402.6,1561.0 1403.6,1561.7 1404.6,1561.7 1405.6,1561.8 1406.6,1561.9 1407.6,1561.5 1408.6,1562.2 1409.6,1561.8 1410.6,1562.0 1411.6,1561.6 1412.6,1562.0 1413.6,1561.7 1414.6,1561.8 1415.6,1562.1 1416.6,1562.0 1417.6,1561.4 1418.6,1561.5 1419.6,1561.6 1420.6,1561.5 1421.6,1561.6 1422.6,1561.3 1423.6,1561.1 1424.6,1561.0 1425.6,1561.5 1426.6,1561.6 1427.6,1561.7 1428.6,1561.8 1429.6,1561.6 1430.6,1561.5 1431.6,1561.7 1432.6,1561.5 1433.6,1559.9 1434.6,1561.5 1435.6,1561.8 1436.6,1561.9 1437.6,1561.9 1438.6,1561.4 1439.6,1561.9 1440.6,1561.5 1441.6,1561.6 1442.6,1561.8 1443.6,1561.4 1444.6,1561.5 1445.6,1561.6 1446.6,1562.1 1447.6,1561.9 1448.6,1561.5 1449.6,1561.7 1450.6,1561.6 1451.6,1561.6 1452.6,1561.4 1453.6,1561.8 1454.6,1562.0 1455.6,1561.8 1456.6,1561.3 1457.6,1561.8 1458.6,1561.7 1459.6,1562.0 1460.6,1561.2 1461.6,1561.7 1462.6,1561.7 1463.6,1561.5 1464.6,1561.7 1465.6,1561.8 1466.6,1561.5 1467.6,1561.4 1468.6,1561.5 1469.6,1561.4 1470.6,1561.7 1471.6,1561.8 1472.6,1561.7 1473.6,1561.9 1474.6,1562.4 1475.6,1562.4 1476.6,1562.1 1477.6,1562.1 1478.6,1562.3 1479.6,1561.5 1480.6,1561.7 1481.6,1563.1 1482.6,1562.0 1483.6,1561.6 1484.6,1561.7 1485.6,1561.9 1486.6,1562.2 1487.6,1562.0 1488.6,1561.4 1489.6,1562.0 1490.6,1561.7 1491.6,1561.6 1492.6,1561.4 1493.6,1561.8 1494.6,1561.6 1495.6,1561.2 1496.6,1561.7 1497.6,1561.8 1498.6,1561.8 1499.6,1562.0 1500.6,1561.4 1501.6,1561.6 1502.6,1561.5 1503.6,1561.9 1504.6,1561.5 1505.6,1561.3 1506.6,1561.7 1507.6,1561.6 1508.6,1561.7 1509.6,1561.8 1510.6,1561.6 1511.6,1561.4 1512.6,1562.1 1513.6,1561.6 1514.6,1561.4 1515.6,1561.7 1516.6,1561.9 1517.6,1561.4 1518.6,1561.7 1519.6,1561.9 1520.6,1561.7 1521.6,1562.0 1522.6,1561.7 1523.6,1561.9 1524.6,1562.0 1525.6,1562.2 1526.6,1562.2 1527.6,1562.2 1528.6,1562.3 1529.6,1561.9 1530.6,1562.7 1531.6,1562.1 1532.6,1562.0 1533.6,1562.0 1534.6,1561.9 1535.6,1561.7 1536.6,1561.4 1537.6,1561.1 1538.6,1561.4 1539.6,1561.2 1540.6,1561.2 1541.6,1561.2 1542.6,1561.2 1543.6,1561.3 1544.6,1561.0 1545.6,1560.3 1546.6,1560.4 1547.6,1560.0 1548.6,1559.1 1549.6,1559.4 1550.6,1559.4 1551.6,1559.4 1552.6,1559.6 1553.6,1559.8 1554.6,1559.8 1555.6,1559.9 1556.6,1559.7 1557.6,1559.6 1558.6,1559.9 1559.6,1559.2 1560.6,1559.3 1561.6,1558.8 1562.6,1559.3 1563.6,1559.4 1564.6,1558.9 1565.6,1559.9 1566.6,1558.9 1567.6,1559.6 1568.6,1559.0 1569.6,1559.3 1570.6,1559.1 1571.6,1559.4 1572.6,1559.2 1573.6,1559.5 1574.6,1559.6 1575.6,1559.7 1576.6,1559.9 1577.6,1559.7 1578.6,1559.8 1579.6,1559.6 1580.6,1559.9 1581.6,1559.8 1582.6,1560.1 1583.6,1560.1 1584.6,1559.9 1585.6,1560.1 1586.6,1560.3 1587.6,1560.0 1588.6,1559.8 1589.6,1560.5 1590.6,1560.1 1591.6,1560.1 1592.6,1560.5 1593.6,1559.9 1594.6,1560.2 1595.6,1559.8 1596.6,1561.1 1597.6,1560.3 1598.6,1560.1 1599.6,1560.0 1600.6,1559.9 1601.6,1559.8 1602.6,1560.0 1603.6,1559.5 1604.6,1559.4 1605.6,1559.3 1606.6,1559.0 1607.6,1559.2 1608.6,1559.0 1609.6,1558.5 1610.6,1558.8 1611.6,1559.0 1612.6,1559.3 1613.6,1559.1 1614.6,1559.0 1615.6,1559.5 1616.6,1559.0 1617.6,1559.2 1618.6,1559.3 1619.6,1559.0 1620.6,1558.9 1621.6,1559.6 1622.6,1559.2 1623.6,1559.5 1624.6,1559.3 1625.6,1559.6 1626.6,1559.4 1627.6,1559.4 1628.6,1559.5 1629.6,1559.6 1630.6,1559.5 1631.6,1559.5 1632.6,1559.5 1633.6,1559.2 1634.6,1559.5 1635.6,1559.2 1636.6,1559.4 1637.6,1559.6 1638.6,1559.7 1639.6,1558.9 1640.6,1559.6 1641.6,1559.0 1642.6,1559.6 1643.6,1559.4 1644.6,1559.7 1645.6,1559.6 1646.6,1560.3 1647.6,1560.5 1648.6,1560.5 1649.6,1560.8 1650.6,1561.3 1651.6,1561.5 1652.6,1561.7 1653.6,1561.6 1654.6,1561.9 1655.6,1562.2 1656.6,1562.2 1657.6,1562.2 1658.6,1561.9 1659.6,1561.7 1660.6,1561.8 1661.6,1561.8 1662.6,1561.6 1663.6,1561.8 1664.6,1561.5 1665.6,1561.7 1666.6,1561.4 1667.6,1562.0 1668.6,1561.8 1669.6,1561.5 1670.6,1561.0 1671.6,1560.9 1672.6,1561.2 1673.6,1561.0 1674.6,1560.8 1675.6,1560.6 1676.6,1560.6 1677.6,1560.9 1678.6,1560.8 1679.6,1560.5 1680.6,1560.6 1681.6,1560.9 1682.6,1560.6 1683.6,1560.7 1684.6,1560.9 1685.6,1560.7 1686.6,1560.4 1687.6,1560.2 1688.6,1560.4 1689.6,1559.8 1690.6,1559.7 1691.6,1559.8 1692.6,1559.4 1693.6,1559.8 1694.6,1559.3 1695.6,1559.5 1696.6,1559.2 1697.6,1559.1 1698.6,1559.1 1699.6,1557.7 1700.6,1558.7 1701.6,1558.6 1702.6,1558.9 1703.6,1558.5 1704.6,1558.4 1705.6,1558.0 1706.6,1558.2 1707.6,1558.3 1708.6,1558.0 1709.6,1558.3 1710.6,1557.6 1711.6,1557.7 1712.6,1557.8 1713.6,1557.6 1714.6,1557.7 1715.6,1557.7 1716.6,1557.5 1717.6,1557.5 1718.6,1557.4 1719.6,1557.4 1720.6,1557.1 1721.6,1557.1 1722.6,1557.3 1723.6,1557.2 1724.6,1557.2 1725.6,1557.5 1726.6,1557.6 1727.6,1557.8 1728.6,1558.0 1729.6,1558.2 1730.6,1558.5 1731.6,1558.3 1732.6,1558.4 1733.6,1558.9 1734.6,1558.6 1735.6,1558.5 1736.6,1558.4 1737.6,1558.8 1738.6,1558.8 1739.6,1558.6 1740.6,1558.9 1741.6,1559.0 1742.6,1559.5 1743.6,1559.5 1744.6,1559.6 1745.6,1559.5 1746.6,1559.8 1747.6,1560.0 1748.6,1560.0 1749.6,1560.2 1750.6,1560.0 1751.6,1560.2 1752.6,1560.2 1753.6,1560.0 1754.6,1560.4 1755.6,1560.2 1756.6,1560.1 1757.6,1559.8 1758.6,1559.8 1759.6,1560.0 1760.6,1559.9 1761.6,1560.2 1762.6,1560.2 1763.6,1560.4 1764.6,1560.4 1765.6,1560.0 1766.6,1560.4 1767.6,1560.1 1768.6,1560.1 1769.6,1560.2 1770.6,1560.2 1771.6,1560.4 1772.6,1560.8 1773.6,1560.4 1774.6,1560.2 1775.6,1560.5 1776.6,1560.8 1777.6,1560.7 1778.6,1560.8 1779.6,1561.2 1780.6,1561.0 1781.6,1561.0 1782.6,1560.7 1783.6,1561.2 1784.6,1560.8 1785.6,1561.4 1786.6,1560.7 1787.6,1560.8 1788.6,1560.7 1789.6,1560.8 1790.6,1560.3 1791.6,1560.4 1792.6,1560.8 1793.6,1561.1 1794.6,1560.6 1795.6,1560.7 1796.6,1560.4 1797.6,1560.5 1798.6,1560.5 1799.6,1560.6 1800.6,1560.3 1801.6,1560.7 1802.6,1560.6 1803.6,1560.6 1804.6,1560.9 1805.6,1560.7 1806.6,1560.5 1807.6,1560.7 1808.6,1562.0 1809.6,1560.7 1810.6,1560.9 1811.6,1560.7 1812.6,1560.8 1813.6,1560.9 1814.6,1560.3 1815.6,1560.5 1816.6,1560.5 1817.6,1560.5 1818.6,1560.7 1819.6,1560.8 1820.6,1560.4 1821.6,1560.4 1822.6,1560.5 1823.6,1560.1 1824.6,1560.4 1825.6,1560.6 1826.6,1560.9 1827.6,1561.0 1828.6,1560.6 1829.6,1561.1 1830.6,1559.8 1831.6,1561.0 1832.6,1561.0 1833.6,1560.3 1834.6,1560.8 1835.6,1560.7 1836.6,1560.6 1837.6,1560.9 1838.6,1561.2 1839.6,1560.9 1840.6,1560.7 1841.6,1560.7 1842.6,1560.8 1843.6,1560.9 1844.6,1561.4 1845.6,1561.3 1846.6,1561.3 1847.6,1561.8 1848.6,1561.3 1849.6,1561.3 1850.6,1561.2 1851.6,1561.2 1852.6,1561.4 1853.6,1561.2 1854.6,1561.8 1855.6,1561.6 1856.6,1561.6 1857.6,1562.0 1858.6,1561.7 1859.6,1562.1 1860.6,1562.0 1861.6,1562.4 1862.6,1562.1 1863.6,1562.2 1864.6,1562.2 1865.6,1562.2 1866.6,1562.6 1867.6,1562.4 1868.6,1562.6 1869.6,1562.4 1870.6,1562.6 1871.6,1562.4 1872.6,1562.4 1873.6,1562.0 1874.6,1562.3 1875.6,1562.1 1876.6,1562.6 1877.6,1562.2 1878.6,1562.4 1879.6,1562.3 1880.6,1562.2 1881.6,1562.2 1882.6,1562.3 1883.6,1561.9 1884.6,1561.9 1885.6,1561.6 1886.6,1561.9 1887.6,1561.5 1888.6,1561.5 1889.6,1561.8 1890.6,1561.6 1891.6,1561.6 1892.6,1561.4 1893.6,1561.4 1894.6,1561.2 1895.6,1560.8 1896.6,1560.9 1897.6,1560.7 1898.6,1560.7 1899.6,1560.8 1900.6,1560.6 1901.6,1560.3 1902.6,1560.9 1903.6,1560.9 1904.6,1560.3 1905.6,1560.6 1906.6,1560.3 1907.6,1560.1 1908.6,1560.0 1909.6,1560.1 1910.6,1560.0 1911.6,1560.8 1912.6,1559.8 1913.6,1559.5 1914.6,1559.7 1915.6,1559.3 1916.6,1559.2 1917.6,1559.6 1918.6,1559.6 1919.6,1559.7 1920.6,1559.5 1921.6,1559.4 1922.6,1559.7 1923.6,1559.6 1924.6,1559.7 1925.6,1559.6 1926.6,1560.0 1927.6,1559.5 1928.6,1560.2 1929.6,1559.8 1930.6,1560.5 1931.6,1560.2 1932.6,1560.8 1933.6,1561.3 1934.6,1560.9 1935.6,1560.8 1936.6,1561.6 1937.6,1561.3 1938.6,1561.3 1939.6,1561.9 1940.6,1561.2 1941.6,1561.6 1942.6,1561.7 1943.6,1561.9 1944.6,1561.7 1945.6,1562.4 1946.6,1562.5 1947.6,1562.4 1948.6,1562.4 1949.6,1562.2 1950.6,1562.6 1951.6,1562.4 1952.6,1562.7 1953.6,1562.8 1954.6,1562.8 1955.6,1563.3 1956.6,1562.4 1957.6,1563.4 1958.6,1563.2 1959.6,1563.6 1960.6,1562.7 1961.6,1563.0 1962.6,1563.0 1963.6,1562.6 1964.6,1562.3 1965.6,1563.0 1966.6,1562.9 1967.6,1562.6 1968.6,1562.7 1969.6,1562.8 1970.6,1562.4 1971.6,1562.6 1972.6,1562.8 1973.6,1562.5 1974.6,1562.8 1975.6,1562.9 1976.6,1562.8 1977.6,1562.8 1978.6,1562.6 1979.6,1561.9 1980.6,1562.2 1981.6,1562.5 1982.6,1562.4 1983.6,1562.5 1984.6,1562.2 1985.6,1562.2 1986.6,1562.4 1987.6,1562.1 1988.6,1562.1 1989.6,1562.3 1990.6,1562.0 1991.6,1562.1 1992.6,1562.1 1993.6,1561.8 1994.6,1561.6 1995.6,1561.4 1996.6,1561.5 1997.6,1561.7 1998.6,1561.6 1999.6,1561.7 2000.6,1561.5 2001.6,1561.2 2002.6,1561.1 2003.6,1561.2 2004.6,1561.3 2005.6,1561.1 2006.6,1561.4 2007.6,1560.9 2008.6,1561.1 2009.6,1561.1 2010.6,1560.5 2011.6,1560.7 2012.6,1560.8 2013.6,1560.9 2014.6,1560.7 2015.6,1560.5 2016.6,1560.6 2017.6,1560.8 2018.6,1561.1 2019.6,1561.0 2020.6,1560.9 2021.6,1561.0 2022.6,1561.0 2023.6,1560.5 2024.6,1560.6 2025.6,1560.8 2026.6,1560.9 2027.6,1560.8 2028.6,1560.3 2029.6,1560.4 2030.6,1560.1 2031.6,1560.0 2032.6,1560.0 2033.6,1559.8 2034.6,1559.8 2035.6,1559.7 2036.6,1559.6 2037.6,1559.9 2038.6,1560.0 2039.6,1560.1 2040.6,1559.9 2041.6,1559.9 2042.6,1560.3 2043.6,1560.1 2044.6,1560.1 2045.6,1559.8 2046.6,1559.7 2047.6,1559.5 2048.6,1559.9 2049.6,1559.5 2050.6,1559.4 2051.6,1559.6 2052.6,1560.0 2053.6,1559.7 2054.6,1559.7 2055.6,1559.6 2056.6,1559.6 2057.6,1559.6 2058.6,1559.3 2059.6,1560.0 2060.6,1558.9 2061.6,1560.0 2062.6,1559.5 2063.6,1559.9 2064.6,1559.5 2065.6,1559.5 2066.6,1559.7 2067.6,1559.8 2068.6,1559.8 2069.6,1559.8 2070.6,1559.5 2071.6,1559.7 2072.6,1559.5 2073.6,1559.5 2074.6,1559.7 2075.6,1559.6 2076.6,1559.8 2077.6,1560.2 2078.6,1559.7 2079.6,1559.3 2080.6,1559.7 2081.6,1559.6 2082.6,1559.2 2083.6,1559.5 2084.6,1559.8 2085.6,1559.6 2086.6,1559.7 2087.6,1559.8 2088.6,1560.1 2089.6,1560.2 2090.6,1559.9 2091.6,1560.2 2092.6,1560.4 2093.6,1560.3 2094.6,1559.9 2095.6,1560.0 2096.6,1560.3 2097.6,1560.5 2098.6,1560.5 2099.6,1560.5 2100.6,1560.6 2101.6,1561.1 2102.6,1560.9 2103.6,1561.2 2104.6,1560.6 2105.6,1560.1 2106.6,1560.5 2107.6,1560.9 2108.6,1560.7 2109.6,1560.3 2110.6,1560.0 2111.6,1560.7 2112.6,1560.6 2113.6,1560.4 2114.6,1560.4 2115.6,1560.9 2116.6,1559.9 2117.6,1560.8 2118.6,1560.8 2119.6,1560.6 2120.6,1560.6 2121.6,1560.8 2122.6,1560.6 2123.6,1560.6 2124.6,1560.8 2125.6,1560.0 2126.6,1560.7 2127.6,1560.5 2128.6,1560.2 2129.6,1560.3 2130.6,1560.7 2131.6,1560.7 2132.6,1560.4 2133.6,1560.7 2134.6,1561.0 2135.6,1561.4 2136.6,1561.3 2137.6,1561.1 2138.6,1561.4 2139.6,1561.4 2140.6,1561.5 2141.6,1561.7 2142.6,1561.3 2143.6,1562.0 2144.6,1561.8 2145.6,1561.6 2146.6,1561.6 2147.6,1561.3 2148.6,1561.5 2149.6,1561.4 2150.6,1561.3 2151.6,1561.5 2152.6,1560.7 2153.6,1561.0 2154.6,1561.0 2155.6,1561.4 2156.6,1561.3 2157.6,1561.3 2158.6,1561.6 2159.6,1561.8 2160.6,1562.2 2161.6,1562.0 2162.6,1561.9 2163.6,1561.9 2164.6,1561.9 2165.6,1562.1 2166.6,1562.2 2167.6,1562.0 2168.6,1562.1 2169.6,1562.3 2170.6,1562.1 2171.6,1562.1 2172.6,1561.7 2173.6,1561.7 2174.6,1561.3 2175.6,1561.5 2176.6,1561.8 2177.6,1561.6 2178.6,1561.6 2179.6,1561.6 2180.6,1561.9 2181.6,1562.2 2182.6,1562.0 2183.6,1562.3 2184.6,1562.2 2185.6,1562.1 2186.6,1562.2 2187.6,1562.4 2188.6,1562.9 2189.6,1562.6 2190.6,1562.4 2191.6,1562.5 2192.6,1562.3 2193.6,1562.4 2194.6,1562.5 2195.6,1562.6 2196.6,1562.8 2197.6,1563.0 2198.6,1562.9 2199.6,1562.7 2200.6,1562.8 2201.6,1562.6 2202.6,1562.6 2203.6,1562.9 2204.6,1563.0 2205.6,1562.9 2206.6,1563.1 2207.6,1563.1 2208.6,1563.2 2209.6,1563.1 2210.6,1562.9 2211.6,1563.6 2212.6,1563.2 2213.6,1563.5 2214.6,1563.5 2215.6,1563.5 2216.6,1563.9 2217.6,1563.8 2218.6,1563.8 2219.6,1563.8 2220.6,1563.8 2221.6,1563.8 2222.6,1564.1 2223.6,1563.9 2224.6,1563.9 2225.6,1564.0 2226.6,1563.9 2227.6,1564.0 2228.6,1563.7 2229.6,1563.7 2230.6,1563.8 2231.6,1563.4 2232.6,1563.5 2233.6,1563.5 2234.6,1563.4 2235.6,1563.7 2236.6,1563.3 2237.6,1563.4 2238.6,1563.4 2239.6,1563.8 2240.6,1563.6 2241.6,1563.7 2242.6,1563.7 2243.6,1563.8 2244.6,1563.6 2245.6,1564.1 2246.6,1564.2 2247.6,1564.1 2248.6,1564.5 2249.6,1564.2 2250.6,1564.4 2251.6,1564.5 2252.6,1564.6 2253.6,1564.8 2254.6,1564.6 2255.6,1564.5 2256.6,1564.7 2257.6,1564.7 2258.6,1564.8 2259.6,1564.8 2260.6,1564.6 2261.6,1564.5 2262.6,1564.6 2263.6,1564.4 2264.6,1564.4 2265.6,1564.7 2266.6,1564.4 2267.6,1564.6 2268.6,1564.7 2269.6,1564.5 2270.6,1564.7 2271.6,1564.7 2272.6,1564.7 2273.6,1564.4 2274.6,1564.4 2275.6,1564.6 2276.6,1564.8 2277.6,1564.8 2278.6,1564.3 2279.6,1564.5 2280.6,1564.5 2281.6,1564.3 2282.6,1564.7 2283.6,1564.7 2284.6,1565.0 2285.6,1564.9 2286.6,1564.8 2287.6,1564.8 2288.6,1564.8 2289.6,1564.8 2290.6,1564.6 2291.6,1565.0 2292.6,1564.7 2293.6,1564.5 2294.6,1564.8 2295.6,1565.0 2296.6,1565.0 2297.6,1565.0 2298.6,1565.0 2299.6,1565.0 2300.6,1564.9 2301.6,1565.0 2302.6,1565.1 2303.6,1565.0 2304.6,1565.3 2305.6,1565.0 2306.6,1564.9 2307.6,1564.9 2308.6,1564.6 2309.6,1564.6 2310.6,1564.8 2311.6,1564.8 2312.6,1564.9 2313.6,1564.6 2314.6,1564.7 2315.6,1564.6 2316.6,1565.0 2317.6,1564.5 2318.6,1564.5 2319.6,1564.4 2320.6,1564.2 2321.6,1563.9 2322.6,1564.3 2323.6,1564.4 2324.6,1564.3 2325.6,1564.4 2326.6,1564.5 2327.6,1564.5 2328.6,1564.1 2329.6,1564.6 2330.6,1564.5 2331.6,1564.4 2332.6,1564.3 2333.6,1564.3 2334.6,1564.2 2335.6,1564.4 2336.6,1564.5 2337.6,1564.2 2338.6,1564.4 2339.6,1564.1 2340.6,1564.4 2341.6,1563.8 2342.6,1563.8 2343.6,1563.9 2344.6,1563.5 2345.6,1563.3 2346.6,1563.3 2347.6,1563.4 2348.6,1563.2 2349.6,1563.5 2350.6,1563.3 2351.6,1562.5 2352.6,1562.9 2353.6,1562.6 2354.6,1562.5 2355.6,1562.5 2356.6,1562.2 2357.6,1562.5 2358.6,1561.9 2359.6,1562.1 2360.6,1562.2 2361.6,1561.6 2362.6,1561.9 2363.6,1561.6 2364.6,1561.8 2365.6,1561.8 2366.6,1562.0 2367.6,1561.6 2368.6,1561.4 2369.6,1561.6 2370.6,1561.7 2371.6,1561.7 2372.6,1561.6 2373.6,1561.7 2374.6,1561.3 2375.6,1561.2 2376.6,1560.9 2377.6,1560.8 2378.6,1561.0 2379.6,1560.8 2380.6,1560.1 2381.6,1560.8 2382.6,1560.1 2383.6,1559.9 2384.6,1560.6 2385.6,1560.4 2386.6,1560.5 2387.6,1560.6 2388.6,1560.5 2389.6,1560.2 2390.6,1560.5 2391.6,1560.2 2392.6,1559.9 2393.6,1560.2 2394.6,1560.3 2395.6,1560.2 2396.6,1560.0 2397.6,1560.3 2398.6,1559.8 2399.6,1559.8 2400.6,1559.6 2401.6,1559.7 2402.6,1559.3 2403.6,1559.6 2404.6,1559.8 2405.6,1559.4 2406.6,1559.8 2407.6,1559.3 2408.6,1559.6 2409.6,1559.7 2410.6,1559.4 2411.6,1559.2 2412.6,1559.4 2413.6,1559.3 2414.6,1559.3 2415.6,1559.2 2416.6,1559.2 2417.6,1559.2 2418.6,1559.0 2419.6,1558.6 2420.6,1558.9 2421.6,1559.0 2422.6,1558.7 2423.6,1558.9 2424.6,1558.6 2425.6,1558.5 2426.6,1558.5 2427.6,1558.0 2428.6,1558.3 2429.6,1558.1 2430.6,1558.4 2431.6,1558.0 2432.6,1557.9 2433.6,1557.9 2434.6,1557.7 2435.6,1557.9 2436.6,1558.0 2437.6,1558.1 2438.6,1558.0 2439.0,1558.1"/>
<path class="crv" stroke="#4a4a4a" stroke-width="7.3" d="M227.0,1684.9 228.0,1687.4 229.0,1686.0 230.0,1685.4 231.0,1688.1 232.0,1685.7 233.0,1685.8 234.0,1685.7 235.0,1685.5 236.0,1687.8 237.0,1685.6 238.0,1687.9 239.0,1687.5 240.0,1689.4 241.0,1689.2 242.0,1688.5 243.0,1687.0 244.0,1688.3 245.0,1687.9 246.0,1687.0 247.0,1685.5 248.0,1685.4 249.0,1683.4 250.0,1683.2 251.0,1682.4 252.0,1681.0 253.0,1679.8 254.0,1680.1 255.0,1679.7 256.0,1681.8 257.0,1682.0 258.0,1681.4 259.0,1681.4 260.0,1681.5 261.0,1682.4 262.0,1681.9 263.0,1681.8 264.0,1682.9 265.0,1683.3 266.0,1683.1 267.0,1683.7 268.0,1686.2 269.0,1685.7 270.0,1687.5 271.0,1687.7 272.0,1687.9 273.0,1688.4 274.0,1690.5 275.0,1689.4 276.0,1690.0 277.0,1690.0 278.0,1690.4 279.0,1689.4 280.0,1689.4 281.0,1687.2 282.0,1687.4 283.0,1686.0 284.0,1684.9 285.0,1683.4 286.0,1684.1 287.0,1685.1 288.0,1681.9 289.0,1681.0 290.0,1682.0 291.0,1681.5 292.0,1682.2 293.0,1683.2 294.0,1682.3 295.0,1687.3 296.0,1684.0 297.0,1684.5 298.0,1686.0 299.0,1688.2 300.0,1687.3 301.0,1688.9 302.0,1688.2 303.0,1689.7 304.0,1689.6 305.0,1690.2 306.0,1689.2 307.0,1688.9 308.0,1687.3 309.0,1689.0 310.0,1689.5 311.0,1689.1 312.0,1689.1 313.0,1689.1 314.0,1688.9 315.0,1686.9 316.0,1687.0 317.0,1688.9 318.0,1686.8 319.0,1686.0 320.0,1685.6 321.0,1688.0 322.0,1688.9 323.0,1690.2 324.0,1689.7 325.0,1689.1 326.0,1690.4 327.0,1690.2 328.0,1689.9 329.0,1689.5 330.0,1689.4 331.0,1690.5 332.0,1690.9 333.0,1691.4 334.0,1691.4 335.0,1691.5 336.0,1692.7 337.0,1690.9 338.0,1691.8 339.0,1692.1 340.0,1689.7 341.0,1689.5 342.0,1688.1 343.0,1690.3 344.0,1688.8 345.0,1688.7 346.0,1689.3 347.0,1688.2 348.0,1689.1 349.0,1686.1 350.0,1689.0 351.0,1688.4 352.0,1687.9 353.0,1689.4 354.0,1689.9 355.0,1688.4 356.0,1687.5 357.0,1690.6 358.0,1687.3 359.0,1689.6 360.0,1691.2 361.0,1690.8 362.0,1690.3 363.0,1690.9 364.0,1690.9 365.0,1691.8 366.0,1691.7 367.0,1690.8 368.0,1690.9 369.0,1693.3 370.0,1691.7 371.0,1692.1 372.0,1694.9 373.0,1693.1 374.0,1691.2 375.0,1690.8 376.0,1691.3 377.0,1690.0 378.0,1689.0 379.0,1686.8 380.0,1687.8 381.0,1688.3 382.0,1688.4 383.0,1689.8 384.0,1689.4 385.0,1687.1 386.0,1688.3 387.0,1689.0 388.0,1689.3 389.0,1689.2 390.0,1689.3 391.0,1687.2 392.0,1686.7 393.0,1689.2 394.0,1688.2 395.0,1687.5 396.0,1688.9 397.0,1689.3 398.0,1688.3 399.0,1687.7 400.0,1688.7 401.0,1686.2 402.0,1686.6 403.0,1686.2 404.0,1685.7 405.0,1688.2 406.0,1685.7 407.0,1689.5 408.0,1687.3 409.0,1688.2 410.0,1688.9 411.0,1689.5 412.0,1688.8 413.0,1687.6 414.0,1687.1 415.0,1688.0 416.0,1688.1 417.0,1686.5 418.0,1688.4 419.0,1687.7 420.0,1687.7 421.0,1686.6 422.0,1686.4 423.0,1687.5 424.0,1684.7 425.0,1686.3 426.0,1686.9 427.0,1685.2 428.0,1687.9 429.0,1688.1 430.0,1686.1 431.0,1687.1 432.0,1687.2 433.0,1686.9 434.0,1687.1 435.0,1690.8 436.0,1689.4 437.0,1688.6 438.0,1689.2 439.0,1689.7 440.0,1689.5 441.0,1690.8 442.0,1688.3 443.0,1689.4 444.0,1690.4 445.0,1687.8 446.0,1688.3 447.0,1687.8 448.0,1687.5 449.0,1686.0 450.0,1686.3 451.0,1687.0 452.0,1687.7 453.0,1687.3 454.0,1687.5 455.0,1687.3 456.0,1688.3 457.0,1686.4 458.0,1689.5 459.0,1690.2 460.0,1689.8 461.0,1689.3 462.0,1691.5 463.0,1690.1 464.0,1691.9 465.0,1690.8 466.0,1690.7 467.0,1691.3 468.0,1691.0 469.0,1691.1 470.0,1691.3 471.0,1689.8 472.0,1688.8 473.0,1688.3 474.0,1688.1 475.0,1687.5 476.0,1687.9 477.0,1688.0 478.0,1687.9 479.0,1688.3 480.0,1687.8 481.0,1688.5 482.0,1687.8 483.0,1688.1 484.0,1688.1 485.0,1686.7 486.0,1688.0 487.0,1688.9 488.0,1689.7 489.0,1689.8 490.0,1691.3 491.0,1689.1 492.0,1688.5 493.0,1689.5 494.0,1690.3 495.0,1689.1 496.0,1689.6 497.0,1691.4 498.0,1688.5 499.0,1689.3 500.0,1689.8 501.0,1688.4 502.0,1688.6 503.0,1689.8 504.0,1688.5 505.0,1688.4 506.0,1689.5 507.0,1687.6 508.0,1689.4 509.0,1689.4 510.0,1689.7 511.0,1688.5 512.0,1688.5 513.0,1688.2 514.0,1688.3 515.0,1686.5 516.0,1687.1 517.0,1684.5 518.0,1686.3 519.0,1686.4 520.0,1685.2 521.0,1686.1 522.0,1687.0 523.0,1687.9 524.0,1689.3 525.0,1688.9 526.0,1688.7 527.0,1688.7 528.0,1688.8 529.0,1689.0 530.0,1688.3 531.0,1687.7 532.0,1688.1 533.0,1688.1 534.0,1688.7 535.0,1689.5 536.0,1689.8 537.0,1690.9 538.0,1689.3 539.0,1689.8 540.0,1688.1 541.0,1688.9 542.0,1687.6 543.0,1687.6 544.0,1686.5 545.0,1685.0 546.0,1685.9 547.0,1685.9 548.0,1686.7 549.0,1687.2 550.0,1688.6 551.0,1689.6 552.0,1690.1 553.0,1692.0 554.0,1690.0 555.0,1690.1 556.0,1689.8 557.0,1686.3 558.0,1689.6 559.0,1690.0 560.0,1689.9 561.0,1690.7 562.0,1690.4 563.0,1689.2 564.0,1689.6 565.0,1689.5 566.0,1688.8 567.0,1688.8 568.0,1688.9 569.0,1689.6 570.0,1689.3 571.0,1688.7 572.0,1688.9 573.0,1689.6 574.0,1687.7 575.0,1688.7 576.0,1688.1 577.0,1691.3 578.0,1689.3 579.0,1689.2 580.0,1689.4 581.0,1688.5 582.0,1689.3 583.0,1691.0 584.0,1687.4 585.0,1686.8 586.0,1688.7 587.0,1688.8 588.0,1688.2 589.0,1689.3 590.0,1689.9 591.0,1688.8 592.0,1690.0 593.0,1688.5 594.0,1689.7 595.0,1692.1 596.0,1692.7 597.0,1693.4 598.0,1691.0 599.0,1691.7 600.0,1691.1 601.0,1691.6 602.0,1690.3 603.0,1689.5 604.0,1689.4 605.0,1688.5 606.0,1689.7 607.0,1689.1 608.0,1690.8 609.0,1690.7 610.0,1691.3 611.0,1690.5 612.0,1690.3 613.0,1690.2 614.0,1690.9 615.0,1689.1 616.0,1691.4 617.0,1689.8 618.0,1688.8 619.0,1689.9 620.0,1688.4 621.0,1689.0 622.0,1685.9 623.0,1688.8 624.0,1688.0 625.0,1687.8 626.0,1684.7 627.0,1688.2 628.0,1687.6 629.0,1688.3 630.0,1689.2 631.0,1689.7 632.0,1689.0 633.0,1690.9 634.0,1689.4 635.0,1690.9 636.0,1690.3 637.0,1690.1 638.0,1689.0 639.0,1690.5 640.0,1689.6 641.0,1690.5 642.0,1689.3 643.0,1689.3 644.0,1690.8 645.0,1690.2 646.0,1688.1 647.0,1688.3 648.0,1687.9 649.0,1687.7 650.0,1687.0 651.0,1687.6 652.0,1686.9 653.0,1686.0 654.0,1686.6 655.0,1686.9 656.0,1686.1 657.0,1686.6 658.0,1688.2 659.0,1689.8 660.0,1686.7 661.0,1688.2 662.0,1689.3 663.0,1688.1 664.0,1689.3 665.0,1688.8 666.0,1687.7 667.0,1688.4 668.0,1687.8 669.0,1688.0 670.0,1689.0 671.0,1688.8 672.0,1688.3 673.0,1691.0 674.0,1688.9 675.0,1689.8 676.0,1689.4 677.0,1691.9 678.0,1690.8 679.0,1692.1 680.0,1692.9 681.0,1692.5 682.0,1691.1 683.0,1691.1 684.0,1690.7 685.0,1690.9 686.0,1689.9 687.0,1689.0 688.0,1690.5 689.0,1690.1 690.0,1691.1 691.0,1691.2 692.0,1688.7 693.0,1689.2 694.0,1689.3 695.0,1693.5 696.0,1690.9 697.0,1691.2 698.0,1690.1 699.0,1693.6 700.0,1691.6 701.0,1692.7 702.0,1692.6 703.0,1691.7 704.0,1692.9 705.0,1693.3 706.0,1692.0 707.0,1692.1 708.0,1692.3 709.0,1692.4 710.0,1692.2 711.0,1690.8 712.0,1690.7 713.0,1690.9 714.0,1689.3 715.0,1690.3 716.0,1691.0 717.0,1690.4 718.0,1690.0 719.0,1690.9 720.0,1690.1 721.0,1690.0 722.0,1688.8 723.0,1688.3 724.0,1687.8 725.0,1688.5 726.0,1686.8 727.0,1687.5 728.0,1688.7 729.0,1689.0 730.0,1688.5 731.0,1687.9 732.0,1689.6 733.0,1689.0 734.0,1689.9 735.0,1689.6 736.0,1691.9 737.0,1691.7 738.0,1689.8 739.0,1689.3 740.0,1689.9 741.0,1691.4 742.0,1690.5 743.0,1689.4 744.0,1688.5 745.0,1689.8 746.0,1689.9 747.0,1688.5 748.0,1689.4 749.0,1689.5 750.0,1688.0 751.0,1688.2 752.0,1688.2 753.0,1687.7 754.0,1686.1 755.0,1686.5 756.0,1687.8 757.0,1687.5 758.0,1687.9 759.0,1690.1 760.0,1686.5 761.0,1687.8 762.0,1687.3 763.0,1687.4 764.0,1688.3 765.0,1686.6 766.0,1686.6 767.0,1687.2 768.0,1687.3 769.0,1688.1 770.0,1690.0 771.0,1687.5 772.0,1687.9 773.0,1688.0 774.0,1686.7 775.0,1689.1 776.0,1689.0 777.0,1687.9 778.0,1689.4 779.0,1689.8 780.0,1689.0 781.0,1690.6 782.0,1686.4 783.0,1688.8 784.0,1690.7 785.0,1690.2 786.0,1690.5 787.0,1689.3 788.0,1689.7 789.0,1692.3 790.0,1691.5 791.0,1691.9 792.0,1693.5 793.0,1693.8 794.0,1692.5 795.0,1691.8 796.0,1692.6 797.0,1690.3 798.0,1691.3 799.0,1688.6 800.0,1688.5 801.0,1688.2 802.0,1687.9 803.0,1688.8 804.0,1688.1 805.0,1688.8 806.0,1689.3 807.0,1690.7 808.0,1687.7 809.0,1689.2 810.0,1689.7 811.0,1689.1 812.0,1692.3 813.0,1690.3 814.0,1690.7 815.0,1690.5 816.0,1691.0 817.0,1691.1 818.0,1690.4 819.0,1690.8 820.0,1689.1 821.0,1688.2 822.0,1686.7 823.0,1687.5 824.0,1685.3 825.0,1684.6 826.0,1685.8 827.0,1685.4 828.0,1687.0 829.0,1687.8 830.0,1689.6 831.0,1690.8 832.0,1689.9 833.0,1693.2 834.0,1692.9 835.0,1690.9 836.0,1692.3 837.0,1691.0 838.0,1690.8 839.0,1691.2 840.0,1689.2 841.0,1690.6 842.0,1690.4 843.0,1690.8 844.0,1689.6 845.0,1688.9 846.0,1690.1 847.0,1687.5 848.0,1687.7 849.0,1687.0 850.0,1686.2 851.0,1687.5 852.0,1686.8 853.0,1686.5 854.0,1687.7 855.0,1686.9 856.0,1688.3 857.0,1689.0 858.0,1687.3 859.0,1687.2 860.0,1685.6 861.0,1685.7 862.0,1686.2 863.0,1686.5 864.0,1686.3 865.0,1687.7 866.0,1688.1 867.0,1688.0 868.0,1688.0 869.0,1688.8 870.0,1689.0 871.0,1689.1 872.0,1688.1 873.0,1688.3 874.0,1689.4 875.0,1688.5 876.0,1689.1 877.0,1687.7 878.0,1687.9 879.0,1687.2 880.0,1686.0 881.0,1687.4 882.0,1686.4 883.0,1687.9 884.0,1685.1 885.0,1686.9 886.0,1685.8 887.0,1687.3 888.0,1687.0 889.0,1688.0 890.0,1688.3 891.0,1687.6 892.0,1687.1 893.0,1688.3 894.0,1687.6 895.0,1687.9 896.0,1688.3 897.0,1685.7 898.0,1687.3 899.0,1686.7 900.0,1687.4 901.0,1688.0 902.0,1688.6 903.0,1688.5 904.0,1688.1 905.0,1689.1 906.0,1687.7 907.0,1687.0 908.0,1687.5 909.0,1685.6 910.0,1685.7 911.0,1687.7 912.0,1686.8 913.0,1686.3 914.0,1689.0 915.0,1690.2 916.0,1689.5 917.0,1689.7 918.0,1691.0 919.0,1694.5 920.0,1690.7 921.0,1690.2 922.0,1691.1 923.0,1691.4 924.0,1689.2 925.0,1689.6 926.0,1690.2 927.0,1690.7 928.0,1690.7 929.0,1690.8 930.0,1691.7 931.0,1690.5 932.0,1691.0 933.0,1687.9 934.0,1693.2 935.0,1691.7 936.0,1690.1 937.0,1692.3 938.0,1691.6 939.0,1691.1 940.0,1690.6 941.0,1689.3 942.0,1688.8 943.0,1688.6 944.0,1688.2 945.0,1689.1 946.0,1687.1 947.0,1687.1 948.0,1686.0 949.0,1687.3 950.0,1687.2 951.0,1688.1 952.0,1688.9 953.0,1688.1 954.0,1687.3 955.0,1688.1 956.0,1688.1 957.0,1687.7 958.0,1686.8 959.0,1687.8 960.0,1686.6 961.0,1687.5 962.0,1687.4 963.0,1685.7 964.0,1688.2 965.0,1689.6 966.0,1688.6 967.0,1688.1 968.0,1689.7 969.0,1688.5 970.0,1689.9 971.0,1690.5 972.0,1690.3 973.0,1690.9 974.0,1690.4 975.0,1690.6 976.0,1691.3 977.0,1689.8 978.0,1687.6 979.0,1689.4 980.0,1690.3 981.0,1689.6 982.0,1689.2 983.0,1690.0 984.0,1688.0 985.0,1687.8 986.0,1689.3 987.0,1690.6 988.0,1689.1 989.0,1690.2 990.0,1689.5 991.0,1691.2 992.0,1691.7 993.0,1692.2 994.0,1691.3 995.0,1693.3 996.0,1691.0 997.0,1692.8 998.0,1690.6 999.0,1691.8 1000.0,1691.6 1001.0,1692.3 1002.0,1690.1 1003.0,1688.4 1004.0,1689.7 1005.0,1688.1 1006.0,1685.9 1007.0,1687.8 1008.0,1687.8 1009.0,1689.5 1010.0,1689.6 1011.0,1690.6 1012.0,1691.1 1013.0,1690.4 1014.0,1690.7 1015.0,1691.4 1016.0,1691.6 1017.0,1690.0 1018.0,1689.5 1019.0,1688.7 1020.0,1688.8 1021.0,1688.7 1022.0,1688.5 1023.0,1686.8 1024.0,1687.5 1025.0,1686.5 1026.0,1685.6 1027.0,1685.2 1028.0,1685.6 1029.0,1685.7 1030.0,1685.4 1031.0,1684.2 1032.0,1685.3 1033.0,1684.5 1034.0,1686.6 1035.0,1686.6 1036.0,1687.5 1037.0,1686.4 1038.0,1686.5 1039.0,1687.6 1040.0,1688.0 1041.0,1689.1 1042.0,1688.8 1043.0,1688.7 1044.0,1687.0 1045.0,1688.5 1046.0,1687.9 1047.0,1686.7 1048.0,1684.8 1049.0,1685.8 1050.0,1686.1 1051.0,1687.3 1052.0,1686.5 1053.0,1686.9 1054.0,1689.1 1055.0,1690.3 1056.0,1690.5 1057.0,1691.6 1058.0,1692.6 1059.0,1691.1 1060.0,1693.6 1061.0,1690.3 1062.0,1689.1 1063.0,1689.4 1064.0,1689.3 1065.0,1689.6 1066.0,1688.8 1067.0,1689.3 1068.0,1688.5 1069.0,1687.8 1070.0,1688.6 1071.0,1689.3 1072.0,1688.5 1073.0,1690.3 1074.0,1689.6 1075.0,1688.3 1076.0,1689.4 1077.0,1688.2 1078.0,1688.6 1079.0,1686.8 1080.0,1685.0 1081.0,1686.4 1082.0,1686.7 1083.0,1687.9 1084.0,1688.8 1085.0,1687.7 1086.0,1688.1 1087.0,1687.3 1088.0,1687.9 1089.0,1688.6 1090.0,1687.5 1091.0,1688.5 1092.0,1688.4 1093.0,1689.9 1094.0,1690.8 1095.0,1690.6 1096.0,1690.2 1097.0,1689.6 1098.0,1688.9 1099.0,1689.8 1100.0,1690.7 1101.0,1689.2 1102.0,1689.3 1103.0,1689.1 1104.0,1688.8 1105.0,1690.6 1106.0,1690.2 1107.0,1688.2 1108.0,1687.7 1109.0,1688.8 1110.0,1686.1 1111.0,1685.5 1112.0,1684.5 1113.0,1685.4 1114.0,1684.8 1115.0,1685.5 1116.0,1685.8 1117.0,1688.7 1118.0,1689.6 1119.0,1688.0 1120.0,1691.8 1121.0,1689.8 1122.0,1688.2 1123.0,1688.4 1124.0,1688.6 1125.0,1690.0 1126.0,1688.9 1127.0,1689.6 1128.0,1690.0 1129.0,1687.6 1130.0,1691.8 1131.0,1690.4 1132.0,1690.7 1133.0,1691.5 1134.0,1690.4 1135.0,1690.5 1136.0,1689.7 1137.0,1690.3 1138.0,1690.1 1139.0,1688.6 1140.0,1689.5 1141.0,1689.7 1142.0,1689.5 1143.0,1688.8 1144.0,1690.4 1145.0,1691.1 1146.0,1689.9 1147.0,1689.4 1148.0,1689.7 1149.0,1690.1 1150.0,1690.9 1151.0,1690.6 1152.0,1690.1 1153.0,1689.0 1154.0,1689.9 1155.0,1689.2 1156.0,1688.2 1157.0,1687.4 1158.0,1689.3 1159.0,1686.9 1160.0,1688.7 1161.0,1689.1 1162.0,1687.1 1163.0,1686.3 1164.0,1686.7 1165.0,1687.0 1166.0,1688.2 1167.0,1689.1 1168.0,1688.1 1169.0,1688.8 1170.0,1688.9 1171.0,1690.7 1172.0,1691.1 1173.0,1690.1 1174.0,1690.8 1175.0,1691.4 1176.0,1689.9 1177.0,1690.9 1178.0,1691.4 1179.0,1690.2 1180.0,1691.4 1181.0,1691.0 1182.0,1690.2 1183.0,1691.0 1184.0,1688.8 1185.0,1689.6 1186.0,1688.8 1187.0,1689.6 1188.0,1688.1 1189.0,1689.0 1190.0,1689.0 1191.0,1689.4 1192.0,1690.0 1193.0,1687.8 1194.0,1689.2 1195.0,1688.6 1196.0,1690.3 1197.0,1690.5 1198.0,1689.1 1199.0,1689.4 1200.0,1690.2 1201.0,1689.4 1202.0,1689.2 1203.0,1688.2 1204.0,1689.0 1205.0,1690.3 1206.0,1688.4 1207.0,1689.8 1208.0,1689.8 1209.0,1689.8 1210.0,1690.4 1211.0,1689.1 1212.0,1690.4 1213.0,1688.4 1214.0,1691.1 1215.0,1684.7 1216.0,1687.3 1217.0,1686.7 1218.0,1688.4 1219.0,1686.6 1220.0,1687.3 1221.0,1689.1 1222.0,1692.3 1223.0,1688.4 1224.0,1688.1 1225.0,1687.4 1226.0,1688.4 1227.0,1689.3 1228.0,1690.4 1229.0,1690.5 1230.0,1691.1 1231.0,1690.2 1232.0,1689.1 1233.0,1689.1 1234.0,1692.6 1235.0,1689.0 1236.0,1689.8 1237.0,1687.2 1238.0,1687.6 1239.0,1686.8 1240.0,1686.9 1241.0,1685.5 1242.0,1684.8 1243.0,1685.7 1244.0,1684.3 1245.0,1686.4 1246.0,1688.1 1247.0,1688.0 1248.0,1689.9 1249.0,1690.2 1250.0,1691.2 1251.0,1692.1 1252.0,1692.3 1253.0,1692.1 1254.0,1690.9 1255.0,1690.4 1256.0,1691.1 1257.0,1690.1 1258.0,1691.4 1259.0,1689.9 1260.0,1691.6 1261.0,1690.6 1262.0,1688.5 1263.0,1689.3 1264.0,1689.0 1265.0,1688.9 1266.0,1689.1 1267.0,1691.7 1268.0,1688.9 1269.0,1688.2 1270.0,1688.1 1271.0,1687.1 1272.0,1685.9 1273.0,1685.2 1274.0,1687.1 1275.0,1685.5 1276.0,1686.9 1277.0,1687.3 1278.0,1686.5 1279.0,1687.5 1280.0,1687.1 1281.0,1688.8 1282.0,1687.9 1283.0,1687.9 1284.0,1689.0 1285.0,1687.9 1286.0,1688.9 1287.0,1688.7 1288.0,1689.5 1289.0,1690.8 1290.0,1688.2 1291.0,1690.3 1292.0,1688.8 1293.0,1689.1 1294.0,1688.5 1295.0,1688.1 1296.0,1687.0 1297.0,1688.9 1298.0,1688.9 1299.0,1687.5 1300.0,1686.2 1301.0,1684.8 1302.0,1686.9 1303.0,1688.0 1304.0,1687.6 1305.0,1686.4 1306.0,1687.8 1307.0,1688.7 1308.0,1688.6 1309.0,1689.6 1310.0,1688.0 1311.0,1688.2 1312.0,1686.8 1313.0,1689.5 1314.0,1688.9 1315.0,1687.8 1316.0,1686.5 1317.0,1688.6 1318.0,1686.9 1319.0,1687.4 1320.0,1687.3 1321.0,1688.3 1322.0,1689.2 1323.0,1689.5 1324.0,1691.4 1325.0,1691.2 1326.0,1690.7 1327.0,1690.2 1328.0,1690.6 1329.0,1689.8 1330.0,1691.3 1331.0,1691.3 1332.0,1690.9 1333.0,1691.6 1334.0,1690.4 1335.0,1689.8 1336.0,1691.4 1337.0,1689.1 1338.0,1689.5 1339.0,1689.7 1340.0,1690.3 1341.0,1691.0 1342.0,1688.7 1343.0,1691.0 1344.0,1692.5 1345.0,1692.3 1346.0,1691.9 1347.0,1690.7 1348.0,1690.9 1349.0,1689.5 1350.0,1688.4 1351.0,1689.9 1352.0,1690.6 1353.0,1690.1 1354.0,1689.9 1355.0,1690.5 1356.0,1689.8 1357.0,1690.0 1358.0,1688.8 1359.0,1687.0 1360.0,1688.8 1361.0,1689.2 1362.0,1688.2 1363.0,1689.4 1364.0,1690.1 1365.0,1687.6 1366.0,1691.9 1367.0,1690.4 1368.0,1689.4 1369.0,1688.2 1370.0,1687.5 1371.0,1691.1 1372.0,1688.0 1373.0,1688.8 1374.0,1687.9 1375.0,1688.5 1376.0,1689.7 1377.0,1688.8 1378.0,1689.9 1379.0,1690.1 1380.0,1690.9 1381.0,1691.3 1382.0,1690.5 1383.0,1691.7 1384.0,1692.7 1385.0,1689.9 1386.0,1690.0 1387.0,1689.3 1388.0,1689.5 1389.0,1685.9 1390.0,1686.0 1391.0,1685.0 1392.0,1687.5 1393.0,1686.8 1394.0,1685.8 1395.0,1687.0 1396.0,1685.7 1397.0,1687.2 1398.0,1688.8 1399.0,1686.1 1400.0,1689.2 1401.0,1686.8 1402.0,1687.9 1403.0,1686.9 1404.0,1686.9 1405.0,1686.8 1406.0,1687.3 1407.0,1688.1 1408.0,1687.5 1409.0,1688.4 1410.0,1688.5 1411.0,1689.2 1412.0,1688.3 1413.0,1689.3 1414.0,1688.3 1415.0,1687.1 1416.0,1686.0 1417.0,1684.9 1418.0,1684.5 1419.0,1684.4 1420.0,1685.0 1421.0,1686.7 1422.0,1686.6 1423.0,1685.4 1424.0,1686.0 1425.0,1689.6 1426.0,1688.3 1427.0,1687.6 1428.0,1688.5 1429.0,1687.1 1430.0,1687.0 1431.0,1686.3 1432.0,1689.0 1433.0,1688.2 1434.0,1691.0 1435.0,1689.6 1436.0,1689.3 1437.0,1690.0 1438.0,1688.1 1439.0,1689.3 1440.0,1688.4 1441.0,1689.3 1442.0,1691.7 1443.0,1688.0 1444.0,1688.2 1445.0,1686.7 1446.0,1688.6 1447.0,1688.4 1448.0,1689.3 1449.0,1689.5 1450.0,1691.0 1451.0,1692.0 1452.0,1693.0 1453.0,1691.9 1454.0,1692.8 1455.0,1691.7 1456.0,1692.9 1457.0,1692.5 1458.0,1691.8 1459.0,1692.6 1460.0,1690.0 1461.0,1691.7 1462.0,1690.0 1463.0,1690.1 1464.0,1689.7 1465.0,1688.9 1466.0,1689.1 1467.0,1690.3 1468.0,1689.4 1469.0,1689.4 1470.0,1688.6 1471.0,1689.5 1472.0,1689.4 1473.0,1688.1 1474.0,1691.0 1475.0,1690.4 1476.0,1692.9 1477.0,1688.7 1478.0,1689.3 1479.0,1689.9 1480.0,1691.4 1481.0,1689.4 1482.0,1689.0 1483.0,1690.3 1484.0,1692.5 1485.0,1691.9 1486.0,1690.3 1487.0,1691.1 1488.0,1691.3 1489.0,1692.3 1490.0,1692.3 1491.0,1691.3 1492.0,1691.7 1493.0,1690.5 1494.0,1690.1 1495.0,1687.7 1496.0,1688.4 1497.0,1690.0 1498.0,1688.7 1499.0,1688.2 1500.0,1687.1 1501.0,1688.0 1502.0,1688.0 1503.0,1688.7 1504.0,1688.3 1505.0,1688.6 1506.0,1688.9 1507.0,1694.1 1508.0,1690.6 1509.0,1688.9 1510.0,1689.2 1511.0,1687.9 1512.0,1688.1 1513.0,1689.3 1514.0,1687.6 1515.0,1688.9 1516.0,1687.1 1517.0,1689.5 1518.0,1689.1 1519.0,1691.5 1520.0,1690.8 1521.0,1688.8 1522.0,1689.5 1523.0,1688.5 1524.0,1689.3 1525.0,1689.6 1526.0,1689.3 1527.0,1689.5 1528.0,1688.9 1529.0,1688.8 1530.0,1687.9 1531.0,1687.8 1532.0,1686.9 1533.0,1687.9 1534.0,1685.1 1535.0,1688.6 1536.0,1687.9 1537.0,1689.0 1538.0,1689.3 1539.0,1688.3 1540.0,1689.0 1541.0,1688.7 1542.0,1689.1 1543.0,1689.1 1544.0,1688.4 1545.0,1689.0 1546.0,1689.8 1547.0,1689.1 1548.0,1690.9 1549.0,1691.6 1550.0,1689.9 1551.0,1688.8 1552.0,1688.8 1553.0,1689.2 1554.0,1689.1 1555.0,1686.8 1556.0,1688.2 1557.0,1687.9 1558.0,1687.7 1559.0,1688.2 1560.0,1688.4 1561.0,1687.6 1562.0,1686.9 1563.0,1687.3 1564.0,1686.5 1565.0,1688.8 1566.0,1686.3 1567.0,1688.3 1568.0,1688.2 1569.0,1688.6 1570.0,1688.2 1571.0,1689.0 1572.0,1686.9 1573.0,1689.5 1574.0,1690.0 1575.0,1690.6 1576.0,1690.4 1577.0,1691.5 1578.0,1691.9 1579.0,1691.0 1580.0,1693.2 1581.0,1692.7 1582.0,1690.1 1583.0,1690.4 1584.0,1690.6 1585.0,1691.8 1586.0,1688.0 1587.0,1690.3 1588.0,1690.8 1589.0,1689.4 1590.0,1690.3 1591.0,1690.6 1592.0,1688.0 1593.0,1689.8 1594.0,1688.9 1595.0,1688.2 1596.0,1687.9 1597.0,1685.2 1598.0,1686.3 1599.0,1687.1 1600.0,1683.5 1601.0,1685.2 1602.0,1686.2 1603.0,1685.4 1604.0,1684.6 1605.0,1686.4 1606.0,1686.3 1607.0,1685.6 1608.0,1686.5 1609.0,1687.4 1610.0,1687.9 1611.0,1688.0 1612.0,1687.3 1613.0,1688.5 1614.0,1687.3 1615.0,1688.5 1616.0,1689.5 1617.0,1689.6 1618.0,1688.8 1619.0,1688.3 1620.0,1686.3 1621.0,1686.4 1622.0,1686.1 1623.0,1686.1 1624.0,1685.6 1625.0,1687.5 1626.0,1686.4 1627.0,1685.0 1628.0,1685.7 1629.0,1686.5 1630.0,1687.3 1631.0,1688.3 1632.0,1687.9 1633.0,1691.1 1634.0,1691.3 1635.0,1691.5 1636.0,1691.1 1637.0,1691.2 1638.0,1690.0 1639.0,1687.9 1640.0,1691.8 1641.0,1687.5 1642.0,1685.8 1643.0,1684.7 1644.0,1687.6 1645.0,1686.3 1646.0,1687.7 1647.0,1688.0 1648.0,1690.4 1649.0,1688.1 1650.0,1690.2 1651.0,1687.3 1652.0,1690.0 1653.0,1688.9 1654.0,1687.7 1655.0,1690.0 1656.0,1690.5 1657.0,1690.1 1658.0,1692.5 1659.0,1692.9 1660.0,1693.8 1661.0,1692.5 1662.0,1692.8 1663.0,1692.2 1664.0,1692.5 1665.0,1691.5 1666.0,1690.6 1667.0,1692.1 1668.0,1690.2 1669.0,1691.0 1670.0,1690.2 1671.0,1688.3 1672.0,1686.9 1673.0,1688.3 1674.0,1688.7 1675.0,1689.2 1676.0,1688.9 1677.0,1689.2 1678.0,1688.6 1679.0,1688.8 1680.0,1692.3 1681.0,1691.0 1682.0,1689.4 1683.0,1691.1 1684.0,1691.4 1685.0,1689.8 1686.0,1690.9 1687.0,1691.4 1688.0,1689.2 1689.0,1691.5 1690.0,1689.7 1691.0,1689.7 1692.0,1689.7 1693.0,1686.0 1694.0,1690.8 1695.0,1689.0 1696.0,1689.2 1697.0,1688.3 1698.0,1687.6 1699.0,1687.3 1700.0,1689.0 1701.0,1689.0 1702.0,1689.1 1703.0,1687.2 1704.0,1689.4 1705.0,1691.7 1706.0,1690.7 1707.0,1690.1 1708.0,1691.4 1709.0,1690.9 1710.0,1690.9 1711.0,1691.5 1712.0,1692.6 1713.0,1691.4 1714.0,1691.5 1715.0,1690.4 1716.0,1690.8 1717.0,1690.7 1718.0,1689.6 1719.0,1688.8 1720.0,1687.3 1721.0,1689.1 1722.0,1687.1 1723.0,1688.5 1724.0,1687.7 1725.0,1688.7 1726.0,1689.0 1727.0,1688.1 1728.0,1686.1 1729.0,1687.0 1730.0,1688.1 1731.0,1688.3 1732.0,1689.5 1733.0,1691.1 1734.0,1690.2 1735.0,1689.8 1736.0,1691.2 1737.0,1691.6 1738.0,1691.2 1739.0,1690.8 1740.0,1688.8 1741.0,1690.9 1742.0,1691.1 1743.0,1688.9 1744.0,1689.3 1745.0,1688.6 1746.0,1687.6 1747.0,1687.2 1748.0,1688.1 1749.0,1684.1 1750.0,1686.4 1751.0,1687.2 1752.0,1686.9 1753.0,1685.9 1754.0,1685.3 1755.0,1684.8 1756.0,1687.2 1757.0,1685.6 1758.0,1688.8 1759.0,1688.3 1760.0,1690.7 1761.0,1689.9 1762.0,1689.3 1763.0,1690.4 1764.0,1691.4 1765.0,1688.6 1766.0,1688.7 1767.0,1690.2 1768.0,1689.0 1769.0,1687.6 1770.0,1687.8 1771.0,1687.8 1772.0,1686.8 1773.0,1687.7 1774.0,1689.9 1775.0,1689.6 1776.0,1690.7 1777.0,1690.0 1778.0,1689.4 1779.0,1689.7 1780.0,1688.2 1781.0,1688.5 1782.0,1687.2 1783.0,1686.6 1784.0,1686.1 1785.0,1685.1 1786.0,1686.8 1787.0,1684.5 1788.0,1686.1 1789.0,1686.1 1790.0,1687.5 1791.0,1687.2 1792.0,1688.0 1793.0,1688.7 1794.0,1690.4 1795.0,1689.2 1796.0,1689.6 1797.0,1689.8 1798.0,1689.4 1799.0,1689.8 1800.0,1690.0 1801.0,1689.7 1802.0,1689.7 1803.0,1691.0 1804.0,1688.5 1805.0,1690.7 1806.0,1688.6 1807.0,1689.1 1808.0,1688.6 1809.0,1688.3 1810.0,1688.7 1811.0,1689.3 1812.0,1687.5 1813.0,1687.2 1814.0,1686.4 1815.0,1688.1 1816.0,1687.1 1817.0,1686.9 1818.0,1686.0 1819.0,1686.4 1820.0,1686.9 1821.0,1685.8 1822.0,1687.7 1823.0,1690.2 1824.0,1690.1 1825.0,1691.0 1826.0,1690.5 1827.0,1693.0 1828.0,1692.6 1829.0,1691.4 1830.0,1691.5 1831.0,1689.3 1832.0,1689.3 1833.0,1691.7 1834.0,1690.2 1835.0,1689.4 1836.0,1688.5 1837.0,1689.5 1838.0,1691.4 1839.0,1690.8 1840.0,1692.3 1841.0,1693.1 1842.0,1692.8 1843.0,1693.4 1844.0,1691.9 1845.0,1692.7 1846.0,1693.0 1847.0,1693.2 1848.0,1693.4 1849.0,1691.6 1850.0,1691.8 1851.0,1690.7 1852.0,1689.6 1853.0,1689.3 1854.0,1689.8 1855.0,1690.0 1856.0,1689.7 1857.0,1692.8 1858.0,1690.8 1859.0,1691.5 1860.0,1690.7 1861.0,1693.0 1862.0,1688.7 1863.0,1689.8 1864.0,1689.8 1865.0,1690.2 1866.0,1687.8 1867.0,1687.9 1868.0,1690.1 1869.0,1689.7 1870.0,1688.7 1871.0,1689.8 1872.0,1691.7 1873.0,1690.8 1874.0,1689.5 1875.0,1691.1 1876.0,1690.7 1877.0,1691.6 1878.0,1691.6 1879.0,1690.5 1880.0,1692.3 1881.0,1691.5 1882.0,1689.8 1883.0,1689.2 1884.0,1689.0 1885.0,1689.5 1886.0,1690.0 1887.0,1688.3 1888.0,1688.5 1889.0,1689.8 1890.0,1689.7 1891.0,1690.1 1892.0,1691.3 1893.0,1690.8 1894.0,1691.3 1895.0,1692.1 1896.0,1690.8 1897.0,1691.4 1898.0,1691.1 1899.0,1689.0 1900.0,1688.0 1901.0,1686.6 1902.0,1686.5 1903.0,1686.3 1904.0,1687.1 1905.0,1685.5 1906.0,1685.4 1907.0,1686.8 1908.0,1687.9 1909.0,1686.4 1910.0,1687.8 1911.0,1687.1 1912.0,1686.5 1913.0,1687.2 1914.0,1687.8 1915.0,1685.9 1916.0,1685.7 1917.0,1687.8 1918.0,1689.1 1919.0,1689.3 1920.0,1689.3 1921.0,1690.4 1922.0,1690.4 1923.0,1689.2 1924.0,1688.5 1925.0,1689.8 1926.0,1690.9 1927.0,1691.7 1928.0,1690.9 1929.0,1691.0 1930.0,1689.5 1931.0,1690.0 1932.0,1689.9 1933.0,1688.8 1934.0,1688.9 1935.0,1688.3 1936.0,1688.7 1937.0,1690.2 1938.0,1689.5 1939.0,1691.4 1940.0,1692.8 1941.0,1691.7 1942.0,1691.8 1943.0,1691.3 1944.0,1690.7 1945.0,1691.0 1946.0,1690.2 1947.0,1690.7 1948.0,1690.1 1949.0,1689.2 1950.0,1689.7 1951.0,1690.0 1952.0,1689.4 1953.0,1688.2 1954.0,1688.2 1955.0,1687.3 1956.0,1688.0 1957.0,1688.8 1958.0,1689.1 1959.0,1689.7 1960.0,1687.6 1961.0,1690.2 1962.0,1689.5 1963.0,1690.7 1964.0,1689.8 1965.0,1691.1 1966.0,1690.3 1967.0,1689.6 1968.0,1690.6 1969.0,1689.7 1970.0,1689.7 1971.0,1689.6 1972.0,1689.4 1973.0,1689.1 1974.0,1689.3 1975.0,1687.6 1976.0,1690.1 1977.0,1691.0 1978.0,1690.0 1979.0,1690.4 1980.0,1688.9 1981.0,1690.2 1982.0,1688.4 1983.0,1688.4 1984.0,1689.7 1985.0,1686.5 1986.0,1686.8 1987.0,1688.8 1988.0,1687.8 1989.0,1689.0 1990.0,1688.8 1991.0,1689.1 1992.0,1690.6 1993.0,1690.0 1994.0,1690.3 1995.0,1690.8 1996.0,1689.3 1997.0,1688.5 1998.0,1687.8 1999.0,1689.6 2000.0,1690.8 2001.0,1689.7 2002.0,1688.5 2003.0,1688.7 2004.0,1688.2 2005.0,1688.8 2006.0,1689.3 2007.0,1688.1 2008.0,1687.7 2009.0,1684.9 2010.0,1687.5 2011.0,1686.2 2012.0,1687.0 2013.0,1687.6 2014.0,1687.6 2015.0,1688.3 2016.0,1689.0 2017.0,1686.0 2018.0,1686.4 2019.0,1688.8 2020.0,1687.6 2021.0,1686.3 2022.0,1686.5 2023.0,1686.7 2024.0,1688.2 2025.0,1687.1 2026.0,1688.0 2027.0,1687.6 2028.0,1690.3 2029.0,1689.8 2030.0,1689.2 2031.0,1688.4 2032.0,1689.3 2033.0,1689.9 2034.0,1691.0 2035.0,1690.8 2036.0,1689.2 2037.0,1689.5 2038.0,1689.5 2039.0,1691.0 2040.0,1690.4 2041.0,1691.7 2042.0,1691.6 2043.0,1691.7 2044.0,1690.5 2045.0,1692.0 2046.0,1690.6 2047.0,1689.5 2048.0,1690.2 2049.0,1690.1 2050.0,1689.8 2051.0,1690.3 2052.0,1690.3 2053.0,1691.0 2054.0,1689.0 2055.0,1690.0 2056.0,1686.9 2057.0,1690.4 2058.0,1688.8 2059.0,1689.7 2060.0,1688.4 2061.0,1689.0 2062.0,1689.1 2063.0,1688.3 2064.0,1688.6 2065.0,1687.0 2066.0,1690.1 2067.0,1689.7 2068.0,1689.8 2069.0,1690.8 2070.0,1689.8 2071.0,1689.3 2072.0,1687.2 2073.0,1688.6 2074.0,1688.2 2075.0,1689.3 2076.0,1689.0 2077.0,1688.4 2078.0,1689.7 2079.0,1691.8 2080.0,1689.9 2081.0,1691.8 2082.0,1690.7 2083.0,1689.2 2084.0,1691.2 2085.0,1692.5 2086.0,1690.8 2087.0,1689.3 2088.0,1689.7 2089.0,1688.9 2090.0,1691.7 2091.0,1689.6 2092.0,1687.1 2093.0,1689.6 2094.0,1689.2 2095.0,1688.0 2096.0,1688.3 2097.0,1688.8 2098.0,1690.4 2099.0,1688.8 2100.0,1688.8 2101.0,1690.4 2102.0,1689.3 2103.0,1689.1 2104.0,1690.0 2105.0,1691.0 2106.0,1690.7 2107.0,1690.4 2108.0,1692.0 2109.0,1689.0 2110.0,1689.5 2111.0,1689.7 2112.0,1689.8 2113.0,1690.2 2114.0,1690.5 2115.0,1690.3 2116.0,1690.6 2117.0,1691.0 2118.0,1689.8 2119.0,1689.3 2120.0,1691.4 2121.0,1692.3 2122.0,1691.4 2123.0,1690.8 2124.0,1691.2 2125.0,1689.9 2126.0,1688.4 2127.0,1688.4 2128.0,1688.7 2129.0,1688.3 2130.0,1688.0 2131.0,1687.3 2132.0,1688.6 2133.0,1689.8 2134.0,1689.0 2135.0,1689.2 2136.0,1690.8 2137.0,1689.8 2138.0,1688.6 2139.0,1688.9 2140.0,1689.8 2141.0,1688.6 2142.0,1688.6 2143.0,1688.3 2144.0,1688.1 2145.0,1689.2 2146.0,1688.5 2147.0,1690.1 2148.0,1690.2 2149.0,1690.5 2150.0,1691.3 2151.0,1690.7 2152.0,1690.0 2153.0,1689.9 2154.0,1690.6 2155.0,1689.8 2156.0,1688.9 2157.0,1688.7 2158.0,1686.9 2159.0,1686.9 2160.0,1688.4 2161.0,1686.4 2162.0,1688.3 2163.0,1687.2 2164.0,1686.5 2165.0,1688.4 2166.0,1688.5 2167.0,1689.3 2168.0,1690.4 2169.0,1686.8 2170.0,1689.1 2171.0,1690.4 2172.0,1689.2 2173.0,1689.3 2174.0,1689.2 2175.0,1689.0 2176.0,1687.9 2177.0,1689.3 2178.0,1690.6 2179.0,1688.4 2180.0,1689.2 2181.0,1690.2 2182.0,1691.7 2183.0,1690.2 2184.0,1691.7 2185.0,1690.1 2186.0,1690.4 2187.0,1689.5 2188.0,1689.2 2189.0,1688.0 2190.0,1686.9 2191.0,1685.5 2192.0,1687.3 2193.0,1685.3 2194.0,1686.2 2195.0,1688.5 2196.0,1687.7 2197.0,1688.1 2198.0,1688.6 2199.0,1689.1 2200.0,1689.1 2201.0,1690.0 2202.0,1689.9 2203.0,1689.1 2204.0,1691.0 2205.0,1690.2 2206.0,1689.7 2207.0,1690.0 2208.0,1690.7 2209.0,1690.7 2210.0,1689.8 2211.0,1689.3 2212.0,1691.6 2213.0,1691.1 2214.0,1691.7 2215.0,1690.6 2216.0,1691.0 2217.0,1688.6 2218.0,1689.6 2219.0,1686.6 2220.0,1688.4 2221.0,1685.9 2222.0,1684.0 2223.0,1686.6 2224.0,1686.5 2225.0,1687.4 2226.0,1686.2 2227.0,1688.5 2228.0,1690.3 2229.0,1690.2 2230.0,1691.5 2231.0,1691.7 2232.0,1692.1 2233.0,1693.7 2234.0,1692.1 2235.0,1692.5 2236.0,1692.4 2237.0,1691.3 2238.0,1691.0 2239.0,1687.9 2240.0,1689.5 2241.0,1687.4 2242.0,1688.0 2243.0,1687.9 2244.0,1688.8 2245.0,1688.7 2246.0,1688.8 2247.0,1690.0 2248.0,1691.3 2249.0,1689.2 2250.0,1689.1 2251.0,1689.0 2252.0,1689.3 2253.0,1688.1 2254.0,1688.5 2255.0,1689.4 2256.0,1688.5 2257.0,1688.3 2258.0,1689.2 2259.0,1689.1 2260.0,1692.5 2261.0,1692.3 2262.0,1691.8 2263.0,1691.1 2264.0,1692.3 2265.0,1692.1 2266.0,1692.0 2267.0,1690.7 2268.0,1691.6 2269.0,1691.1 2270.0,1690.6 2271.0,1689.7 2272.0,1690.6 2273.0,1689.4 2274.0,1688.1 2275.0,1689.0 2276.0,1690.5 2277.0,1692.5 2278.0,1689.2 2279.0,1690.2 2280.0,1691.1 2281.0,1691.7 2282.0,1690.9 2283.0,1691.7 2284.0,1691.2 2285.0,1690.1 2286.0,1692.1 2287.0,1691.3 2288.0,1691.7 2289.0,1691.3 2290.0,1690.8 2291.0,1690.9 2292.0,1691.2 2293.0,1689.4 2294.0,1691.0 2295.0,1691.2 2296.0,1687.3 2297.0,1689.7 2298.0,1688.8 2299.0,1689.4 2300.0,1690.1 2301.0,1690.5 2302.0,1692.0 2303.0,1691.9 2304.0,1693.6 2305.0,1693.0 2306.0,1691.8 2307.0,1692.8 2308.0,1692.8 2309.0,1687.5 2310.0,1691.3 2311.0,1693.4 2312.0,1691.3 2313.0,1690.7 2314.0,1688.7 2315.0,1689.6 2316.0,1688.4 2317.0,1688.9 2318.0,1689.2 2319.0,1687.6 2320.0,1687.8 2321.0,1689.6 2322.0,1689.9 2323.0,1689.5 2324.0,1689.9 2325.0,1689.2 2326.0,1689.5 2327.0,1689.5 2328.0,1687.9 2329.0,1690.0 2330.0,1690.0 2331.0,1688.7 2332.0,1689.1 2333.0,1690.0 2334.0,1690.7 2335.0,1690.4 2336.0,1690.0 2337.0,1690.3 2338.0,1689.4 2339.0,1687.0 2340.0,1687.3 2341.0,1686.6 2342.0,1686.9 2343.0,1685.2 2344.0,1685.6 2345.0,1686.1 2346.0,1686.2 2347.0,1688.5 2348.0,1684.8 2349.0,1688.2 2350.0,1688.4 2351.0,1689.2 2352.0,1690.0 2353.0,1689.4 2354.0,1688.4 2355.0,1689.3 2356.0,1691.2 2357.0,1692.2 2358.0,1691.9 2359.0,1693.2 2360.0,1692.1 2361.0,1691.0 2362.0,1691.8 2363.0,1691.8 2364.0,1692.1 2365.0,1691.7 2366.0,1690.0 2367.0,1691.2 2368.0,1689.6 2369.0,1690.1 2370.0,1690.5 2371.0,1690.7 2372.0,1690.7 2373.0,1689.9 2374.0,1690.1 2375.0,1690.6 2376.0,1689.2 2377.0,1688.4 2378.0,1687.2 2379.0,1689.3 2380.0,1688.8 2381.0,1689.8 2382.0,1689.3 2383.0,1690.0 2384.0,1690.2 2385.0,1691.2 2386.0,1689.7 2387.0,1689.3 2388.0,1690.2 2389.0,1690.8 2390.0,1689.5 2391.0,1690.9 2392.0,1690.8 2393.0,1691.5 2394.0,1690.0 2395.0,1691.8 2396.0,1691.6 2397.0,1691.8 2398.0,1690.8 2399.0,1690.7 2400.0,1688.5 2401.0,1689.6 2402.0,1692.2 2403.0,1689.1 2404.0,1689.0 2405.0,1689.5 2406.0,1690.7 2407.0,1689.6 2408.0,1688.7 2409.0,1690.1 2410.0,1690.6 2411.0,1691.3 2412.0,1691.8 2413.0,1690.4 2414.0,1690.0 2415.0,1691.3 2416.0,1691.4 2417.0,1689.8 2418.0,1691.1 2419.0,1690.4 2420.0,1690.1 2421.0,1690.2 2422.0,1689.2 2423.0,1688.0 2424.0,1687.7 2425.0,1687.9 2426.0,1688.7 2427.0,1689.1 2428.0,1690.0 2429.0,1689.3 2430.0,1690.5 2431.0,1690.4 2432.0,1690.1 2433.0,1692.6 2434.0,1691.8 2435.0,1693.3 2436.0,1692.3 2437.0,1691.2 2438.0,1690.9 2439.0,1689.7 2440.0,1692.4"/>
</g>
<g id="boxes">
<line class="bx" x1="227.8" y1="98.3" x2="227.8" y2="1128.4" stroke="#ee0d0d" stroke-width="6.0" stroke-dasharray="19.48 3.71" stroke-dashoffset="4.53"/>
<line class="bx" x1="973.7" y1="98.3" x2="973.7" y2="1128.4" stroke="#ee0d0d" stroke-width="6.0" stroke-dasharray="19.48 3.71" stroke-dashoffset="2.93"/>
<line class="bx" x1="230.8" y1="95.3" x2="970.7" y2="95.3" stroke="#ee0d0d" stroke-width="6.0" stroke-dasharray="18.32 4.87" stroke-dashoffset="21.25"/>
<line class="bx" x1="230.8" y1="1131.4" x2="970.7" y2="1131.4" stroke="#ee0d0d" stroke-width="6.0" stroke-dasharray="18.32 4.87" stroke-dashoffset="1.76"/>
<rect x="224.80" y="92.30" width="6.0" height="6.0" fill="#ee0d0d"/>
<rect x="970.70" y="92.30" width="6.0" height="6.0" fill="#ee0d0d"/>
<rect x="970.70" y="1128.40" width="6.0" height="6.0" fill="#ee0d0d"/>
<rect x="224.80" y="1128.40" width="6.0" height="6.0" fill="#ee0d0d"/>
<line class="bx" x1="1022.2" y1="67.65" x2="1022.2" y2="1189.95" stroke="#ee0d0d" stroke-width="6.5" stroke-dasharray="21.23 4.04" stroke-dashoffset="5.70"/>
<line class="bx" x1="1836.0" y1="67.65" x2="1836.0" y2="1189.95" stroke="#ee0d0d" stroke-width="6.5" stroke-dasharray="21.23 4.04" stroke-dashoffset="3.30"/>
<line class="bx" x1="1025.45" y1="64.4" x2="1832.75" y2="64.4" stroke="#ee0d0d" stroke-width="6.5" stroke-dasharray="19.96 5.31" stroke-dashoffset="23.04"/>
<line class="bx" x1="1025.45" y1="1193.2" x2="1832.75" y2="1193.2" stroke="#ee0d0d" stroke-width="6.5" stroke-dasharray="19.96 5.31" stroke-dashoffset="1.87"/>
<rect x="1018.95" y="61.15" width="6.5" height="6.5" fill="#ee0d0d"/>
<rect x="1832.75" y="61.15" width="6.5" height="6.5" fill="#ee0d0d"/>
<rect x="1832.75" y="1189.95" width="6.5" height="6.5" fill="#ee0d0d"/>
<rect x="1018.95" y="1189.95" width="6.5" height="6.5" fill="#ee0d0d"/>
</g>
<g id="box3">
<line class="bx" x1="1859.8" y1="69.8" x2="1859.8" y2="1503.3" stroke="#fa0606" stroke-width="10.6" stroke-dasharray="28.64 6.50" stroke-dashoffset="28.49"/>
<line class="bx" x1="2166.0" y1="69.8" x2="2166.0" y2="1503.3" stroke="#fa0606" stroke-width="10.6" stroke-dasharray="28.64 6.50" stroke-dashoffset="1.29"/>
<line class="bx" x1="1865.1" y1="64.5" x2="2160.7" y2="64.5" stroke="#fa0606" stroke-width="10.6" stroke-dasharray="25.65 9.49" stroke-dashoffset="9.70"/>
<line class="bx" x1="1865.1" y1="1508.6" x2="2160.7" y2="1508.6" stroke="#fa0606" stroke-width="10.6" stroke-dasharray="25.65 9.49" stroke-dashoffset="9.30"/>
<rect x="1854.50" y="59.20" width="10.6" height="10.6" fill="#fa0606"/>
<rect x="2160.70" y="59.20" width="10.6" height="10.6" fill="#fa0606"/>
<rect x="1854.50" y="1503.30" width="10.6" height="10.6" fill="#fa0606"/>
</g>
<g id="axes" stroke="#000" stroke-width="6.2" fill="none">
<rect x="206.4" y="27.4" width="2256.5" height="1772.8" stroke-linejoin="miter"/>
<line x1="357.6" y1="1800.2" x2="357.6" y2="1836.0"/>
<line x1="538.5" y1="1800.2" x2="538.5" y2="1818.3"/>
<line x1="719.5" y1="1800.2" x2="719.5" y2="1836.0"/>
<line x1="900.4" y1="1800.2" x2="900.4" y2="1818.3"/>
<line x1="1081.4" y1="1800.2" x2="1081.4" y2="1836.0"/>
<line x1="1262.3" y1="1800.2" x2="1262.3" y2="1818.3"/>
<line x1="1443.3" y1="1800.2" x2="1443.3" y2="1836.0"/>
<line x1="1624.2" y1="1800.2" x2="1624.2" y2="1818.3"/>
<line x1="1805.2" y1="1800.2" x2="1805.2" y2="1836.0"/>
<line x1="1986.1" y1="1800.2" x2="1986.1" y2="1818.3"/>
<line x1="2167.1" y1="1800.2" x2="2167.1" y2="1836.0"/>
<line x1="2348.0" y1="1800.2" x2="2348.0" y2="1818.3"/>
<line x1="206.4" y1="1800.2" x2="206.4" y2="1805.2"/>
</g>
<g id="ticklabels">
<text class="a" x="294.8" y="1914.6" font-size="74" textLength="121.6" lengthAdjust="spacingAndGlyphs">200</text>
<text class="a" x="656.7" y="1914.6" font-size="74" textLength="121.6" lengthAdjust="spacingAndGlyphs">400</text>
<text class="a" x="1018.6" y="1914.6" font-size="74" textLength="121.6" lengthAdjust="spacingAndGlyphs">600</text>
<text class="a" x="1380.5" y="1914.6" font-size="74" textLength="121.6" lengthAdjust="spacingAndGlyphs">800</text>
<text class="a" x="1722.1" y="1914.6" font-size="74" textLength="162.2" lengthAdjust="spacingAndGlyphs">1000</text>
<rect x="1726.63" y="1908.92" width="13.79" height="7.28" fill="#fdfdfd"/>
<rect x="1746.86" y="1908.92" width="13.22" height="7.28" fill="#fdfdfd"/>
<text class="a" x="2084.0" y="1914.6" font-size="74" textLength="162.2" lengthAdjust="spacingAndGlyphs">1200</text>
<rect x="2088.52" y="1908.92" width="13.79" height="7.28" fill="#fdfdfd"/>
<rect x="2108.75" y="1908.92" width="13.22" height="7.28" fill="#fdfdfd"/>
</g>
<g id="titles">
<text><tspan class="a" x="950.6" y="2066.7" font-size="92" textLength="677.8" lengthAdjust="spacingAndGlyphs">Raman Shift (cm</tspan><tspan class="a" x="1624.4" y="2033.3" font-size="60" textLength="34.1" lengthAdjust="spacingAndGlyphs">−</tspan><tspan class="a" x="1649.1" y="2030.3" font-size="65.0" textLength="39.0" lengthAdjust="spacingAndGlyphs">1</tspan><tspan class="a" x="1690.5" y="2066.7" font-size="92" textLength="26.4" lengthAdjust="spacingAndGlyphs">)</tspan></text>
<rect x="1653.49" y="2025.29" width="13.31" height="6.61" fill="#fdfdfd"/>
<rect x="1673.00" y="2025.29" width="12.76" height="6.61" fill="#fdfdfd"/>
<rect x="900" y="2072.4" width="900" height="20" fill="#fdfdfd"/>
<text class="a" transform="rotate(-90)" x="-1200.4" y="93.9" font-size="93" textLength="577.8" lengthAdjust="spacingAndGlyphs">Intensity (a.u.)</text>
</g>
<g id="annotations">
<text><tspan class="c" x="499.9" y="172.9" font-size="77" textLength="47.4" lengthAdjust="spacingAndGlyphs">V</tspan><tspan class="s" x="541.0" y="187.4" font-size="54.5" textLength="31.0" lengthAdjust="spacingAndGlyphs">2</tspan><tspan class="c" x="578.1" y="172.9" font-size="77" textLength="50.9" lengthAdjust="spacingAndGlyphs">O</tspan><tspan class="s" x="631.2" y="187.4" font-size="54.5" textLength="29.5" lengthAdjust="spacingAndGlyphs">5</tspan></text>
<text class="b" x="306.2" y="257.6" font-size="55" textLength="596.2" lengthAdjust="spacingAndGlyphs">(180, 235, 325, 345, 448</text>
<text class="b" x="489.5" y="328.3" font-size="55" textLength="230.0" lengthAdjust="spacingAndGlyphs">520, 567)</text>
<text class="b" x="1172.5" y="150.6" font-size="67.6" textLength="455.4" lengthAdjust="spacingAndGlyphs">Polyvanadates</text>
<text class="b" x="1120.2" y="228.5" font-size="55" textLength="560.5" lengthAdjust="spacingAndGlyphs">(V=O, V-O-V &amp; V-O-Al)</text>
<text class="b" x="1286.6" y="301.4" font-size="55" textLength="213.5" lengthAdjust="spacingAndGlyphs">650–945</text>
<text class="b" x="1874.9" y="153.8" font-size="67.6" textLength="395.0" lengthAdjust="spacingAndGlyphs">Movanadate</text>
<text class="b" x="2016.1" y="230.5" font-size="55" textLength="144.1" lengthAdjust="spacingAndGlyphs">(V=O)</text>
<text class="b" x="1946.3" y="301.4" font-size="55" textLength="274.7" lengthAdjust="spacingAndGlyphs">1043–1100</text>
<text><tspan class="c" x="1387.5" y="551.4" font-size="77" textLength="152.5" lengthAdjust="spacingAndGlyphs">Bulk</tspan><tspan font-size="1"> </tspan><tspan class="c" x="1558.5" y="551.4" font-size="77" textLength="47.9" lengthAdjust="spacingAndGlyphs">V</tspan><tspan class="s" x="1600.8" y="566.7" font-size="54.5" textLength="29.9" lengthAdjust="spacingAndGlyphs">2</tspan><tspan class="c" x="1637.8" y="551.4" font-size="77" textLength="51.9" lengthAdjust="spacingAndGlyphs">O</tspan><tspan class="s" x="1691.5" y="566.7" font-size="54.5" textLength="29.3" lengthAdjust="spacingAndGlyphs">5</tspan></text>
<text><tspan class="b" x="1024.1" y="917.7" font-size="67.6" textLength="330.2" lengthAdjust="spacingAndGlyphs">10V/MgO-</tspan><tspan class="g" x="1352.7" y="917.7" font-size="77" textLength="38.5" lengthAdjust="spacingAndGlyphs">γ</tspan><tspan class="c" x="1394.2" y="917.7" font-size="77" textLength="70.7" lengthAdjust="spacingAndGlyphs">Al</tspan><tspan class="s" x="1468.1" y="932.6" font-size="54.5" textLength="30.2" lengthAdjust="spacingAndGlyphs">2</tspan><tspan class="c" x="1506.0" y="917.7" font-size="77" textLength="50.9" lengthAdjust="spacingAndGlyphs">O</tspan><tspan class="s" x="1558.7" y="932.6" font-size="54.5" textLength="29.0" lengthAdjust="spacingAndGlyphs">3</tspan></text>
<text><tspan class="b" x="1219.2" y="1418.6" font-size="67.6" textLength="287.9" lengthAdjust="spacingAndGlyphs">5V/MgO-</tspan><tspan class="g" x="1506.8" y="1418.6" font-size="77" textLength="40.0" lengthAdjust="spacingAndGlyphs">γ</tspan><tspan class="c" x="1550.8" y="1418.6" font-size="77" textLength="71.2" lengthAdjust="spacingAndGlyphs">Al</tspan><tspan class="s" x="1624.6" y="1433.7" font-size="54.5" textLength="30.4" lengthAdjust="spacingAndGlyphs">2</tspan><tspan class="c" x="1662.3" y="1418.6" font-size="77" textLength="50.9" lengthAdjust="spacingAndGlyphs">O</tspan><tspan class="s" x="1714.9" y="1433.7" font-size="54.5" textLength="29.1" lengthAdjust="spacingAndGlyphs">3</tspan></text>
<text><tspan class="b" x="1124.8" y="1534.3" font-size="67.6" textLength="176.6" lengthAdjust="spacingAndGlyphs">MgO-</tspan><tspan class="g" x="1301.2" y="1534.3" font-size="77" textLength="38.6" lengthAdjust="spacingAndGlyphs">γ</tspan><tspan class="c" x="1344.2" y="1534.3" font-size="77" textLength="70.7" lengthAdjust="spacingAndGlyphs">Al</tspan><tspan class="s" x="1418.8" y="1549.4" font-size="54.5" textLength="31.0" lengthAdjust="spacingAndGlyphs">2</tspan><tspan class="c" x="1456.5" y="1534.3" font-size="77" textLength="51.0" lengthAdjust="spacingAndGlyphs">O</tspan><tspan class="s" x="1509.2" y="1549.4" font-size="54.5" textLength="29.4" lengthAdjust="spacingAndGlyphs">3</tspan></text>
<text><tspan class="g" x="1086.1" y="1656.4" font-size="77" textLength="40.7" lengthAdjust="spacingAndGlyphs">γ</tspan><tspan class="c" x="1129.9" y="1656.4" font-size="77" textLength="72.9" lengthAdjust="spacingAndGlyphs">Al</tspan><tspan class="s" x="1205.3" y="1671.7" font-size="54.5" textLength="31.0" lengthAdjust="spacingAndGlyphs">2</tspan><tspan class="c" x="1242.4" y="1656.4" font-size="77" textLength="50.4" lengthAdjust="spacingAndGlyphs">O</tspan><tspan class="s" x="1294.9" y="1671.7" font-size="54.5" textLength="29.2" lengthAdjust="spacingAndGlyphs">3</tspan></text>
</g>
</svg></body></html>
